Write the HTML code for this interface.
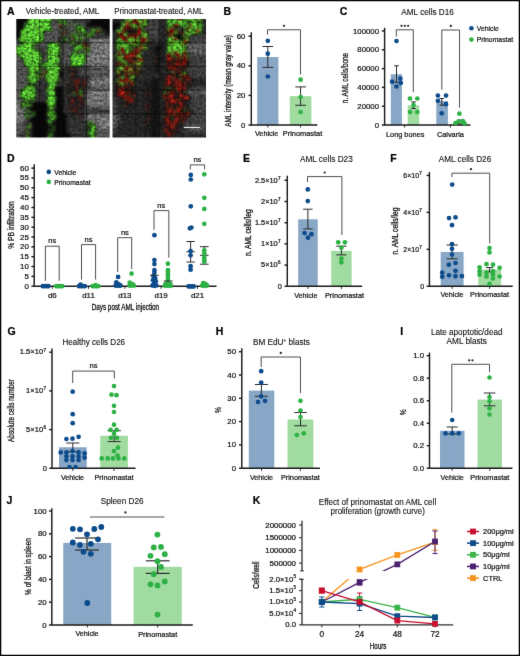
<!DOCTYPE html>
<html><head><meta charset="utf-8"><title>Figure</title>
<style>html,body{margin:0;padding:0;background:#fff;width:520px;height:656px;overflow:hidden}
svg{display:block;font-family:"Liberation Sans", sans-serif}
text{stroke:#111;stroke-width:0.22px;paint-order:stroke}
svg{will-change:transform;filter:none}
text.c{stroke-width:0.3px}
text.t{stroke-width:0.12px}</style></head>
<body><svg width="520" height="656" viewBox="0 0 520 656" font-family='"Liberation Sans", sans-serif'><defs><filter id="gb" x="0" y="0" width="520" height="656" filterUnits="userSpaceOnUse" color-interpolation-filters="sRGB"><feConvolveMatrix order="3" kernelMatrix="0.0049 0.0602 0.0049 0.0602 0.7396 0.0602 0.0049 0.0602 0.0049" divisor="1" edgeMode="duplicate"/></filter></defs><rect width="520" height="656" fill="#fff"/><g filter="url(#gb)"><defs><filter id="fa" x="-5%" y="-5%" width="110%" height="110%" color-interpolation-filters="sRGB">
<feGaussianBlur in="SourceGraphic" stdDeviation="1.8" result="b"/>
<feColorMatrix in="b" type="matrix" values="0 0 1 0 0  0 0 1 0 0  0 0 1 0 0  0 0 0 0 1" result="gf"/>
<feTurbulence type="fractalNoise" baseFrequency="0.38" numOctaves="3" seed="11" result="n0"/>
<feColorMatrix in="n0" type="matrix" values="1 0 0 0 0  1 0 0 0 0  1 0 0 0 0  0 0 0 0 1" result="n0g"/>
<feComposite in="gf" in2="n0g" operator="arithmetic" k1="1.2" k2="0.4" k3="0" k4="0" result="grey"/>
<feColorMatrix in="b" type="matrix" values="0 0 0 0 0  0 0 0 0 0  0 0 0 0 0  0 1 0 0 0" result="gi"/>
<feTurbulence type="fractalNoise" baseFrequency="0.24" numOctaves="3" seed="12" result="n1"/>
<feColorMatrix in="n1" type="matrix" values="0 0 0 0 0  0 0 0 0 0  0 0 0 0 0  2.2 0 0 0 -0.6" result="n1a"/>
<feComposite in="gi" in2="n1a" operator="arithmetic" k1="0" k2="2.4" k3="1.5" k4="-1.566" result="gm0"/>
<feGaussianBlur in="gm0" stdDeviation="0.8" result="gm"/>
<feFlood flood-color="#58c432" result="gc"/>
<feComposite in="gc" in2="gm" operator="in" result="gcol0"/>
<feComposite in="gcol0" in2="n0g" operator="arithmetic" k1="1.5" k2="0.2" k3="0" k4="0" result="gcol"/>
<feColorMatrix in="b" type="matrix" values="0 0 0 0 0  0 0 0 0 0  0 0 0 0 0  1 0 0 0 0" result="ri"/>
<feTurbulence type="fractalNoise" baseFrequency="0.24" numOctaves="3" seed="13" result="n2"/>
<feColorMatrix in="n2" type="matrix" values="0 0 0 0 0  0 0 0 0 0  0 0 0 0 0  2.2 0 0 0 -0.6" result="n2a"/>
<feComposite in="ri" in2="n2a" operator="arithmetic" k1="0" k2="2.4" k3="1.5" k4="-1.566" result="rm0"/>
<feGaussianBlur in="rm0" stdDeviation="0.8" result="rm"/>
<feFlood flood-color="#c42618" result="rc"/>
<feComposite in="rc" in2="rm" operator="in" result="rcol0"/>
<feComposite in="rcol0" in2="n0g" operator="arithmetic" k1="1.2" k2="0.3" k3="0" k4="0" result="rcol"/>
<feBlend in="gcol" in2="grey" mode="normal" result="o1"/>
<feBlend in="rcol" in2="o1" mode="normal"/>
</filter><filter id="fb" x="-5%" y="-5%" width="110%" height="110%" color-interpolation-filters="sRGB">
<feGaussianBlur in="SourceGraphic" stdDeviation="1.8" result="b"/>
<feColorMatrix in="b" type="matrix" values="0 0 1 0 0  0 0 1 0 0  0 0 1 0 0  0 0 0 0 1" result="gf"/>
<feTurbulence type="fractalNoise" baseFrequency="0.38" numOctaves="3" seed="23" result="n0"/>
<feColorMatrix in="n0" type="matrix" values="1 0 0 0 0  1 0 0 0 0  1 0 0 0 0  0 0 0 0 1" result="n0g"/>
<feComposite in="gf" in2="n0g" operator="arithmetic" k1="1.2" k2="0.4" k3="0" k4="0" result="grey"/>
<feColorMatrix in="b" type="matrix" values="0 0 0 0 0  0 0 0 0 0  0 0 0 0 0  0 1 0 0 0" result="gi"/>
<feTurbulence type="fractalNoise" baseFrequency="0.24" numOctaves="3" seed="24" result="n1"/>
<feColorMatrix in="n1" type="matrix" values="0 0 0 0 0  0 0 0 0 0  0 0 0 0 0  2.2 0 0 0 -0.6" result="n1a"/>
<feComposite in="gi" in2="n1a" operator="arithmetic" k1="0" k2="2.4" k3="1.5" k4="-1.566" result="gm0"/>
<feGaussianBlur in="gm0" stdDeviation="0.8" result="gm"/>
<feFlood flood-color="#58c432" result="gc"/>
<feComposite in="gc" in2="gm" operator="in" result="gcol0"/>
<feComposite in="gcol0" in2="n0g" operator="arithmetic" k1="1.5" k2="0.2" k3="0" k4="0" result="gcol"/>
<feColorMatrix in="b" type="matrix" values="0 0 0 0 0  0 0 0 0 0  0 0 0 0 0  1 0 0 0 0" result="ri"/>
<feTurbulence type="fractalNoise" baseFrequency="0.24" numOctaves="3" seed="25" result="n2"/>
<feColorMatrix in="n2" type="matrix" values="0 0 0 0 0  0 0 0 0 0  0 0 0 0 0  2.2 0 0 0 -0.6" result="n2a"/>
<feComposite in="ri" in2="n2a" operator="arithmetic" k1="0" k2="2.4" k3="1.5" k4="-1.566" result="rm0"/>
<feGaussianBlur in="rm0" stdDeviation="0.8" result="rm"/>
<feFlood flood-color="#c42618" result="rc"/>
<feComposite in="rc" in2="rm" operator="in" result="rcol0"/>
<feComposite in="rcol0" in2="n0g" operator="arithmetic" k1="1.2" k2="0.3" k3="0" k4="0" result="rcol"/>
<feBlend in="gcol" in2="grey" mode="normal" result="o1"/>
<feBlend in="rcol" in2="o1" mode="normal"/>
</filter></defs><clipPath id="ca"><rect x="16.30" y="18.90" width="93.40" height="118.70"/></clipPath>
<g clip-path="url(#ca)"><g filter="url(#fa)">
<rect x="10.30" y="12.90" width="10.19" height="10.26" fill="#000007"/>
<rect x="20.19" y="12.90" width="4.19" height="10.26" fill="#000007"/>
<rect x="24.08" y="12.90" width="4.19" height="10.26" fill="#000007"/>
<rect x="27.98" y="12.90" width="4.19" height="10.26" fill="#0fff1e"/>
<rect x="31.87" y="12.90" width="4.19" height="10.26" fill="#0fff1e"/>
<rect x="35.76" y="12.90" width="4.19" height="10.26" fill="#0fff1e"/>
<rect x="39.65" y="12.90" width="4.19" height="10.26" fill="#0fff1e"/>
<rect x="43.54" y="12.90" width="4.19" height="10.26" fill="#0fff1e"/>
<rect x="47.43" y="12.90" width="4.19" height="10.26" fill="#0fff1e"/>
<rect x="51.33" y="12.90" width="4.19" height="10.26" fill="#00004f"/>
<rect x="55.22" y="12.90" width="4.19" height="10.26" fill="#3f7233"/>
<rect x="59.11" y="12.90" width="4.19" height="10.26" fill="#3f7233"/>
<rect x="63.00" y="12.90" width="4.19" height="10.26" fill="#3f7233"/>
<rect x="66.89" y="12.90" width="4.19" height="10.26" fill="#0f7a4c"/>
<rect x="70.78" y="12.90" width="4.19" height="10.26" fill="#000030"/>
<rect x="74.68" y="12.90" width="4.19" height="10.26" fill="#000030"/>
<rect x="78.57" y="12.90" width="4.19" height="10.26" fill="#000030"/>
<rect x="82.46" y="12.90" width="4.19" height="10.26" fill="#000030"/>
<rect x="86.35" y="12.90" width="4.19" height="10.26" fill="#000030"/>
<rect x="90.24" y="12.90" width="4.19" height="10.26" fill="#000007"/>
<rect x="94.13" y="12.90" width="4.19" height="10.26" fill="#000007"/>
<rect x="98.03" y="12.90" width="4.19" height="10.26" fill="#000007"/>
<rect x="101.92" y="12.90" width="4.19" height="10.26" fill="#000007"/>
<rect x="105.81" y="12.90" width="10.19" height="10.26" fill="#000007"/>
<rect x="10.30" y="22.86" width="10.19" height="4.26" fill="#000007"/>
<rect x="20.19" y="22.86" width="4.19" height="4.26" fill="#000007"/>
<rect x="24.08" y="22.86" width="4.19" height="4.26" fill="#19b726"/>
<rect x="27.98" y="22.86" width="4.19" height="4.26" fill="#0fff1e"/>
<rect x="31.87" y="22.86" width="4.19" height="4.26" fill="#0fff1e"/>
<rect x="35.76" y="22.86" width="4.19" height="4.26" fill="#0fff1e"/>
<rect x="39.65" y="22.86" width="4.19" height="4.26" fill="#0fff1e"/>
<rect x="43.54" y="22.86" width="4.19" height="4.26" fill="#0fff1e"/>
<rect x="47.43" y="22.86" width="4.19" height="4.26" fill="#0fff1e"/>
<rect x="51.33" y="22.86" width="4.19" height="4.26" fill="#00004f"/>
<rect x="55.22" y="22.86" width="4.19" height="4.26" fill="#00004f"/>
<rect x="59.11" y="22.86" width="4.19" height="4.26" fill="#3f7233"/>
<rect x="63.00" y="22.86" width="4.19" height="4.26" fill="#3f7233"/>
<rect x="66.89" y="22.86" width="4.19" height="4.26" fill="#0f7a4c"/>
<rect x="70.78" y="22.86" width="4.19" height="4.26" fill="#0f7a4c"/>
<rect x="74.68" y="22.86" width="4.19" height="4.26" fill="#0f7a4c"/>
<rect x="78.57" y="22.86" width="4.19" height="4.26" fill="#0f7a4c"/>
<rect x="82.46" y="22.86" width="4.19" height="4.26" fill="#00004f"/>
<rect x="86.35" y="22.86" width="4.19" height="4.26" fill="#000007"/>
<rect x="90.24" y="22.86" width="4.19" height="4.26" fill="#000007"/>
<rect x="94.13" y="22.86" width="4.19" height="4.26" fill="#000007"/>
<rect x="98.03" y="22.86" width="4.19" height="4.26" fill="#000007"/>
<rect x="101.92" y="22.86" width="4.19" height="4.26" fill="#000007"/>
<rect x="105.81" y="22.86" width="10.19" height="4.26" fill="#000007"/>
<rect x="10.30" y="26.81" width="10.19" height="4.26" fill="#000007"/>
<rect x="20.19" y="26.81" width="4.19" height="4.26" fill="#000007"/>
<rect x="24.08" y="26.81" width="4.19" height="4.26" fill="#0fff1e"/>
<rect x="27.98" y="26.81" width="4.19" height="4.26" fill="#0fff1e"/>
<rect x="31.87" y="26.81" width="4.19" height="4.26" fill="#0fff1e"/>
<rect x="35.76" y="26.81" width="4.19" height="4.26" fill="#0fff1e"/>
<rect x="39.65" y="26.81" width="4.19" height="4.26" fill="#0fff1e"/>
<rect x="43.54" y="26.81" width="4.19" height="4.26" fill="#0fff1e"/>
<rect x="47.43" y="26.81" width="4.19" height="4.26" fill="#0fff1e"/>
<rect x="51.33" y="26.81" width="4.19" height="4.26" fill="#00004f"/>
<rect x="55.22" y="26.81" width="4.19" height="4.26" fill="#00004f"/>
<rect x="59.11" y="26.81" width="4.19" height="4.26" fill="#3f7233"/>
<rect x="63.00" y="26.81" width="4.19" height="4.26" fill="#3f7233"/>
<rect x="66.89" y="26.81" width="4.19" height="4.26" fill="#00004f"/>
<rect x="70.78" y="26.81" width="4.19" height="4.26" fill="#00004f"/>
<rect x="74.68" y="26.81" width="4.19" height="4.26" fill="#19b726"/>
<rect x="78.57" y="26.81" width="4.19" height="4.26" fill="#19b726"/>
<rect x="82.46" y="26.81" width="4.19" height="4.26" fill="#19b726"/>
<rect x="86.35" y="26.81" width="4.19" height="4.26" fill="#000030"/>
<rect x="90.24" y="26.81" width="4.19" height="4.26" fill="#3f7233"/>
<rect x="94.13" y="26.81" width="4.19" height="4.26" fill="#3f7233"/>
<rect x="98.03" y="26.81" width="4.19" height="4.26" fill="#3f7233"/>
<rect x="101.92" y="26.81" width="4.19" height="4.26" fill="#000007"/>
<rect x="105.81" y="26.81" width="10.19" height="4.26" fill="#000007"/>
<rect x="10.30" y="30.77" width="10.19" height="4.26" fill="#000007"/>
<rect x="20.19" y="30.77" width="4.19" height="4.26" fill="#0fff1e"/>
<rect x="24.08" y="30.77" width="4.19" height="4.26" fill="#0fff1e"/>
<rect x="27.98" y="30.77" width="4.19" height="4.26" fill="#0fff1e"/>
<rect x="31.87" y="30.77" width="4.19" height="4.26" fill="#0fff1e"/>
<rect x="35.76" y="30.77" width="4.19" height="4.26" fill="#0fff1e"/>
<rect x="39.65" y="30.77" width="4.19" height="4.26" fill="#0fff1e"/>
<rect x="43.54" y="30.77" width="4.19" height="4.26" fill="#00004f"/>
<rect x="47.43" y="30.77" width="4.19" height="4.26" fill="#00004f"/>
<rect x="51.33" y="30.77" width="4.19" height="4.26" fill="#00004f"/>
<rect x="55.22" y="30.77" width="4.19" height="4.26" fill="#00004f"/>
<rect x="59.11" y="30.77" width="4.19" height="4.26" fill="#3f7233"/>
<rect x="63.00" y="30.77" width="4.19" height="4.26" fill="#3f7233"/>
<rect x="66.89" y="30.77" width="4.19" height="4.26" fill="#3f7233"/>
<rect x="70.78" y="30.77" width="4.19" height="4.26" fill="#0f7a4c"/>
<rect x="74.68" y="30.77" width="4.19" height="4.26" fill="#3f7233"/>
<rect x="78.57" y="30.77" width="4.19" height="4.26" fill="#0f7a4c"/>
<rect x="82.46" y="30.77" width="4.19" height="4.26" fill="#3f7233"/>
<rect x="86.35" y="30.77" width="4.19" height="4.26" fill="#0f7a4c"/>
<rect x="90.24" y="30.77" width="4.19" height="4.26" fill="#3f7233"/>
<rect x="94.13" y="30.77" width="4.19" height="4.26" fill="#3f7233"/>
<rect x="98.03" y="30.77" width="4.19" height="4.26" fill="#3f7233"/>
<rect x="101.92" y="30.77" width="4.19" height="4.26" fill="#3f7233"/>
<rect x="105.81" y="30.77" width="10.19" height="4.26" fill="#000007"/>
<rect x="10.30" y="34.73" width="10.19" height="4.26" fill="#000007"/>
<rect x="20.19" y="34.73" width="4.19" height="4.26" fill="#0fff1e"/>
<rect x="24.08" y="34.73" width="4.19" height="4.26" fill="#0fff1e"/>
<rect x="27.98" y="34.73" width="4.19" height="4.26" fill="#0fff1e"/>
<rect x="31.87" y="34.73" width="4.19" height="4.26" fill="#0fff1e"/>
<rect x="35.76" y="34.73" width="4.19" height="4.26" fill="#0fff1e"/>
<rect x="39.65" y="34.73" width="4.19" height="4.26" fill="#0fff1e"/>
<rect x="43.54" y="34.73" width="4.19" height="4.26" fill="#00004f"/>
<rect x="47.43" y="34.73" width="4.19" height="4.26" fill="#00004f"/>
<rect x="51.33" y="34.73" width="4.19" height="4.26" fill="#00004f"/>
<rect x="55.22" y="34.73" width="4.19" height="4.26" fill="#00004f"/>
<rect x="59.11" y="34.73" width="4.19" height="4.26" fill="#3f7233"/>
<rect x="63.00" y="34.73" width="4.19" height="4.26" fill="#3f7233"/>
<rect x="66.89" y="34.73" width="4.19" height="4.26" fill="#0f7a4c"/>
<rect x="70.78" y="34.73" width="4.19" height="4.26" fill="#3f7233"/>
<rect x="74.68" y="34.73" width="4.19" height="4.26" fill="#0f7a4c"/>
<rect x="78.57" y="34.73" width="4.19" height="4.26" fill="#3f7233"/>
<rect x="82.46" y="34.73" width="4.19" height="4.26" fill="#0f7a4c"/>
<rect x="86.35" y="34.73" width="4.19" height="4.26" fill="#3f7233"/>
<rect x="90.24" y="34.73" width="4.19" height="4.26" fill="#3f7233"/>
<rect x="94.13" y="34.73" width="4.19" height="4.26" fill="#000030"/>
<rect x="98.03" y="34.73" width="4.19" height="4.26" fill="#000030"/>
<rect x="101.92" y="34.73" width="4.19" height="4.26" fill="#000030"/>
<rect x="105.81" y="34.73" width="10.19" height="4.26" fill="#000030"/>
<rect x="10.30" y="38.68" width="10.19" height="4.26" fill="#000030"/>
<rect x="20.19" y="38.68" width="4.19" height="4.26" fill="#0fff1e"/>
<rect x="24.08" y="38.68" width="4.19" height="4.26" fill="#0fff1e"/>
<rect x="27.98" y="38.68" width="4.19" height="4.26" fill="#0fff1e"/>
<rect x="31.87" y="38.68" width="4.19" height="4.26" fill="#0fff1e"/>
<rect x="35.76" y="38.68" width="4.19" height="4.26" fill="#0fff1e"/>
<rect x="39.65" y="38.68" width="4.19" height="4.26" fill="#0fff1e"/>
<rect x="43.54" y="38.68" width="4.19" height="4.26" fill="#00004f"/>
<rect x="47.43" y="38.68" width="4.19" height="4.26" fill="#00004f"/>
<rect x="51.33" y="38.68" width="4.19" height="4.26" fill="#00004f"/>
<rect x="55.22" y="38.68" width="4.19" height="4.26" fill="#00004f"/>
<rect x="59.11" y="38.68" width="4.19" height="4.26" fill="#0c7211"/>
<rect x="63.00" y="38.68" width="4.19" height="4.26" fill="#0c7211"/>
<rect x="66.89" y="38.68" width="4.19" height="4.26" fill="#3f7233"/>
<rect x="70.78" y="38.68" width="4.19" height="4.26" fill="#0f7a4c"/>
<rect x="74.68" y="38.68" width="4.19" height="4.26" fill="#3f7233"/>
<rect x="78.57" y="38.68" width="4.19" height="4.26" fill="#0f7a4c"/>
<rect x="82.46" y="38.68" width="4.19" height="4.26" fill="#3f7233"/>
<rect x="86.35" y="38.68" width="4.19" height="4.26" fill="#0f7a4c"/>
<rect x="90.24" y="38.68" width="4.19" height="4.26" fill="#000072"/>
<rect x="94.13" y="38.68" width="4.19" height="4.26" fill="#000072"/>
<rect x="98.03" y="38.68" width="4.19" height="4.26" fill="#000072"/>
<rect x="101.92" y="38.68" width="4.19" height="4.26" fill="#000072"/>
<rect x="105.81" y="38.68" width="10.19" height="4.26" fill="#000072"/>
<rect x="10.30" y="42.64" width="10.19" height="4.26" fill="#00004f"/>
<rect x="20.19" y="42.64" width="4.19" height="4.26" fill="#19b726"/>
<rect x="24.08" y="42.64" width="4.19" height="4.26" fill="#19b726"/>
<rect x="27.98" y="42.64" width="4.19" height="4.26" fill="#19b726"/>
<rect x="31.87" y="42.64" width="4.19" height="4.26" fill="#19b726"/>
<rect x="35.76" y="42.64" width="4.19" height="4.26" fill="#00004f"/>
<rect x="39.65" y="42.64" width="4.19" height="4.26" fill="#00004f"/>
<rect x="43.54" y="42.64" width="4.19" height="4.26" fill="#00004f"/>
<rect x="47.43" y="42.64" width="4.19" height="4.26" fill="#0fff1e"/>
<rect x="51.33" y="42.64" width="4.19" height="4.26" fill="#0fff1e"/>
<rect x="55.22" y="42.64" width="4.19" height="4.26" fill="#0fff1e"/>
<rect x="59.11" y="42.64" width="4.19" height="4.26" fill="#000030"/>
<rect x="63.00" y="42.64" width="4.19" height="4.26" fill="#00004f"/>
<rect x="66.89" y="42.64" width="4.19" height="4.26" fill="#00004f"/>
<rect x="70.78" y="42.64" width="4.19" height="4.26" fill="#0f7a4c"/>
<rect x="74.68" y="42.64" width="4.19" height="4.26" fill="#54141e"/>
<rect x="78.57" y="42.64" width="4.19" height="4.26" fill="#19b726"/>
<rect x="82.46" y="42.64" width="4.19" height="4.26" fill="#54141e"/>
<rect x="86.35" y="42.64" width="4.19" height="4.26" fill="#54141e"/>
<rect x="90.24" y="42.64" width="4.19" height="4.26" fill="#000072"/>
<rect x="94.13" y="42.64" width="4.19" height="4.26" fill="#000072"/>
<rect x="98.03" y="42.64" width="4.19" height="4.26" fill="#000072"/>
<rect x="101.92" y="42.64" width="4.19" height="4.26" fill="#000072"/>
<rect x="105.81" y="42.64" width="10.19" height="4.26" fill="#000072"/>
<rect x="10.30" y="46.60" width="10.19" height="4.26" fill="#0fff1e"/>
<rect x="20.19" y="46.60" width="4.19" height="4.26" fill="#0fff1e"/>
<rect x="24.08" y="46.60" width="4.19" height="4.26" fill="#0fff1e"/>
<rect x="27.98" y="46.60" width="4.19" height="4.26" fill="#0fff1e"/>
<rect x="31.87" y="46.60" width="4.19" height="4.26" fill="#0fff1e"/>
<rect x="35.76" y="46.60" width="4.19" height="4.26" fill="#00004f"/>
<rect x="39.65" y="46.60" width="4.19" height="4.26" fill="#000030"/>
<rect x="43.54" y="46.60" width="4.19" height="4.26" fill="#00004f"/>
<rect x="47.43" y="46.60" width="4.19" height="4.26" fill="#0fff1e"/>
<rect x="51.33" y="46.60" width="4.19" height="4.26" fill="#0fff1e"/>
<rect x="55.22" y="46.60" width="4.19" height="4.26" fill="#0fff1e"/>
<rect x="59.11" y="46.60" width="4.19" height="4.26" fill="#000030"/>
<rect x="63.00" y="46.60" width="4.19" height="4.26" fill="#00004f"/>
<rect x="66.89" y="46.60" width="4.19" height="4.26" fill="#00004f"/>
<rect x="70.78" y="46.60" width="4.19" height="4.26" fill="#19b726"/>
<rect x="74.68" y="46.60" width="4.19" height="4.26" fill="#0fff1e"/>
<rect x="78.57" y="46.60" width="4.19" height="4.26" fill="#19b726"/>
<rect x="82.46" y="46.60" width="4.19" height="4.26" fill="#19b726"/>
<rect x="86.35" y="46.60" width="4.19" height="4.26" fill="#3f7233"/>
<rect x="90.24" y="46.60" width="4.19" height="4.26" fill="#000072"/>
<rect x="94.13" y="46.60" width="4.19" height="4.26" fill="#000072"/>
<rect x="98.03" y="46.60" width="4.19" height="4.26" fill="#000072"/>
<rect x="101.92" y="46.60" width="4.19" height="4.26" fill="#000072"/>
<rect x="105.81" y="46.60" width="10.19" height="4.26" fill="#000072"/>
<rect x="10.30" y="50.55" width="10.19" height="4.26" fill="#0fff1e"/>
<rect x="20.19" y="50.55" width="4.19" height="4.26" fill="#0fff1e"/>
<rect x="24.08" y="50.55" width="4.19" height="4.26" fill="#0fff1e"/>
<rect x="27.98" y="50.55" width="4.19" height="4.26" fill="#0fff1e"/>
<rect x="31.87" y="50.55" width="4.19" height="4.26" fill="#0fff1e"/>
<rect x="35.76" y="50.55" width="4.19" height="4.26" fill="#0fff1e"/>
<rect x="39.65" y="50.55" width="4.19" height="4.26" fill="#000030"/>
<rect x="43.54" y="50.55" width="4.19" height="4.26" fill="#000030"/>
<rect x="47.43" y="50.55" width="4.19" height="4.26" fill="#0fff1e"/>
<rect x="51.33" y="50.55" width="4.19" height="4.26" fill="#0fff1e"/>
<rect x="55.22" y="50.55" width="4.19" height="4.26" fill="#0fff1e"/>
<rect x="59.11" y="50.55" width="4.19" height="4.26" fill="#3f7233"/>
<rect x="63.00" y="50.55" width="4.19" height="4.26" fill="#00004f"/>
<rect x="66.89" y="50.55" width="4.19" height="4.26" fill="#00004f"/>
<rect x="70.78" y="50.55" width="4.19" height="4.26" fill="#0f7a4c"/>
<rect x="74.68" y="50.55" width="4.19" height="4.26" fill="#0f7a4c"/>
<rect x="78.57" y="50.55" width="4.19" height="4.26" fill="#0f7a4c"/>
<rect x="82.46" y="50.55" width="4.19" height="4.26" fill="#0f7a4c"/>
<rect x="86.35" y="50.55" width="4.19" height="4.26" fill="#0f7a4c"/>
<rect x="90.24" y="50.55" width="4.19" height="4.26" fill="#000072"/>
<rect x="94.13" y="50.55" width="4.19" height="4.26" fill="#000072"/>
<rect x="98.03" y="50.55" width="4.19" height="4.26" fill="#000072"/>
<rect x="101.92" y="50.55" width="4.19" height="4.26" fill="#000072"/>
<rect x="105.81" y="50.55" width="10.19" height="4.26" fill="#000072"/>
<rect x="10.30" y="54.51" width="10.19" height="4.26" fill="#00004f"/>
<rect x="20.19" y="54.51" width="4.19" height="4.26" fill="#0fff1e"/>
<rect x="24.08" y="54.51" width="4.19" height="4.26" fill="#0fff1e"/>
<rect x="27.98" y="54.51" width="4.19" height="4.26" fill="#0fff1e"/>
<rect x="31.87" y="54.51" width="4.19" height="4.26" fill="#0fff1e"/>
<rect x="35.76" y="54.51" width="4.19" height="4.26" fill="#0fff1e"/>
<rect x="39.65" y="54.51" width="4.19" height="4.26" fill="#0fff1e"/>
<rect x="43.54" y="54.51" width="4.19" height="4.26" fill="#00004f"/>
<rect x="47.43" y="54.51" width="4.19" height="4.26" fill="#0fff1e"/>
<rect x="51.33" y="54.51" width="4.19" height="4.26" fill="#0fff1e"/>
<rect x="55.22" y="54.51" width="4.19" height="4.26" fill="#0fff1e"/>
<rect x="59.11" y="54.51" width="4.19" height="4.26" fill="#000030"/>
<rect x="63.00" y="54.51" width="4.19" height="4.26" fill="#00004f"/>
<rect x="66.89" y="54.51" width="4.19" height="4.26" fill="#00004f"/>
<rect x="70.78" y="54.51" width="4.19" height="4.26" fill="#0fff1e"/>
<rect x="74.68" y="54.51" width="4.19" height="4.26" fill="#0fff1e"/>
<rect x="78.57" y="54.51" width="4.19" height="4.26" fill="#0fff1e"/>
<rect x="82.46" y="54.51" width="4.19" height="4.26" fill="#0fff1e"/>
<rect x="86.35" y="54.51" width="4.19" height="4.26" fill="#000072"/>
<rect x="90.24" y="54.51" width="4.19" height="4.26" fill="#000072"/>
<rect x="94.13" y="54.51" width="4.19" height="4.26" fill="#000072"/>
<rect x="98.03" y="54.51" width="4.19" height="4.26" fill="#000072"/>
<rect x="101.92" y="54.51" width="4.19" height="4.26" fill="#000072"/>
<rect x="105.81" y="54.51" width="10.19" height="4.26" fill="#000072"/>
<rect x="10.30" y="58.47" width="10.19" height="4.26" fill="#00004f"/>
<rect x="20.19" y="58.47" width="4.19" height="4.26" fill="#00004f"/>
<rect x="24.08" y="58.47" width="4.19" height="4.26" fill="#0fff1e"/>
<rect x="27.98" y="58.47" width="4.19" height="4.26" fill="#0fff1e"/>
<rect x="31.87" y="58.47" width="4.19" height="4.26" fill="#0fff1e"/>
<rect x="35.76" y="58.47" width="4.19" height="4.26" fill="#0fff1e"/>
<rect x="39.65" y="58.47" width="4.19" height="4.26" fill="#00004f"/>
<rect x="43.54" y="58.47" width="4.19" height="4.26" fill="#00004f"/>
<rect x="47.43" y="58.47" width="4.19" height="4.26" fill="#0fff1e"/>
<rect x="51.33" y="58.47" width="4.19" height="4.26" fill="#0fff1e"/>
<rect x="55.22" y="58.47" width="4.19" height="4.26" fill="#0fff1e"/>
<rect x="59.11" y="58.47" width="4.19" height="4.26" fill="#000030"/>
<rect x="63.00" y="58.47" width="4.19" height="4.26" fill="#00004f"/>
<rect x="66.89" y="58.47" width="4.19" height="4.26" fill="#00004f"/>
<rect x="70.78" y="58.47" width="4.19" height="4.26" fill="#0fff1e"/>
<rect x="74.68" y="58.47" width="4.19" height="4.26" fill="#0fff1e"/>
<rect x="78.57" y="58.47" width="4.19" height="4.26" fill="#0fff1e"/>
<rect x="82.46" y="58.47" width="4.19" height="4.26" fill="#0fff1e"/>
<rect x="86.35" y="58.47" width="4.19" height="4.26" fill="#000072"/>
<rect x="90.24" y="58.47" width="4.19" height="4.26" fill="#000072"/>
<rect x="94.13" y="58.47" width="4.19" height="4.26" fill="#000072"/>
<rect x="98.03" y="58.47" width="4.19" height="4.26" fill="#000072"/>
<rect x="101.92" y="58.47" width="4.19" height="4.26" fill="#000072"/>
<rect x="105.81" y="58.47" width="10.19" height="4.26" fill="#000072"/>
<rect x="10.30" y="62.42" width="10.19" height="4.26" fill="#00004f"/>
<rect x="20.19" y="62.42" width="4.19" height="4.26" fill="#00004f"/>
<rect x="24.08" y="62.42" width="4.19" height="4.26" fill="#0fff1e"/>
<rect x="27.98" y="62.42" width="4.19" height="4.26" fill="#0fff1e"/>
<rect x="31.87" y="62.42" width="4.19" height="4.26" fill="#0fff1e"/>
<rect x="35.76" y="62.42" width="4.19" height="4.26" fill="#0fff1e"/>
<rect x="39.65" y="62.42" width="4.19" height="4.26" fill="#3f7233"/>
<rect x="43.54" y="62.42" width="4.19" height="4.26" fill="#0fff1e"/>
<rect x="47.43" y="62.42" width="4.19" height="4.26" fill="#0fff1e"/>
<rect x="51.33" y="62.42" width="4.19" height="4.26" fill="#0fff1e"/>
<rect x="55.22" y="62.42" width="4.19" height="4.26" fill="#0fff1e"/>
<rect x="59.11" y="62.42" width="4.19" height="4.26" fill="#000030"/>
<rect x="63.00" y="62.42" width="4.19" height="4.26" fill="#00004f"/>
<rect x="66.89" y="62.42" width="4.19" height="4.26" fill="#00004f"/>
<rect x="70.78" y="62.42" width="4.19" height="4.26" fill="#0fff1e"/>
<rect x="74.68" y="62.42" width="4.19" height="4.26" fill="#0fff1e"/>
<rect x="78.57" y="62.42" width="4.19" height="4.26" fill="#0fff1e"/>
<rect x="82.46" y="62.42" width="4.19" height="4.26" fill="#00004f"/>
<rect x="86.35" y="62.42" width="4.19" height="4.26" fill="#000072"/>
<rect x="90.24" y="62.42" width="4.19" height="4.26" fill="#000072"/>
<rect x="94.13" y="62.42" width="4.19" height="4.26" fill="#000072"/>
<rect x="98.03" y="62.42" width="4.19" height="4.26" fill="#000072"/>
<rect x="101.92" y="62.42" width="4.19" height="4.26" fill="#000072"/>
<rect x="105.81" y="62.42" width="10.19" height="4.26" fill="#000072"/>
<rect x="10.30" y="66.38" width="10.19" height="4.26" fill="#00004f"/>
<rect x="20.19" y="66.38" width="4.19" height="4.26" fill="#00004f"/>
<rect x="24.08" y="66.38" width="4.19" height="4.26" fill="#00004f"/>
<rect x="27.98" y="66.38" width="4.19" height="4.26" fill="#0fff1e"/>
<rect x="31.87" y="66.38" width="4.19" height="4.26" fill="#0fff1e"/>
<rect x="35.76" y="66.38" width="4.19" height="4.26" fill="#0fff1e"/>
<rect x="39.65" y="66.38" width="4.19" height="4.26" fill="#3f7233"/>
<rect x="43.54" y="66.38" width="4.19" height="4.26" fill="#3f7233"/>
<rect x="47.43" y="66.38" width="4.19" height="4.26" fill="#0fff1e"/>
<rect x="51.33" y="66.38" width="4.19" height="4.26" fill="#0fff1e"/>
<rect x="55.22" y="66.38" width="4.19" height="4.26" fill="#0fff1e"/>
<rect x="59.11" y="66.38" width="4.19" height="4.26" fill="#000030"/>
<rect x="63.00" y="66.38" width="4.19" height="4.26" fill="#000030"/>
<rect x="66.89" y="66.38" width="4.19" height="4.26" fill="#54141e"/>
<rect x="70.78" y="66.38" width="4.19" height="4.26" fill="#54141e"/>
<rect x="74.68" y="66.38" width="4.19" height="4.26" fill="#54141e"/>
<rect x="78.57" y="66.38" width="4.19" height="4.26" fill="#000030"/>
<rect x="82.46" y="66.38" width="4.19" height="4.26" fill="#000030"/>
<rect x="86.35" y="66.38" width="4.19" height="4.26" fill="#000030"/>
<rect x="90.24" y="66.38" width="4.19" height="4.26" fill="#00004f"/>
<rect x="94.13" y="66.38" width="4.19" height="4.26" fill="#00004f"/>
<rect x="98.03" y="66.38" width="4.19" height="4.26" fill="#00004f"/>
<rect x="101.92" y="66.38" width="4.19" height="4.26" fill="#00004f"/>
<rect x="105.81" y="66.38" width="10.19" height="4.26" fill="#00004f"/>
<rect x="10.30" y="70.34" width="10.19" height="4.26" fill="#00004f"/>
<rect x="20.19" y="70.34" width="4.19" height="4.26" fill="#00004f"/>
<rect x="24.08" y="70.34" width="4.19" height="4.26" fill="#00004f"/>
<rect x="27.98" y="70.34" width="4.19" height="4.26" fill="#0fff1e"/>
<rect x="31.87" y="70.34" width="4.19" height="4.26" fill="#0fff1e"/>
<rect x="35.76" y="70.34" width="4.19" height="4.26" fill="#3f7233"/>
<rect x="39.65" y="70.34" width="4.19" height="4.26" fill="#3f7233"/>
<rect x="43.54" y="70.34" width="4.19" height="4.26" fill="#3f7233"/>
<rect x="47.43" y="70.34" width="4.19" height="4.26" fill="#0fff1e"/>
<rect x="51.33" y="70.34" width="4.19" height="4.26" fill="#0fff1e"/>
<rect x="55.22" y="70.34" width="4.19" height="4.26" fill="#0fff1e"/>
<rect x="59.11" y="70.34" width="4.19" height="4.26" fill="#000007"/>
<rect x="63.00" y="70.34" width="4.19" height="4.26" fill="#000030"/>
<rect x="66.89" y="70.34" width="4.19" height="4.26" fill="#54141e"/>
<rect x="70.78" y="70.34" width="4.19" height="4.26" fill="#54141e"/>
<rect x="74.68" y="70.34" width="4.19" height="4.26" fill="#54141e"/>
<rect x="78.57" y="70.34" width="4.19" height="4.26" fill="#00004f"/>
<rect x="82.46" y="70.34" width="4.19" height="4.26" fill="#00004f"/>
<rect x="86.35" y="70.34" width="4.19" height="4.26" fill="#00004f"/>
<rect x="90.24" y="70.34" width="4.19" height="4.26" fill="#00004f"/>
<rect x="94.13" y="70.34" width="4.19" height="4.26" fill="#00004f"/>
<rect x="98.03" y="70.34" width="4.19" height="4.26" fill="#00004f"/>
<rect x="101.92" y="70.34" width="4.19" height="4.26" fill="#00004f"/>
<rect x="105.81" y="70.34" width="10.19" height="4.26" fill="#00004f"/>
<rect x="10.30" y="74.29" width="10.19" height="4.26" fill="#00004f"/>
<rect x="20.19" y="74.29" width="4.19" height="4.26" fill="#00004f"/>
<rect x="24.08" y="74.29" width="4.19" height="4.26" fill="#00004f"/>
<rect x="27.98" y="74.29" width="4.19" height="4.26" fill="#19b726"/>
<rect x="31.87" y="74.29" width="4.19" height="4.26" fill="#19b726"/>
<rect x="35.76" y="74.29" width="4.19" height="4.26" fill="#3f7233"/>
<rect x="39.65" y="74.29" width="4.19" height="4.26" fill="#3f7233"/>
<rect x="43.54" y="74.29" width="4.19" height="4.26" fill="#3f7233"/>
<rect x="47.43" y="74.29" width="4.19" height="4.26" fill="#0fff1e"/>
<rect x="51.33" y="74.29" width="4.19" height="4.26" fill="#0fff1e"/>
<rect x="55.22" y="74.29" width="4.19" height="4.26" fill="#0fff1e"/>
<rect x="59.11" y="74.29" width="4.19" height="4.26" fill="#000007"/>
<rect x="63.00" y="74.29" width="4.19" height="4.26" fill="#000030"/>
<rect x="66.89" y="74.29" width="4.19" height="4.26" fill="#000030"/>
<rect x="70.78" y="74.29" width="4.19" height="4.26" fill="#54141e"/>
<rect x="74.68" y="74.29" width="4.19" height="4.26" fill="#54141e"/>
<rect x="78.57" y="74.29" width="4.19" height="4.26" fill="#000030"/>
<rect x="82.46" y="74.29" width="4.19" height="4.26" fill="#000030"/>
<rect x="86.35" y="74.29" width="4.19" height="4.26" fill="#000030"/>
<rect x="90.24" y="74.29" width="4.19" height="4.26" fill="#00004f"/>
<rect x="94.13" y="74.29" width="4.19" height="4.26" fill="#00004f"/>
<rect x="98.03" y="74.29" width="4.19" height="4.26" fill="#00004f"/>
<rect x="101.92" y="74.29" width="4.19" height="4.26" fill="#00004f"/>
<rect x="105.81" y="74.29" width="10.19" height="4.26" fill="#00004f"/>
<rect x="10.30" y="78.25" width="10.19" height="4.26" fill="#00004f"/>
<rect x="20.19" y="78.25" width="4.19" height="4.26" fill="#00004f"/>
<rect x="24.08" y="78.25" width="4.19" height="4.26" fill="#00004f"/>
<rect x="27.98" y="78.25" width="4.19" height="4.26" fill="#0fff1e"/>
<rect x="31.87" y="78.25" width="4.19" height="4.26" fill="#0fff1e"/>
<rect x="35.76" y="78.25" width="4.19" height="4.26" fill="#3f7233"/>
<rect x="39.65" y="78.25" width="4.19" height="4.26" fill="#000030"/>
<rect x="43.54" y="78.25" width="4.19" height="4.26" fill="#000030"/>
<rect x="47.43" y="78.25" width="4.19" height="4.26" fill="#0fff1e"/>
<rect x="51.33" y="78.25" width="4.19" height="4.26" fill="#0fff1e"/>
<rect x="55.22" y="78.25" width="4.19" height="4.26" fill="#0fff1e"/>
<rect x="59.11" y="78.25" width="4.19" height="4.26" fill="#000030"/>
<rect x="63.00" y="78.25" width="4.19" height="4.26" fill="#000030"/>
<rect x="66.89" y="78.25" width="4.19" height="4.26" fill="#000030"/>
<rect x="70.78" y="78.25" width="4.19" height="4.26" fill="#54141e"/>
<rect x="74.68" y="78.25" width="4.19" height="4.26" fill="#54141e"/>
<rect x="78.57" y="78.25" width="4.19" height="4.26" fill="#54141e"/>
<rect x="82.46" y="78.25" width="4.19" height="4.26" fill="#54141e"/>
<rect x="86.35" y="78.25" width="4.19" height="4.26" fill="#000030"/>
<rect x="90.24" y="78.25" width="4.19" height="4.26" fill="#000072"/>
<rect x="94.13" y="78.25" width="4.19" height="4.26" fill="#000072"/>
<rect x="98.03" y="78.25" width="4.19" height="4.26" fill="#000072"/>
<rect x="101.92" y="78.25" width="4.19" height="4.26" fill="#000072"/>
<rect x="105.81" y="78.25" width="10.19" height="4.26" fill="#000072"/>
<rect x="10.30" y="82.21" width="10.19" height="4.26" fill="#00004f"/>
<rect x="20.19" y="82.21" width="4.19" height="4.26" fill="#00004f"/>
<rect x="24.08" y="82.21" width="4.19" height="4.26" fill="#00004f"/>
<rect x="27.98" y="82.21" width="4.19" height="4.26" fill="#0c7211"/>
<rect x="31.87" y="82.21" width="4.19" height="4.26" fill="#0c7211"/>
<rect x="35.76" y="82.21" width="4.19" height="4.26" fill="#000030"/>
<rect x="39.65" y="82.21" width="4.19" height="4.26" fill="#000030"/>
<rect x="43.54" y="82.21" width="4.19" height="4.26" fill="#000030"/>
<rect x="47.43" y="82.21" width="4.19" height="4.26" fill="#0fff1e"/>
<rect x="51.33" y="82.21" width="4.19" height="4.26" fill="#0fff1e"/>
<rect x="55.22" y="82.21" width="4.19" height="4.26" fill="#000030"/>
<rect x="59.11" y="82.21" width="4.19" height="4.26" fill="#000030"/>
<rect x="63.00" y="82.21" width="4.19" height="4.26" fill="#000030"/>
<rect x="66.89" y="82.21" width="4.19" height="4.26" fill="#54141e"/>
<rect x="70.78" y="82.21" width="4.19" height="4.26" fill="#54141e"/>
<rect x="74.68" y="82.21" width="4.19" height="4.26" fill="#54141e"/>
<rect x="78.57" y="82.21" width="4.19" height="4.26" fill="#54141e"/>
<rect x="82.46" y="82.21" width="4.19" height="4.26" fill="#54141e"/>
<rect x="86.35" y="82.21" width="4.19" height="4.26" fill="#00004f"/>
<rect x="90.24" y="82.21" width="4.19" height="4.26" fill="#000072"/>
<rect x="94.13" y="82.21" width="4.19" height="4.26" fill="#000072"/>
<rect x="98.03" y="82.21" width="4.19" height="4.26" fill="#000072"/>
<rect x="101.92" y="82.21" width="4.19" height="4.26" fill="#000072"/>
<rect x="105.81" y="82.21" width="10.19" height="4.26" fill="#000072"/>
<rect x="10.30" y="86.16" width="10.19" height="4.26" fill="#00004f"/>
<rect x="20.19" y="86.16" width="4.19" height="4.26" fill="#00004f"/>
<rect x="24.08" y="86.16" width="4.19" height="4.26" fill="#0fff1e"/>
<rect x="27.98" y="86.16" width="4.19" height="4.26" fill="#0fff1e"/>
<rect x="31.87" y="86.16" width="4.19" height="4.26" fill="#0fff1e"/>
<rect x="35.76" y="86.16" width="4.19" height="4.26" fill="#000030"/>
<rect x="39.65" y="86.16" width="4.19" height="4.26" fill="#000030"/>
<rect x="43.54" y="86.16" width="4.19" height="4.26" fill="#000030"/>
<rect x="47.43" y="86.16" width="4.19" height="4.26" fill="#0fff1e"/>
<rect x="51.33" y="86.16" width="4.19" height="4.26" fill="#0fff1e"/>
<rect x="55.22" y="86.16" width="4.19" height="4.26" fill="#000007"/>
<rect x="59.11" y="86.16" width="4.19" height="4.26" fill="#000007"/>
<rect x="63.00" y="86.16" width="4.19" height="4.26" fill="#000030"/>
<rect x="66.89" y="86.16" width="4.19" height="4.26" fill="#54141e"/>
<rect x="70.78" y="86.16" width="4.19" height="4.26" fill="#54141e"/>
<rect x="74.68" y="86.16" width="4.19" height="4.26" fill="#54141e"/>
<rect x="78.57" y="86.16" width="4.19" height="4.26" fill="#54141e"/>
<rect x="82.46" y="86.16" width="4.19" height="4.26" fill="#54141e"/>
<rect x="86.35" y="86.16" width="4.19" height="4.26" fill="#000030"/>
<rect x="90.24" y="86.16" width="4.19" height="4.26" fill="#00004f"/>
<rect x="94.13" y="86.16" width="4.19" height="4.26" fill="#00004f"/>
<rect x="98.03" y="86.16" width="4.19" height="4.26" fill="#00004f"/>
<rect x="101.92" y="86.16" width="4.19" height="4.26" fill="#00004f"/>
<rect x="105.81" y="86.16" width="10.19" height="4.26" fill="#00004f"/>
<rect x="10.30" y="90.12" width="10.19" height="4.26" fill="#00004f"/>
<rect x="20.19" y="90.12" width="4.19" height="4.26" fill="#0fff1e"/>
<rect x="24.08" y="90.12" width="4.19" height="4.26" fill="#0fff1e"/>
<rect x="27.98" y="90.12" width="4.19" height="4.26" fill="#0fff1e"/>
<rect x="31.87" y="90.12" width="4.19" height="4.26" fill="#0fff1e"/>
<rect x="35.76" y="90.12" width="4.19" height="4.26" fill="#000030"/>
<rect x="39.65" y="90.12" width="4.19" height="4.26" fill="#000030"/>
<rect x="43.54" y="90.12" width="4.19" height="4.26" fill="#000030"/>
<rect x="47.43" y="90.12" width="4.19" height="4.26" fill="#0fff1e"/>
<rect x="51.33" y="90.12" width="4.19" height="4.26" fill="#0fff1e"/>
<rect x="55.22" y="90.12" width="4.19" height="4.26" fill="#000007"/>
<rect x="59.11" y="90.12" width="4.19" height="4.26" fill="#000007"/>
<rect x="63.00" y="90.12" width="4.19" height="4.26" fill="#000030"/>
<rect x="66.89" y="90.12" width="4.19" height="4.26" fill="#54141e"/>
<rect x="70.78" y="90.12" width="4.19" height="4.26" fill="#19b726"/>
<rect x="74.68" y="90.12" width="4.19" height="4.26" fill="#54141e"/>
<rect x="78.57" y="90.12" width="4.19" height="4.26" fill="#19b726"/>
<rect x="82.46" y="90.12" width="4.19" height="4.26" fill="#54141e"/>
<rect x="86.35" y="90.12" width="4.19" height="4.26" fill="#000072"/>
<rect x="90.24" y="90.12" width="4.19" height="4.26" fill="#000072"/>
<rect x="94.13" y="90.12" width="4.19" height="4.26" fill="#000072"/>
<rect x="98.03" y="90.12" width="4.19" height="4.26" fill="#000072"/>
<rect x="101.92" y="90.12" width="4.19" height="4.26" fill="#000072"/>
<rect x="105.81" y="90.12" width="10.19" height="4.26" fill="#000072"/>
<rect x="10.30" y="94.08" width="10.19" height="4.26" fill="#00004f"/>
<rect x="20.19" y="94.08" width="4.19" height="4.26" fill="#0fff1e"/>
<rect x="24.08" y="94.08" width="4.19" height="4.26" fill="#0fff1e"/>
<rect x="27.98" y="94.08" width="4.19" height="4.26" fill="#0fff1e"/>
<rect x="31.87" y="94.08" width="4.19" height="4.26" fill="#0fff1e"/>
<rect x="35.76" y="94.08" width="4.19" height="4.26" fill="#000030"/>
<rect x="39.65" y="94.08" width="4.19" height="4.26" fill="#000030"/>
<rect x="43.54" y="94.08" width="4.19" height="4.26" fill="#000030"/>
<rect x="47.43" y="94.08" width="4.19" height="4.26" fill="#0fff1e"/>
<rect x="51.33" y="94.08" width="4.19" height="4.26" fill="#0fff1e"/>
<rect x="55.22" y="94.08" width="4.19" height="4.26" fill="#000007"/>
<rect x="59.11" y="94.08" width="4.19" height="4.26" fill="#000007"/>
<rect x="63.00" y="94.08" width="4.19" height="4.26" fill="#000030"/>
<rect x="66.89" y="94.08" width="4.19" height="4.26" fill="#54141e"/>
<rect x="70.78" y="94.08" width="4.19" height="4.26" fill="#19b726"/>
<rect x="74.68" y="94.08" width="4.19" height="4.26" fill="#54141e"/>
<rect x="78.57" y="94.08" width="4.19" height="4.26" fill="#54141e"/>
<rect x="82.46" y="94.08" width="4.19" height="4.26" fill="#19b726"/>
<rect x="86.35" y="94.08" width="4.19" height="4.26" fill="#000072"/>
<rect x="90.24" y="94.08" width="4.19" height="4.26" fill="#000072"/>
<rect x="94.13" y="94.08" width="4.19" height="4.26" fill="#000072"/>
<rect x="98.03" y="94.08" width="4.19" height="4.26" fill="#000072"/>
<rect x="101.92" y="94.08" width="4.19" height="4.26" fill="#000072"/>
<rect x="105.81" y="94.08" width="10.19" height="4.26" fill="#000072"/>
<rect x="10.30" y="98.03" width="10.19" height="4.26" fill="#00004f"/>
<rect x="20.19" y="98.03" width="4.19" height="4.26" fill="#00004f"/>
<rect x="24.08" y="98.03" width="4.19" height="4.26" fill="#19b726"/>
<rect x="27.98" y="98.03" width="4.19" height="4.26" fill="#19b726"/>
<rect x="31.87" y="98.03" width="4.19" height="4.26" fill="#19b726"/>
<rect x="35.76" y="98.03" width="4.19" height="4.26" fill="#000030"/>
<rect x="39.65" y="98.03" width="4.19" height="4.26" fill="#000030"/>
<rect x="43.54" y="98.03" width="4.19" height="4.26" fill="#000030"/>
<rect x="47.43" y="98.03" width="4.19" height="4.26" fill="#0fff1e"/>
<rect x="51.33" y="98.03" width="4.19" height="4.26" fill="#0fff1e"/>
<rect x="55.22" y="98.03" width="4.19" height="4.26" fill="#000007"/>
<rect x="59.11" y="98.03" width="4.19" height="4.26" fill="#000007"/>
<rect x="63.00" y="98.03" width="4.19" height="4.26" fill="#000030"/>
<rect x="66.89" y="98.03" width="4.19" height="4.26" fill="#54141e"/>
<rect x="70.78" y="98.03" width="4.19" height="4.26" fill="#54141e"/>
<rect x="74.68" y="98.03" width="4.19" height="4.26" fill="#54141e"/>
<rect x="78.57" y="98.03" width="4.19" height="4.26" fill="#54141e"/>
<rect x="82.46" y="98.03" width="4.19" height="4.26" fill="#54141e"/>
<rect x="86.35" y="98.03" width="4.19" height="4.26" fill="#000072"/>
<rect x="90.24" y="98.03" width="4.19" height="4.26" fill="#000072"/>
<rect x="94.13" y="98.03" width="4.19" height="4.26" fill="#000072"/>
<rect x="98.03" y="98.03" width="4.19" height="4.26" fill="#000072"/>
<rect x="101.92" y="98.03" width="4.19" height="4.26" fill="#000072"/>
<rect x="105.81" y="98.03" width="10.19" height="4.26" fill="#000072"/>
<rect x="10.30" y="101.99" width="10.19" height="4.26" fill="#000072"/>
<rect x="20.19" y="101.99" width="4.19" height="4.26" fill="#19b726"/>
<rect x="24.08" y="101.99" width="4.19" height="4.26" fill="#19b726"/>
<rect x="27.98" y="101.99" width="4.19" height="4.26" fill="#19b726"/>
<rect x="31.87" y="101.99" width="4.19" height="4.26" fill="#000007"/>
<rect x="35.76" y="101.99" width="4.19" height="4.26" fill="#000007"/>
<rect x="39.65" y="101.99" width="4.19" height="4.26" fill="#000007"/>
<rect x="43.54" y="101.99" width="4.19" height="4.26" fill="#000007"/>
<rect x="47.43" y="101.99" width="4.19" height="4.26" fill="#0fff1e"/>
<rect x="51.33" y="101.99" width="4.19" height="4.26" fill="#0fff1e"/>
<rect x="55.22" y="101.99" width="4.19" height="4.26" fill="#000007"/>
<rect x="59.11" y="101.99" width="4.19" height="4.26" fill="#000007"/>
<rect x="63.00" y="101.99" width="4.19" height="4.26" fill="#000030"/>
<rect x="66.89" y="101.99" width="4.19" height="4.26" fill="#54141e"/>
<rect x="70.78" y="101.99" width="4.19" height="4.26" fill="#54141e"/>
<rect x="74.68" y="101.99" width="4.19" height="4.26" fill="#54141e"/>
<rect x="78.57" y="101.99" width="4.19" height="4.26" fill="#54141e"/>
<rect x="82.46" y="101.99" width="4.19" height="4.26" fill="#54141e"/>
<rect x="86.35" y="101.99" width="4.19" height="4.26" fill="#000072"/>
<rect x="90.24" y="101.99" width="4.19" height="4.26" fill="#000072"/>
<rect x="94.13" y="101.99" width="4.19" height="4.26" fill="#000072"/>
<rect x="98.03" y="101.99" width="4.19" height="4.26" fill="#000072"/>
<rect x="101.92" y="101.99" width="4.19" height="4.26" fill="#000072"/>
<rect x="105.81" y="101.99" width="10.19" height="4.26" fill="#000072"/>
<rect x="10.30" y="105.95" width="10.19" height="4.26" fill="#000072"/>
<rect x="20.19" y="105.95" width="4.19" height="4.26" fill="#0f7a4c"/>
<rect x="24.08" y="105.95" width="4.19" height="4.26" fill="#0f7a4c"/>
<rect x="27.98" y="105.95" width="4.19" height="4.26" fill="#000007"/>
<rect x="31.87" y="105.95" width="4.19" height="4.26" fill="#000007"/>
<rect x="35.76" y="105.95" width="4.19" height="4.26" fill="#000007"/>
<rect x="39.65" y="105.95" width="4.19" height="4.26" fill="#000007"/>
<rect x="43.54" y="105.95" width="4.19" height="4.26" fill="#000007"/>
<rect x="47.43" y="105.95" width="4.19" height="4.26" fill="#19b726"/>
<rect x="51.33" y="105.95" width="4.19" height="4.26" fill="#19b726"/>
<rect x="55.22" y="105.95" width="4.19" height="4.26" fill="#000007"/>
<rect x="59.11" y="105.95" width="4.19" height="4.26" fill="#000007"/>
<rect x="63.00" y="105.95" width="4.19" height="4.26" fill="#000030"/>
<rect x="66.89" y="105.95" width="4.19" height="4.26" fill="#54141e"/>
<rect x="70.78" y="105.95" width="4.19" height="4.26" fill="#54141e"/>
<rect x="74.68" y="105.95" width="4.19" height="4.26" fill="#54141e"/>
<rect x="78.57" y="105.95" width="4.19" height="4.26" fill="#54141e"/>
<rect x="82.46" y="105.95" width="4.19" height="4.26" fill="#54141e"/>
<rect x="86.35" y="105.95" width="4.19" height="4.26" fill="#00004f"/>
<rect x="90.24" y="105.95" width="4.19" height="4.26" fill="#00004f"/>
<rect x="94.13" y="105.95" width="4.19" height="4.26" fill="#00004f"/>
<rect x="98.03" y="105.95" width="4.19" height="4.26" fill="#00004f"/>
<rect x="101.92" y="105.95" width="4.19" height="4.26" fill="#00004f"/>
<rect x="105.81" y="105.95" width="10.19" height="4.26" fill="#00004f"/>
<rect x="10.30" y="109.90" width="10.19" height="4.26" fill="#000072"/>
<rect x="20.19" y="109.90" width="4.19" height="4.26" fill="#000072"/>
<rect x="24.08" y="109.90" width="4.19" height="4.26" fill="#0f7a4c"/>
<rect x="27.98" y="109.90" width="4.19" height="4.26" fill="#0c7211"/>
<rect x="31.87" y="109.90" width="4.19" height="4.26" fill="#0c7211"/>
<rect x="35.76" y="109.90" width="4.19" height="4.26" fill="#000007"/>
<rect x="39.65" y="109.90" width="4.19" height="4.26" fill="#000007"/>
<rect x="43.54" y="109.90" width="4.19" height="4.26" fill="#000007"/>
<rect x="47.43" y="109.90" width="4.19" height="4.26" fill="#19b726"/>
<rect x="51.33" y="109.90" width="4.19" height="4.26" fill="#19b726"/>
<rect x="55.22" y="109.90" width="4.19" height="4.26" fill="#000007"/>
<rect x="59.11" y="109.90" width="4.19" height="4.26" fill="#000007"/>
<rect x="63.00" y="109.90" width="4.19" height="4.26" fill="#000030"/>
<rect x="66.89" y="109.90" width="4.19" height="4.26" fill="#000030"/>
<rect x="70.78" y="109.90" width="4.19" height="4.26" fill="#54141e"/>
<rect x="74.68" y="109.90" width="4.19" height="4.26" fill="#54141e"/>
<rect x="78.57" y="109.90" width="4.19" height="4.26" fill="#000030"/>
<rect x="82.46" y="109.90" width="4.19" height="4.26" fill="#000030"/>
<rect x="86.35" y="109.90" width="4.19" height="4.26" fill="#000030"/>
<rect x="90.24" y="109.90" width="4.19" height="4.26" fill="#000030"/>
<rect x="94.13" y="109.90" width="4.19" height="4.26" fill="#000030"/>
<rect x="98.03" y="109.90" width="4.19" height="4.26" fill="#000030"/>
<rect x="101.92" y="109.90" width="4.19" height="4.26" fill="#000030"/>
<rect x="105.81" y="109.90" width="10.19" height="4.26" fill="#000030"/>
<rect x="10.30" y="113.86" width="10.19" height="4.26" fill="#000072"/>
<rect x="20.19" y="113.86" width="4.19" height="4.26" fill="#000072"/>
<rect x="24.08" y="113.86" width="4.19" height="4.26" fill="#0f7a4c"/>
<rect x="27.98" y="113.86" width="4.19" height="4.26" fill="#0f7a4c"/>
<rect x="31.87" y="113.86" width="4.19" height="4.26" fill="#0c7211"/>
<rect x="35.76" y="113.86" width="4.19" height="4.26" fill="#000007"/>
<rect x="39.65" y="113.86" width="4.19" height="4.26" fill="#000007"/>
<rect x="43.54" y="113.86" width="4.19" height="4.26" fill="#000007"/>
<rect x="47.43" y="113.86" width="4.19" height="4.26" fill="#19b726"/>
<rect x="51.33" y="113.86" width="4.19" height="4.26" fill="#19b726"/>
<rect x="55.22" y="113.86" width="4.19" height="4.26" fill="#000007"/>
<rect x="59.11" y="113.86" width="4.19" height="4.26" fill="#000007"/>
<rect x="63.00" y="113.86" width="4.19" height="4.26" fill="#000007"/>
<rect x="66.89" y="113.86" width="4.19" height="4.26" fill="#000030"/>
<rect x="70.78" y="113.86" width="4.19" height="4.26" fill="#54141e"/>
<rect x="74.68" y="113.86" width="4.19" height="4.26" fill="#000030"/>
<rect x="78.57" y="113.86" width="4.19" height="4.26" fill="#54141e"/>
<rect x="82.46" y="113.86" width="4.19" height="4.26" fill="#000030"/>
<rect x="86.35" y="113.86" width="4.19" height="4.26" fill="#000072"/>
<rect x="90.24" y="113.86" width="4.19" height="4.26" fill="#000072"/>
<rect x="94.13" y="113.86" width="4.19" height="4.26" fill="#000072"/>
<rect x="98.03" y="113.86" width="4.19" height="4.26" fill="#000072"/>
<rect x="101.92" y="113.86" width="4.19" height="4.26" fill="#000072"/>
<rect x="105.81" y="113.86" width="10.19" height="4.26" fill="#000072"/>
<rect x="10.30" y="117.82" width="10.19" height="4.26" fill="#000072"/>
<rect x="20.19" y="117.82" width="4.19" height="4.26" fill="#000072"/>
<rect x="24.08" y="117.82" width="4.19" height="4.26" fill="#0f7a4c"/>
<rect x="27.98" y="117.82" width="4.19" height="4.26" fill="#000007"/>
<rect x="31.87" y="117.82" width="4.19" height="4.26" fill="#000007"/>
<rect x="35.76" y="117.82" width="4.19" height="4.26" fill="#000007"/>
<rect x="39.65" y="117.82" width="4.19" height="4.26" fill="#000007"/>
<rect x="43.54" y="117.82" width="4.19" height="4.26" fill="#000007"/>
<rect x="47.43" y="117.82" width="4.19" height="4.26" fill="#19b726"/>
<rect x="51.33" y="117.82" width="4.19" height="4.26" fill="#19b726"/>
<rect x="55.22" y="117.82" width="4.19" height="4.26" fill="#000007"/>
<rect x="59.11" y="117.82" width="4.19" height="4.26" fill="#000007"/>
<rect x="63.00" y="117.82" width="4.19" height="4.26" fill="#000007"/>
<rect x="66.89" y="117.82" width="4.19" height="4.26" fill="#000030"/>
<rect x="70.78" y="117.82" width="4.19" height="4.26" fill="#000030"/>
<rect x="74.68" y="117.82" width="4.19" height="4.26" fill="#000030"/>
<rect x="78.57" y="117.82" width="4.19" height="4.26" fill="#000030"/>
<rect x="82.46" y="117.82" width="4.19" height="4.26" fill="#000030"/>
<rect x="86.35" y="117.82" width="4.19" height="4.26" fill="#000072"/>
<rect x="90.24" y="117.82" width="4.19" height="4.26" fill="#000072"/>
<rect x="94.13" y="117.82" width="4.19" height="4.26" fill="#000072"/>
<rect x="98.03" y="117.82" width="4.19" height="4.26" fill="#000072"/>
<rect x="101.92" y="117.82" width="4.19" height="4.26" fill="#000072"/>
<rect x="105.81" y="117.82" width="10.19" height="4.26" fill="#000072"/>
<rect x="10.30" y="121.77" width="10.19" height="4.26" fill="#00004f"/>
<rect x="20.19" y="121.77" width="4.19" height="4.26" fill="#00004f"/>
<rect x="24.08" y="121.77" width="4.19" height="4.26" fill="#3f7233"/>
<rect x="27.98" y="121.77" width="4.19" height="4.26" fill="#3f7233"/>
<rect x="31.87" y="121.77" width="4.19" height="4.26" fill="#000007"/>
<rect x="35.76" y="121.77" width="4.19" height="4.26" fill="#000007"/>
<rect x="39.65" y="121.77" width="4.19" height="4.26" fill="#000007"/>
<rect x="43.54" y="121.77" width="4.19" height="4.26" fill="#000007"/>
<rect x="47.43" y="121.77" width="4.19" height="4.26" fill="#0c7211"/>
<rect x="51.33" y="121.77" width="4.19" height="4.26" fill="#0c7211"/>
<rect x="55.22" y="121.77" width="4.19" height="4.26" fill="#000007"/>
<rect x="59.11" y="121.77" width="4.19" height="4.26" fill="#000007"/>
<rect x="63.00" y="121.77" width="4.19" height="4.26" fill="#000007"/>
<rect x="66.89" y="121.77" width="4.19" height="4.26" fill="#000030"/>
<rect x="70.78" y="121.77" width="4.19" height="4.26" fill="#000030"/>
<rect x="74.68" y="121.77" width="4.19" height="4.26" fill="#000030"/>
<rect x="78.57" y="121.77" width="4.19" height="4.26" fill="#000030"/>
<rect x="82.46" y="121.77" width="4.19" height="4.26" fill="#000030"/>
<rect x="86.35" y="121.77" width="4.19" height="4.26" fill="#0c7211"/>
<rect x="90.24" y="121.77" width="4.19" height="4.26" fill="#0f7a4c"/>
<rect x="94.13" y="121.77" width="4.19" height="4.26" fill="#0f7a4c"/>
<rect x="98.03" y="121.77" width="4.19" height="4.26" fill="#000072"/>
<rect x="101.92" y="121.77" width="4.19" height="4.26" fill="#000072"/>
<rect x="105.81" y="121.77" width="10.19" height="4.26" fill="#000072"/>
<rect x="10.30" y="125.73" width="10.19" height="4.26" fill="#00004f"/>
<rect x="20.19" y="125.73" width="4.19" height="4.26" fill="#00004f"/>
<rect x="24.08" y="125.73" width="4.19" height="4.26" fill="#3f7233"/>
<rect x="27.98" y="125.73" width="4.19" height="4.26" fill="#3f7233"/>
<rect x="31.87" y="125.73" width="4.19" height="4.26" fill="#000007"/>
<rect x="35.76" y="125.73" width="4.19" height="4.26" fill="#000007"/>
<rect x="39.65" y="125.73" width="4.19" height="4.26" fill="#000007"/>
<rect x="43.54" y="125.73" width="4.19" height="4.26" fill="#000007"/>
<rect x="47.43" y="125.73" width="4.19" height="4.26" fill="#0c7211"/>
<rect x="51.33" y="125.73" width="4.19" height="4.26" fill="#0c7211"/>
<rect x="55.22" y="125.73" width="4.19" height="4.26" fill="#000007"/>
<rect x="59.11" y="125.73" width="4.19" height="4.26" fill="#000007"/>
<rect x="63.00" y="125.73" width="4.19" height="4.26" fill="#000007"/>
<rect x="66.89" y="125.73" width="4.19" height="4.26" fill="#000030"/>
<rect x="70.78" y="125.73" width="4.19" height="4.26" fill="#000030"/>
<rect x="74.68" y="125.73" width="4.19" height="4.26" fill="#000030"/>
<rect x="78.57" y="125.73" width="4.19" height="4.26" fill="#000030"/>
<rect x="82.46" y="125.73" width="4.19" height="4.26" fill="#000030"/>
<rect x="86.35" y="125.73" width="4.19" height="4.26" fill="#0c7211"/>
<rect x="90.24" y="125.73" width="4.19" height="4.26" fill="#19b726"/>
<rect x="94.13" y="125.73" width="4.19" height="4.26" fill="#0f7a4c"/>
<rect x="98.03" y="125.73" width="4.19" height="4.26" fill="#000072"/>
<rect x="101.92" y="125.73" width="4.19" height="4.26" fill="#000072"/>
<rect x="105.81" y="125.73" width="10.19" height="4.26" fill="#000072"/>
<rect x="10.30" y="129.69" width="10.19" height="4.26" fill="#00004f"/>
<rect x="20.19" y="129.69" width="4.19" height="4.26" fill="#00004f"/>
<rect x="24.08" y="129.69" width="4.19" height="4.26" fill="#3f7233"/>
<rect x="27.98" y="129.69" width="4.19" height="4.26" fill="#3f7233"/>
<rect x="31.87" y="129.69" width="4.19" height="4.26" fill="#000007"/>
<rect x="35.76" y="129.69" width="4.19" height="4.26" fill="#000007"/>
<rect x="39.65" y="129.69" width="4.19" height="4.26" fill="#000007"/>
<rect x="43.54" y="129.69" width="4.19" height="4.26" fill="#000007"/>
<rect x="47.43" y="129.69" width="4.19" height="4.26" fill="#0c7211"/>
<rect x="51.33" y="129.69" width="4.19" height="4.26" fill="#0c7211"/>
<rect x="55.22" y="129.69" width="4.19" height="4.26" fill="#000007"/>
<rect x="59.11" y="129.69" width="4.19" height="4.26" fill="#000007"/>
<rect x="63.00" y="129.69" width="4.19" height="4.26" fill="#000007"/>
<rect x="66.89" y="129.69" width="4.19" height="4.26" fill="#000030"/>
<rect x="70.78" y="129.69" width="4.19" height="4.26" fill="#000030"/>
<rect x="74.68" y="129.69" width="4.19" height="4.26" fill="#000030"/>
<rect x="78.57" y="129.69" width="4.19" height="4.26" fill="#000030"/>
<rect x="82.46" y="129.69" width="4.19" height="4.26" fill="#000030"/>
<rect x="86.35" y="129.69" width="4.19" height="4.26" fill="#19b726"/>
<rect x="90.24" y="129.69" width="4.19" height="4.26" fill="#19b726"/>
<rect x="94.13" y="129.69" width="4.19" height="4.26" fill="#0f7a4c"/>
<rect x="98.03" y="129.69" width="4.19" height="4.26" fill="#00004f"/>
<rect x="101.92" y="129.69" width="4.19" height="4.26" fill="#00004f"/>
<rect x="105.81" y="129.69" width="10.19" height="4.26" fill="#00004f"/>
<rect x="10.30" y="133.64" width="10.19" height="10.26" fill="#00004f"/>
<rect x="20.19" y="133.64" width="4.19" height="10.26" fill="#000030"/>
<rect x="24.08" y="133.64" width="4.19" height="10.26" fill="#3f7233"/>
<rect x="27.98" y="133.64" width="4.19" height="10.26" fill="#3f7233"/>
<rect x="31.87" y="133.64" width="4.19" height="10.26" fill="#000007"/>
<rect x="35.76" y="133.64" width="4.19" height="10.26" fill="#000007"/>
<rect x="39.65" y="133.64" width="4.19" height="10.26" fill="#000007"/>
<rect x="43.54" y="133.64" width="4.19" height="10.26" fill="#000007"/>
<rect x="47.43" y="133.64" width="4.19" height="10.26" fill="#0c7211"/>
<rect x="51.33" y="133.64" width="4.19" height="10.26" fill="#0c7211"/>
<rect x="55.22" y="133.64" width="4.19" height="10.26" fill="#000007"/>
<rect x="59.11" y="133.64" width="4.19" height="10.26" fill="#000007"/>
<rect x="63.00" y="133.64" width="4.19" height="10.26" fill="#000007"/>
<rect x="66.89" y="133.64" width="4.19" height="10.26" fill="#000007"/>
<rect x="70.78" y="133.64" width="4.19" height="10.26" fill="#000030"/>
<rect x="74.68" y="133.64" width="4.19" height="10.26" fill="#000030"/>
<rect x="78.57" y="133.64" width="4.19" height="10.26" fill="#000030"/>
<rect x="82.46" y="133.64" width="4.19" height="10.26" fill="#000030"/>
<rect x="86.35" y="133.64" width="4.19" height="10.26" fill="#0c7211"/>
<rect x="90.24" y="133.64" width="4.19" height="10.26" fill="#19b726"/>
<rect x="94.13" y="133.64" width="4.19" height="10.26" fill="#0f7a4c"/>
<rect x="98.03" y="133.64" width="4.19" height="10.26" fill="#00004f"/>
<rect x="101.92" y="133.64" width="4.19" height="10.26" fill="#00004f"/>
<rect x="105.81" y="133.64" width="10.19" height="10.26" fill="#00004f"/>
</g>
<rect x="39.20" y="18.90" width="0.9" height="118.70" fill="#000" opacity="0.45"/>
<rect x="62.55" y="18.90" width="0.9" height="118.70" fill="#000" opacity="0.45"/>
<rect x="85.90" y="18.90" width="0.9" height="118.70" fill="#000" opacity="0.45"/>
<rect x="16.30" y="42.19" width="93.40" height="0.9" fill="#000" opacity="0.45"/>
<rect x="16.30" y="65.93" width="93.40" height="0.9" fill="#000" opacity="0.45"/>
<rect x="16.30" y="89.67" width="93.40" height="0.9" fill="#000" opacity="0.45"/>
<rect x="16.30" y="113.41" width="93.40" height="0.9" fill="#000" opacity="0.45"/>
</g><clipPath id="cb"><rect x="112.50" y="18.90" width="93.50" height="118.70"/></clipPath>
<g clip-path="url(#cb)"><g filter="url(#fb)">
<rect x="106.50" y="12.90" width="10.20" height="10.26" fill="#000025"/>
<rect x="116.40" y="12.90" width="4.20" height="10.26" fill="#000025"/>
<rect x="120.29" y="12.90" width="4.20" height="10.26" fill="#000025"/>
<rect x="124.19" y="12.90" width="4.20" height="10.26" fill="#72d817"/>
<rect x="128.08" y="12.90" width="4.20" height="10.26" fill="#72d817"/>
<rect x="131.98" y="12.90" width="4.20" height="10.26" fill="#6bb717"/>
<rect x="135.88" y="12.90" width="4.20" height="10.26" fill="#6bb717"/>
<rect x="139.77" y="12.90" width="4.20" height="10.26" fill="#19b71d"/>
<rect x="143.67" y="12.90" width="4.20" height="10.26" fill="#6bb717"/>
<rect x="147.56" y="12.90" width="4.20" height="10.26" fill="#00003d"/>
<rect x="151.46" y="12.90" width="4.20" height="10.26" fill="#00003d"/>
<rect x="155.35" y="12.90" width="4.20" height="10.26" fill="#00003d"/>
<rect x="159.25" y="12.90" width="4.20" height="10.26" fill="#000025"/>
<rect x="163.15" y="12.90" width="4.20" height="10.26" fill="#000025"/>
<rect x="167.04" y="12.90" width="4.20" height="10.26" fill="#19b71d"/>
<rect x="170.94" y="12.90" width="4.20" height="10.26" fill="#19b71d"/>
<rect x="174.83" y="12.90" width="4.20" height="10.26" fill="#72d817"/>
<rect x="178.73" y="12.90" width="4.20" height="10.26" fill="#72d817"/>
<rect x="182.62" y="12.90" width="4.20" height="10.26" fill="#19b71d"/>
<rect x="186.52" y="12.90" width="4.20" height="10.26" fill="#19b71d"/>
<rect x="190.42" y="12.90" width="4.20" height="10.26" fill="#19b71d"/>
<rect x="194.31" y="12.90" width="4.20" height="10.26" fill="#72d817"/>
<rect x="198.21" y="12.90" width="4.20" height="10.26" fill="#19b71d"/>
<rect x="202.10" y="12.90" width="10.20" height="10.26" fill="#000025"/>
<rect x="106.50" y="22.86" width="10.20" height="4.26" fill="#000005"/>
<rect x="116.40" y="22.86" width="4.20" height="4.26" fill="#000005"/>
<rect x="120.29" y="22.86" width="4.20" height="4.26" fill="#19b71d"/>
<rect x="124.19" y="22.86" width="4.20" height="4.26" fill="#6bb717"/>
<rect x="128.08" y="22.86" width="4.20" height="4.26" fill="#6bb717"/>
<rect x="131.98" y="22.86" width="4.20" height="4.26" fill="#6bb717"/>
<rect x="135.88" y="22.86" width="4.20" height="4.26" fill="#6bb717"/>
<rect x="139.77" y="22.86" width="4.20" height="4.26" fill="#6bb717"/>
<rect x="143.67" y="22.86" width="4.20" height="4.26" fill="#6bb717"/>
<rect x="147.56" y="22.86" width="4.20" height="4.26" fill="#00003d"/>
<rect x="151.46" y="22.86" width="4.20" height="4.26" fill="#00003d"/>
<rect x="155.35" y="22.86" width="4.20" height="4.26" fill="#00003d"/>
<rect x="159.25" y="22.86" width="4.20" height="4.26" fill="#000025"/>
<rect x="163.15" y="22.86" width="4.20" height="4.26" fill="#000025"/>
<rect x="167.04" y="22.86" width="4.20" height="4.26" fill="#19b71d"/>
<rect x="170.94" y="22.86" width="4.20" height="4.26" fill="#6bb717"/>
<rect x="174.83" y="22.86" width="4.20" height="4.26" fill="#6bb717"/>
<rect x="178.73" y="22.86" width="4.20" height="4.26" fill="#6bb717"/>
<rect x="182.62" y="22.86" width="4.20" height="4.26" fill="#19b71d"/>
<rect x="186.52" y="22.86" width="4.20" height="4.26" fill="#19b71d"/>
<rect x="190.42" y="22.86" width="4.20" height="4.26" fill="#72d817"/>
<rect x="194.31" y="22.86" width="4.20" height="4.26" fill="#19b71d"/>
<rect x="198.21" y="22.86" width="4.20" height="4.26" fill="#19b71d"/>
<rect x="202.10" y="22.86" width="10.20" height="4.26" fill="#000025"/>
<rect x="106.50" y="26.81" width="10.20" height="4.26" fill="#000005"/>
<rect x="116.40" y="26.81" width="4.20" height="4.26" fill="#19b71d"/>
<rect x="120.29" y="26.81" width="4.20" height="4.26" fill="#19b71d"/>
<rect x="124.19" y="26.81" width="4.20" height="4.26" fill="#a32313"/>
<rect x="128.08" y="26.81" width="4.20" height="4.26" fill="#a32313"/>
<rect x="131.98" y="26.81" width="4.20" height="4.26" fill="#541417"/>
<rect x="135.88" y="26.81" width="4.20" height="4.26" fill="#6bb717"/>
<rect x="139.77" y="26.81" width="4.20" height="4.26" fill="#6bb717"/>
<rect x="143.67" y="26.81" width="4.20" height="4.26" fill="#00003d"/>
<rect x="147.56" y="26.81" width="4.20" height="4.26" fill="#00003d"/>
<rect x="151.46" y="26.81" width="4.20" height="4.26" fill="#00003d"/>
<rect x="155.35" y="26.81" width="4.20" height="4.26" fill="#00003d"/>
<rect x="159.25" y="26.81" width="4.20" height="4.26" fill="#000025"/>
<rect x="163.15" y="26.81" width="4.20" height="4.26" fill="#000025"/>
<rect x="167.04" y="26.81" width="4.20" height="4.26" fill="#6bb717"/>
<rect x="170.94" y="26.81" width="4.20" height="4.26" fill="#6bb717"/>
<rect x="174.83" y="26.81" width="4.20" height="4.26" fill="#000025"/>
<rect x="178.73" y="26.81" width="4.20" height="4.26" fill="#00003d"/>
<rect x="182.62" y="26.81" width="4.20" height="4.26" fill="#00003d"/>
<rect x="186.52" y="26.81" width="4.20" height="4.26" fill="#72d817"/>
<rect x="190.42" y="26.81" width="4.20" height="4.26" fill="#19b71d"/>
<rect x="194.31" y="26.81" width="4.20" height="4.26" fill="#19b71d"/>
<rect x="198.21" y="26.81" width="4.20" height="4.26" fill="#72d817"/>
<rect x="202.10" y="26.81" width="10.20" height="4.26" fill="#000025"/>
<rect x="106.50" y="30.77" width="10.20" height="4.26" fill="#000025"/>
<rect x="116.40" y="30.77" width="4.20" height="4.26" fill="#6bb717"/>
<rect x="120.29" y="30.77" width="4.20" height="4.26" fill="#6bb717"/>
<rect x="124.19" y="30.77" width="4.20" height="4.26" fill="#6bb717"/>
<rect x="128.08" y="30.77" width="4.20" height="4.26" fill="#000005"/>
<rect x="131.98" y="30.77" width="4.20" height="4.26" fill="#541417"/>
<rect x="135.88" y="30.77" width="4.20" height="4.26" fill="#a32313"/>
<rect x="139.77" y="30.77" width="4.20" height="4.26" fill="#6bb717"/>
<rect x="143.67" y="30.77" width="4.20" height="4.26" fill="#6bb717"/>
<rect x="147.56" y="30.77" width="4.20" height="4.26" fill="#00003d"/>
<rect x="151.46" y="30.77" width="4.20" height="4.26" fill="#00003d"/>
<rect x="155.35" y="30.77" width="4.20" height="4.26" fill="#00003d"/>
<rect x="159.25" y="30.77" width="4.20" height="4.26" fill="#000025"/>
<rect x="163.15" y="30.77" width="4.20" height="4.26" fill="#000025"/>
<rect x="167.04" y="30.77" width="4.20" height="4.26" fill="#a32313"/>
<rect x="170.94" y="30.77" width="4.20" height="4.26" fill="#6bb717"/>
<rect x="174.83" y="30.77" width="4.20" height="4.26" fill="#6bb717"/>
<rect x="178.73" y="30.77" width="4.20" height="4.26" fill="#a32313"/>
<rect x="182.62" y="30.77" width="4.20" height="4.26" fill="#6bb717"/>
<rect x="186.52" y="30.77" width="4.20" height="4.26" fill="#19b71d"/>
<rect x="190.42" y="30.77" width="4.20" height="4.26" fill="#19b71d"/>
<rect x="194.31" y="30.77" width="4.20" height="4.26" fill="#72d817"/>
<rect x="198.21" y="30.77" width="4.20" height="4.26" fill="#19b71d"/>
<rect x="202.10" y="30.77" width="10.20" height="4.26" fill="#000025"/>
<rect x="106.50" y="34.73" width="10.20" height="4.26" fill="#000025"/>
<rect x="116.40" y="34.73" width="4.20" height="4.26" fill="#6bb717"/>
<rect x="120.29" y="34.73" width="4.20" height="4.26" fill="#a32313"/>
<rect x="124.19" y="34.73" width="4.20" height="4.26" fill="#6bb717"/>
<rect x="128.08" y="34.73" width="4.20" height="4.26" fill="#a32313"/>
<rect x="131.98" y="34.73" width="4.20" height="4.26" fill="#6bb717"/>
<rect x="135.88" y="34.73" width="4.20" height="4.26" fill="#6bb717"/>
<rect x="139.77" y="34.73" width="4.20" height="4.26" fill="#6bb717"/>
<rect x="143.67" y="34.73" width="4.20" height="4.26" fill="#6bb717"/>
<rect x="147.56" y="34.73" width="4.20" height="4.26" fill="#00003d"/>
<rect x="151.46" y="34.73" width="4.20" height="4.26" fill="#00003d"/>
<rect x="155.35" y="34.73" width="4.20" height="4.26" fill="#00003d"/>
<rect x="159.25" y="34.73" width="4.20" height="4.26" fill="#000025"/>
<rect x="163.15" y="34.73" width="4.20" height="4.26" fill="#000025"/>
<rect x="167.04" y="34.73" width="4.20" height="4.26" fill="#6bb717"/>
<rect x="170.94" y="34.73" width="4.20" height="4.26" fill="#6bb717"/>
<rect x="174.83" y="34.73" width="4.20" height="4.26" fill="#000005"/>
<rect x="178.73" y="34.73" width="4.20" height="4.26" fill="#000005"/>
<rect x="182.62" y="34.73" width="4.20" height="4.26" fill="#72d817"/>
<rect x="186.52" y="34.73" width="4.20" height="4.26" fill="#00003d"/>
<rect x="190.42" y="34.73" width="4.20" height="4.26" fill="#00003d"/>
<rect x="194.31" y="34.73" width="4.20" height="4.26" fill="#00003d"/>
<rect x="198.21" y="34.73" width="4.20" height="4.26" fill="#00003d"/>
<rect x="202.10" y="34.73" width="10.20" height="4.26" fill="#00003d"/>
<rect x="106.50" y="38.68" width="10.20" height="4.26" fill="#000025"/>
<rect x="116.40" y="38.68" width="4.20" height="4.26" fill="#19b71d"/>
<rect x="120.29" y="38.68" width="4.20" height="4.26" fill="#6bb717"/>
<rect x="124.19" y="38.68" width="4.20" height="4.26" fill="#6bb717"/>
<rect x="128.08" y="38.68" width="4.20" height="4.26" fill="#19b71d"/>
<rect x="131.98" y="38.68" width="4.20" height="4.26" fill="#6bb717"/>
<rect x="135.88" y="38.68" width="4.20" height="4.26" fill="#6bb717"/>
<rect x="139.77" y="38.68" width="4.20" height="4.26" fill="#a32313"/>
<rect x="143.67" y="38.68" width="4.20" height="4.26" fill="#6bb717"/>
<rect x="147.56" y="38.68" width="4.20" height="4.26" fill="#000025"/>
<rect x="151.46" y="38.68" width="4.20" height="4.26" fill="#000025"/>
<rect x="155.35" y="38.68" width="4.20" height="4.26" fill="#00003d"/>
<rect x="159.25" y="38.68" width="4.20" height="4.26" fill="#000025"/>
<rect x="163.15" y="38.68" width="4.20" height="4.26" fill="#000025"/>
<rect x="167.04" y="38.68" width="4.20" height="4.26" fill="#19b71d"/>
<rect x="170.94" y="38.68" width="4.20" height="4.26" fill="#72d817"/>
<rect x="174.83" y="38.68" width="4.20" height="4.26" fill="#72d817"/>
<rect x="178.73" y="38.68" width="4.20" height="4.26" fill="#19b71d"/>
<rect x="182.62" y="38.68" width="4.20" height="4.26" fill="#72d817"/>
<rect x="186.52" y="38.68" width="4.20" height="4.26" fill="#72d817"/>
<rect x="190.42" y="38.68" width="4.20" height="4.26" fill="#00003d"/>
<rect x="194.31" y="38.68" width="4.20" height="4.26" fill="#00003d"/>
<rect x="198.21" y="38.68" width="4.20" height="4.26" fill="#00003d"/>
<rect x="202.10" y="38.68" width="10.20" height="4.26" fill="#00003d"/>
<rect x="106.50" y="42.64" width="10.20" height="4.26" fill="#000025"/>
<rect x="116.40" y="42.64" width="4.20" height="4.26" fill="#6bb717"/>
<rect x="120.29" y="42.64" width="4.20" height="4.26" fill="#19b71d"/>
<rect x="124.19" y="42.64" width="4.20" height="4.26" fill="#6bb717"/>
<rect x="128.08" y="42.64" width="4.20" height="4.26" fill="#6bb717"/>
<rect x="131.98" y="42.64" width="4.20" height="4.26" fill="#19b71d"/>
<rect x="135.88" y="42.64" width="4.20" height="4.26" fill="#6bb717"/>
<rect x="139.77" y="42.64" width="4.20" height="4.26" fill="#6bb717"/>
<rect x="143.67" y="42.64" width="4.20" height="4.26" fill="#6bb717"/>
<rect x="147.56" y="42.64" width="4.20" height="4.26" fill="#000025"/>
<rect x="151.46" y="42.64" width="4.20" height="4.26" fill="#000025"/>
<rect x="155.35" y="42.64" width="4.20" height="4.26" fill="#000025"/>
<rect x="159.25" y="42.64" width="4.20" height="4.26" fill="#000013"/>
<rect x="163.15" y="42.64" width="4.20" height="4.26" fill="#000025"/>
<rect x="167.04" y="42.64" width="4.20" height="4.26" fill="#72d817"/>
<rect x="170.94" y="42.64" width="4.20" height="4.26" fill="#0fff17"/>
<rect x="174.83" y="42.64" width="4.20" height="4.26" fill="#0fff17"/>
<rect x="178.73" y="42.64" width="4.20" height="4.26" fill="#72d817"/>
<rect x="182.62" y="42.64" width="4.20" height="4.26" fill="#72d817"/>
<rect x="186.52" y="42.64" width="4.20" height="4.26" fill="#000059"/>
<rect x="190.42" y="42.64" width="4.20" height="4.26" fill="#000059"/>
<rect x="194.31" y="42.64" width="4.20" height="4.26" fill="#000059"/>
<rect x="198.21" y="42.64" width="4.20" height="4.26" fill="#000059"/>
<rect x="202.10" y="42.64" width="10.20" height="4.26" fill="#000059"/>
<rect x="106.50" y="46.60" width="10.20" height="4.26" fill="#000025"/>
<rect x="116.40" y="46.60" width="4.20" height="4.26" fill="#19b71d"/>
<rect x="120.29" y="46.60" width="4.20" height="4.26" fill="#6bb717"/>
<rect x="124.19" y="46.60" width="4.20" height="4.26" fill="#19b71d"/>
<rect x="128.08" y="46.60" width="4.20" height="4.26" fill="#6bb717"/>
<rect x="131.98" y="46.60" width="4.20" height="4.26" fill="#6bb717"/>
<rect x="135.88" y="46.60" width="4.20" height="4.26" fill="#a32313"/>
<rect x="139.77" y="46.60" width="4.20" height="4.26" fill="#6bb717"/>
<rect x="143.67" y="46.60" width="4.20" height="4.26" fill="#6bb717"/>
<rect x="147.56" y="46.60" width="4.20" height="4.26" fill="#000025"/>
<rect x="151.46" y="46.60" width="4.20" height="4.26" fill="#000025"/>
<rect x="155.35" y="46.60" width="4.20" height="4.26" fill="#000005"/>
<rect x="159.25" y="46.60" width="4.20" height="4.26" fill="#000013"/>
<rect x="163.15" y="46.60" width="4.20" height="4.26" fill="#000025"/>
<rect x="167.04" y="46.60" width="4.20" height="4.26" fill="#0fff17"/>
<rect x="170.94" y="46.60" width="4.20" height="4.26" fill="#72d817"/>
<rect x="174.83" y="46.60" width="4.20" height="4.26" fill="#0fff17"/>
<rect x="178.73" y="46.60" width="4.20" height="4.26" fill="#0fff17"/>
<rect x="182.62" y="46.60" width="4.20" height="4.26" fill="#72d817"/>
<rect x="186.52" y="46.60" width="4.20" height="4.26" fill="#000059"/>
<rect x="190.42" y="46.60" width="4.20" height="4.26" fill="#000059"/>
<rect x="194.31" y="46.60" width="4.20" height="4.26" fill="#000059"/>
<rect x="198.21" y="46.60" width="4.20" height="4.26" fill="#000059"/>
<rect x="202.10" y="46.60" width="10.20" height="4.26" fill="#000059"/>
<rect x="106.50" y="50.55" width="10.20" height="4.26" fill="#000025"/>
<rect x="116.40" y="50.55" width="4.20" height="4.26" fill="#6bb717"/>
<rect x="120.29" y="50.55" width="4.20" height="4.26" fill="#a32313"/>
<rect x="124.19" y="50.55" width="4.20" height="4.26" fill="#6bb717"/>
<rect x="128.08" y="50.55" width="4.20" height="4.26" fill="#6bb717"/>
<rect x="131.98" y="50.55" width="4.20" height="4.26" fill="#a32313"/>
<rect x="135.88" y="50.55" width="4.20" height="4.26" fill="#6bb717"/>
<rect x="139.77" y="50.55" width="4.20" height="4.26" fill="#00003d"/>
<rect x="143.67" y="50.55" width="4.20" height="4.26" fill="#000025"/>
<rect x="147.56" y="50.55" width="4.20" height="4.26" fill="#000025"/>
<rect x="151.46" y="50.55" width="4.20" height="4.26" fill="#753317"/>
<rect x="155.35" y="50.55" width="4.20" height="4.26" fill="#000013"/>
<rect x="159.25" y="50.55" width="4.20" height="4.26" fill="#000025"/>
<rect x="163.15" y="50.55" width="4.20" height="4.26" fill="#000025"/>
<rect x="167.04" y="50.55" width="4.20" height="4.26" fill="#6bb717"/>
<rect x="170.94" y="50.55" width="4.20" height="4.26" fill="#72d817"/>
<rect x="174.83" y="50.55" width="4.20" height="4.26" fill="#6bb717"/>
<rect x="178.73" y="50.55" width="4.20" height="4.26" fill="#6bb717"/>
<rect x="182.62" y="50.55" width="4.20" height="4.26" fill="#72d817"/>
<rect x="186.52" y="50.55" width="4.20" height="4.26" fill="#00003d"/>
<rect x="190.42" y="50.55" width="4.20" height="4.26" fill="#000059"/>
<rect x="194.31" y="50.55" width="4.20" height="4.26" fill="#000059"/>
<rect x="198.21" y="50.55" width="4.20" height="4.26" fill="#000059"/>
<rect x="202.10" y="50.55" width="10.20" height="4.26" fill="#000059"/>
<rect x="106.50" y="54.51" width="10.20" height="4.26" fill="#00003d"/>
<rect x="116.40" y="54.51" width="4.20" height="4.26" fill="#19b71d"/>
<rect x="120.29" y="54.51" width="4.20" height="4.26" fill="#6bb717"/>
<rect x="124.19" y="54.51" width="4.20" height="4.26" fill="#a32313"/>
<rect x="128.08" y="54.51" width="4.20" height="4.26" fill="#6bb717"/>
<rect x="131.98" y="54.51" width="4.20" height="4.26" fill="#a32313"/>
<rect x="135.88" y="54.51" width="4.20" height="4.26" fill="#6bb717"/>
<rect x="139.77" y="54.51" width="4.20" height="4.26" fill="#6bb717"/>
<rect x="143.67" y="54.51" width="4.20" height="4.26" fill="#000025"/>
<rect x="147.56" y="54.51" width="4.20" height="4.26" fill="#000025"/>
<rect x="151.46" y="54.51" width="4.20" height="4.26" fill="#000025"/>
<rect x="155.35" y="54.51" width="4.20" height="4.26" fill="#753317"/>
<rect x="159.25" y="54.51" width="4.20" height="4.26" fill="#000013"/>
<rect x="163.15" y="54.51" width="4.20" height="4.26" fill="#000025"/>
<rect x="167.04" y="54.51" width="4.20" height="4.26" fill="#a32313"/>
<rect x="170.94" y="54.51" width="4.20" height="4.26" fill="#6bb717"/>
<rect x="174.83" y="54.51" width="4.20" height="4.26" fill="#a32313"/>
<rect x="178.73" y="54.51" width="4.20" height="4.26" fill="#6bb717"/>
<rect x="182.62" y="54.51" width="4.20" height="4.26" fill="#6bb717"/>
<rect x="186.52" y="54.51" width="4.20" height="4.26" fill="#6bb717"/>
<rect x="190.42" y="54.51" width="4.20" height="4.26" fill="#00003d"/>
<rect x="194.31" y="54.51" width="4.20" height="4.26" fill="#00003d"/>
<rect x="198.21" y="54.51" width="4.20" height="4.26" fill="#00003d"/>
<rect x="202.10" y="54.51" width="10.20" height="4.26" fill="#00003d"/>
<rect x="106.50" y="58.47" width="10.20" height="4.26" fill="#000025"/>
<rect x="116.40" y="58.47" width="4.20" height="4.26" fill="#6bb717"/>
<rect x="120.29" y="58.47" width="4.20" height="4.26" fill="#6bb717"/>
<rect x="124.19" y="58.47" width="4.20" height="4.26" fill="#6bb717"/>
<rect x="128.08" y="58.47" width="4.20" height="4.26" fill="#a32313"/>
<rect x="131.98" y="58.47" width="4.20" height="4.26" fill="#6bb717"/>
<rect x="135.88" y="58.47" width="4.20" height="4.26" fill="#6bb717"/>
<rect x="139.77" y="58.47" width="4.20" height="4.26" fill="#6bb717"/>
<rect x="143.67" y="58.47" width="4.20" height="4.26" fill="#000025"/>
<rect x="147.56" y="58.47" width="4.20" height="4.26" fill="#000025"/>
<rect x="151.46" y="58.47" width="4.20" height="4.26" fill="#000025"/>
<rect x="155.35" y="58.47" width="4.20" height="4.26" fill="#753317"/>
<rect x="159.25" y="58.47" width="4.20" height="4.26" fill="#000013"/>
<rect x="163.15" y="58.47" width="4.20" height="4.26" fill="#000025"/>
<rect x="167.04" y="58.47" width="4.20" height="4.26" fill="#a32313"/>
<rect x="170.94" y="58.47" width="4.20" height="4.26" fill="#753317"/>
<rect x="174.83" y="58.47" width="4.20" height="4.26" fill="#753317"/>
<rect x="178.73" y="58.47" width="4.20" height="4.26" fill="#a32313"/>
<rect x="182.62" y="58.47" width="4.20" height="4.26" fill="#753317"/>
<rect x="186.52" y="58.47" width="4.20" height="4.26" fill="#753317"/>
<rect x="190.42" y="58.47" width="4.20" height="4.26" fill="#00003d"/>
<rect x="194.31" y="58.47" width="4.20" height="4.26" fill="#00003d"/>
<rect x="198.21" y="58.47" width="4.20" height="4.26" fill="#00003d"/>
<rect x="202.10" y="58.47" width="10.20" height="4.26" fill="#00003d"/>
<rect x="106.50" y="62.42" width="10.20" height="4.26" fill="#000025"/>
<rect x="116.40" y="62.42" width="4.20" height="4.26" fill="#753317"/>
<rect x="120.29" y="62.42" width="4.20" height="4.26" fill="#6bb717"/>
<rect x="124.19" y="62.42" width="4.20" height="4.26" fill="#6bb717"/>
<rect x="128.08" y="62.42" width="4.20" height="4.26" fill="#753317"/>
<rect x="131.98" y="62.42" width="4.20" height="4.26" fill="#6bb717"/>
<rect x="135.88" y="62.42" width="4.20" height="4.26" fill="#6bb717"/>
<rect x="139.77" y="62.42" width="4.20" height="4.26" fill="#6bb717"/>
<rect x="143.67" y="62.42" width="4.20" height="4.26" fill="#000025"/>
<rect x="147.56" y="62.42" width="4.20" height="4.26" fill="#000025"/>
<rect x="151.46" y="62.42" width="4.20" height="4.26" fill="#000025"/>
<rect x="155.35" y="62.42" width="4.20" height="4.26" fill="#000013"/>
<rect x="159.25" y="62.42" width="4.20" height="4.26" fill="#000025"/>
<rect x="163.15" y="62.42" width="4.20" height="4.26" fill="#000025"/>
<rect x="167.04" y="62.42" width="4.20" height="4.26" fill="#753317"/>
<rect x="170.94" y="62.42" width="4.20" height="4.26" fill="#753317"/>
<rect x="174.83" y="62.42" width="4.20" height="4.26" fill="#a32313"/>
<rect x="178.73" y="62.42" width="4.20" height="4.26" fill="#753317"/>
<rect x="182.62" y="62.42" width="4.20" height="4.26" fill="#a32313"/>
<rect x="186.52" y="62.42" width="4.20" height="4.26" fill="#753317"/>
<rect x="190.42" y="62.42" width="4.20" height="4.26" fill="#00003d"/>
<rect x="194.31" y="62.42" width="4.20" height="4.26" fill="#00003d"/>
<rect x="198.21" y="62.42" width="4.20" height="4.26" fill="#00003d"/>
<rect x="202.10" y="62.42" width="10.20" height="4.26" fill="#00003d"/>
<rect x="106.50" y="66.38" width="10.20" height="4.26" fill="#000025"/>
<rect x="116.40" y="66.38" width="4.20" height="4.26" fill="#72d817"/>
<rect x="120.29" y="66.38" width="4.20" height="4.26" fill="#6bb717"/>
<rect x="124.19" y="66.38" width="4.20" height="4.26" fill="#6bb717"/>
<rect x="128.08" y="66.38" width="4.20" height="4.26" fill="#72d817"/>
<rect x="131.98" y="66.38" width="4.20" height="4.26" fill="#753317"/>
<rect x="135.88" y="66.38" width="4.20" height="4.26" fill="#6bb717"/>
<rect x="139.77" y="66.38" width="4.20" height="4.26" fill="#00003d"/>
<rect x="143.67" y="66.38" width="4.20" height="4.26" fill="#000025"/>
<rect x="147.56" y="66.38" width="4.20" height="4.26" fill="#000025"/>
<rect x="151.46" y="66.38" width="4.20" height="4.26" fill="#000025"/>
<rect x="155.35" y="66.38" width="4.20" height="4.26" fill="#000013"/>
<rect x="159.25" y="66.38" width="4.20" height="4.26" fill="#000025"/>
<rect x="163.15" y="66.38" width="4.20" height="4.26" fill="#000025"/>
<rect x="167.04" y="66.38" width="4.20" height="4.26" fill="#753317"/>
<rect x="170.94" y="66.38" width="4.20" height="4.26" fill="#753317"/>
<rect x="174.83" y="66.38" width="4.20" height="4.26" fill="#753317"/>
<rect x="178.73" y="66.38" width="4.20" height="4.26" fill="#753317"/>
<rect x="182.62" y="66.38" width="4.20" height="4.26" fill="#753317"/>
<rect x="186.52" y="66.38" width="4.20" height="4.26" fill="#00003d"/>
<rect x="190.42" y="66.38" width="4.20" height="4.26" fill="#00003d"/>
<rect x="194.31" y="66.38" width="4.20" height="4.26" fill="#00003d"/>
<rect x="198.21" y="66.38" width="4.20" height="4.26" fill="#00003d"/>
<rect x="202.10" y="66.38" width="10.20" height="4.26" fill="#00003d"/>
<rect x="106.50" y="70.34" width="10.20" height="4.26" fill="#000025"/>
<rect x="116.40" y="70.34" width="4.20" height="4.26" fill="#6bb717"/>
<rect x="120.29" y="70.34" width="4.20" height="4.26" fill="#753317"/>
<rect x="124.19" y="70.34" width="4.20" height="4.26" fill="#6bb717"/>
<rect x="128.08" y="70.34" width="4.20" height="4.26" fill="#6bb717"/>
<rect x="131.98" y="70.34" width="4.20" height="4.26" fill="#753317"/>
<rect x="135.88" y="70.34" width="4.20" height="4.26" fill="#6bb717"/>
<rect x="139.77" y="70.34" width="4.20" height="4.26" fill="#753317"/>
<rect x="143.67" y="70.34" width="4.20" height="4.26" fill="#000025"/>
<rect x="147.56" y="70.34" width="4.20" height="4.26" fill="#000025"/>
<rect x="151.46" y="70.34" width="4.20" height="4.26" fill="#000025"/>
<rect x="155.35" y="70.34" width="4.20" height="4.26" fill="#000013"/>
<rect x="159.25" y="70.34" width="4.20" height="4.26" fill="#000025"/>
<rect x="163.15" y="70.34" width="4.20" height="4.26" fill="#000025"/>
<rect x="167.04" y="70.34" width="4.20" height="4.26" fill="#753317"/>
<rect x="170.94" y="70.34" width="4.20" height="4.26" fill="#6bb717"/>
<rect x="174.83" y="70.34" width="4.20" height="4.26" fill="#753317"/>
<rect x="178.73" y="70.34" width="4.20" height="4.26" fill="#753317"/>
<rect x="182.62" y="70.34" width="4.20" height="4.26" fill="#6bb717"/>
<rect x="186.52" y="70.34" width="4.20" height="4.26" fill="#00003d"/>
<rect x="190.42" y="70.34" width="4.20" height="4.26" fill="#00003d"/>
<rect x="194.31" y="70.34" width="4.20" height="4.26" fill="#00003d"/>
<rect x="198.21" y="70.34" width="4.20" height="4.26" fill="#00003d"/>
<rect x="202.10" y="70.34" width="10.20" height="4.26" fill="#00003d"/>
<rect x="106.50" y="74.29" width="10.20" height="4.26" fill="#000025"/>
<rect x="116.40" y="74.29" width="4.20" height="4.26" fill="#753317"/>
<rect x="120.29" y="74.29" width="4.20" height="4.26" fill="#6bb717"/>
<rect x="124.19" y="74.29" width="4.20" height="4.26" fill="#753317"/>
<rect x="128.08" y="74.29" width="4.20" height="4.26" fill="#753317"/>
<rect x="131.98" y="74.29" width="4.20" height="4.26" fill="#6bb717"/>
<rect x="135.88" y="74.29" width="4.20" height="4.26" fill="#753317"/>
<rect x="139.77" y="74.29" width="4.20" height="4.26" fill="#00003d"/>
<rect x="143.67" y="74.29" width="4.20" height="4.26" fill="#000025"/>
<rect x="147.56" y="74.29" width="4.20" height="4.26" fill="#000025"/>
<rect x="151.46" y="74.29" width="4.20" height="4.26" fill="#000025"/>
<rect x="155.35" y="74.29" width="4.20" height="4.26" fill="#00003d"/>
<rect x="159.25" y="74.29" width="4.20" height="4.26" fill="#000013"/>
<rect x="163.15" y="74.29" width="4.20" height="4.26" fill="#000025"/>
<rect x="167.04" y="74.29" width="4.20" height="4.26" fill="#753317"/>
<rect x="170.94" y="74.29" width="4.20" height="4.26" fill="#753317"/>
<rect x="174.83" y="74.29" width="4.20" height="4.26" fill="#753317"/>
<rect x="178.73" y="74.29" width="4.20" height="4.26" fill="#6bb717"/>
<rect x="182.62" y="74.29" width="4.20" height="4.26" fill="#753317"/>
<rect x="186.52" y="74.29" width="4.20" height="4.26" fill="#753317"/>
<rect x="190.42" y="74.29" width="4.20" height="4.26" fill="#00003d"/>
<rect x="194.31" y="74.29" width="4.20" height="4.26" fill="#00003d"/>
<rect x="198.21" y="74.29" width="4.20" height="4.26" fill="#00003d"/>
<rect x="202.10" y="74.29" width="10.20" height="4.26" fill="#00003d"/>
<rect x="106.50" y="78.25" width="10.20" height="4.26" fill="#000025"/>
<rect x="116.40" y="78.25" width="4.20" height="4.26" fill="#6bb717"/>
<rect x="120.29" y="78.25" width="4.20" height="4.26" fill="#72d817"/>
<rect x="124.19" y="78.25" width="4.20" height="4.26" fill="#6bb717"/>
<rect x="128.08" y="78.25" width="4.20" height="4.26" fill="#6bb717"/>
<rect x="131.98" y="78.25" width="4.20" height="4.26" fill="#6bb717"/>
<rect x="135.88" y="78.25" width="4.20" height="4.26" fill="#000025"/>
<rect x="139.77" y="78.25" width="4.20" height="4.26" fill="#000025"/>
<rect x="143.67" y="78.25" width="4.20" height="4.26" fill="#000025"/>
<rect x="147.56" y="78.25" width="4.20" height="4.26" fill="#000025"/>
<rect x="151.46" y="78.25" width="4.20" height="4.26" fill="#000013"/>
<rect x="155.35" y="78.25" width="4.20" height="4.26" fill="#000013"/>
<rect x="159.25" y="78.25" width="4.20" height="4.26" fill="#000025"/>
<rect x="163.15" y="78.25" width="4.20" height="4.26" fill="#a32313"/>
<rect x="167.04" y="78.25" width="4.20" height="4.26" fill="#753317"/>
<rect x="170.94" y="78.25" width="4.20" height="4.26" fill="#a32313"/>
<rect x="174.83" y="78.25" width="4.20" height="4.26" fill="#753317"/>
<rect x="178.73" y="78.25" width="4.20" height="4.26" fill="#a32313"/>
<rect x="182.62" y="78.25" width="4.20" height="4.26" fill="#753317"/>
<rect x="186.52" y="78.25" width="4.20" height="4.26" fill="#753317"/>
<rect x="190.42" y="78.25" width="4.20" height="4.26" fill="#753317"/>
<rect x="194.31" y="78.25" width="4.20" height="4.26" fill="#000025"/>
<rect x="198.21" y="78.25" width="4.20" height="4.26" fill="#000025"/>
<rect x="202.10" y="78.25" width="10.20" height="4.26" fill="#000025"/>
<rect x="106.50" y="82.21" width="10.20" height="4.26" fill="#000025"/>
<rect x="116.40" y="82.21" width="4.20" height="4.26" fill="#753317"/>
<rect x="120.29" y="82.21" width="4.20" height="4.26" fill="#6bb717"/>
<rect x="124.19" y="82.21" width="4.20" height="4.26" fill="#753317"/>
<rect x="128.08" y="82.21" width="4.20" height="4.26" fill="#753317"/>
<rect x="131.98" y="82.21" width="4.20" height="4.26" fill="#753317"/>
<rect x="135.88" y="82.21" width="4.20" height="4.26" fill="#000025"/>
<rect x="139.77" y="82.21" width="4.20" height="4.26" fill="#000025"/>
<rect x="143.67" y="82.21" width="4.20" height="4.26" fill="#380a1d"/>
<rect x="147.56" y="82.21" width="4.20" height="4.26" fill="#380a1d"/>
<rect x="151.46" y="82.21" width="4.20" height="4.26" fill="#000013"/>
<rect x="155.35" y="82.21" width="4.20" height="4.26" fill="#000013"/>
<rect x="159.25" y="82.21" width="4.20" height="4.26" fill="#000025"/>
<rect x="163.15" y="82.21" width="4.20" height="4.26" fill="#753317"/>
<rect x="167.04" y="82.21" width="4.20" height="4.26" fill="#a32313"/>
<rect x="170.94" y="82.21" width="4.20" height="4.26" fill="#753317"/>
<rect x="174.83" y="82.21" width="4.20" height="4.26" fill="#753317"/>
<rect x="178.73" y="82.21" width="4.20" height="4.26" fill="#a32313"/>
<rect x="182.62" y="82.21" width="4.20" height="4.26" fill="#753317"/>
<rect x="186.52" y="82.21" width="4.20" height="4.26" fill="#753317"/>
<rect x="190.42" y="82.21" width="4.20" height="4.26" fill="#000025"/>
<rect x="194.31" y="82.21" width="4.20" height="4.26" fill="#000025"/>
<rect x="198.21" y="82.21" width="4.20" height="4.26" fill="#000025"/>
<rect x="202.10" y="82.21" width="10.20" height="4.26" fill="#000025"/>
<rect x="106.50" y="86.16" width="10.20" height="4.26" fill="#000025"/>
<rect x="116.40" y="86.16" width="4.20" height="4.26" fill="#753317"/>
<rect x="120.29" y="86.16" width="4.20" height="4.26" fill="#753317"/>
<rect x="124.19" y="86.16" width="4.20" height="4.26" fill="#753317"/>
<rect x="128.08" y="86.16" width="4.20" height="4.26" fill="#753317"/>
<rect x="131.98" y="86.16" width="4.20" height="4.26" fill="#000025"/>
<rect x="135.88" y="86.16" width="4.20" height="4.26" fill="#000025"/>
<rect x="139.77" y="86.16" width="4.20" height="4.26" fill="#000025"/>
<rect x="143.67" y="86.16" width="4.20" height="4.26" fill="#380a1d"/>
<rect x="147.56" y="86.16" width="4.20" height="4.26" fill="#380a1d"/>
<rect x="151.46" y="86.16" width="4.20" height="4.26" fill="#000013"/>
<rect x="155.35" y="86.16" width="4.20" height="4.26" fill="#000013"/>
<rect x="159.25" y="86.16" width="4.20" height="4.26" fill="#000025"/>
<rect x="163.15" y="86.16" width="4.20" height="4.26" fill="#753317"/>
<rect x="167.04" y="86.16" width="4.20" height="4.26" fill="#19b71d"/>
<rect x="170.94" y="86.16" width="4.20" height="4.26" fill="#753317"/>
<rect x="174.83" y="86.16" width="4.20" height="4.26" fill="#753317"/>
<rect x="178.73" y="86.16" width="4.20" height="4.26" fill="#a32313"/>
<rect x="182.62" y="86.16" width="4.20" height="4.26" fill="#753317"/>
<rect x="186.52" y="86.16" width="4.20" height="4.26" fill="#000025"/>
<rect x="190.42" y="86.16" width="4.20" height="4.26" fill="#000025"/>
<rect x="194.31" y="86.16" width="4.20" height="4.26" fill="#00003d"/>
<rect x="198.21" y="86.16" width="4.20" height="4.26" fill="#00003d"/>
<rect x="202.10" y="86.16" width="10.20" height="4.26" fill="#00003d"/>
<rect x="106.50" y="90.12" width="10.20" height="4.26" fill="#000025"/>
<rect x="116.40" y="90.12" width="4.20" height="4.26" fill="#a32313"/>
<rect x="120.29" y="90.12" width="4.20" height="4.26" fill="#a32313"/>
<rect x="124.19" y="90.12" width="4.20" height="4.26" fill="#a32313"/>
<rect x="128.08" y="90.12" width="4.20" height="4.26" fill="#753317"/>
<rect x="131.98" y="90.12" width="4.20" height="4.26" fill="#753317"/>
<rect x="135.88" y="90.12" width="4.20" height="4.26" fill="#000025"/>
<rect x="139.77" y="90.12" width="4.20" height="4.26" fill="#000025"/>
<rect x="143.67" y="90.12" width="4.20" height="4.26" fill="#380a1d"/>
<rect x="147.56" y="90.12" width="4.20" height="4.26" fill="#380a1d"/>
<rect x="151.46" y="90.12" width="4.20" height="4.26" fill="#000013"/>
<rect x="155.35" y="90.12" width="4.20" height="4.26" fill="#000013"/>
<rect x="159.25" y="90.12" width="4.20" height="4.26" fill="#000025"/>
<rect x="163.15" y="90.12" width="4.20" height="4.26" fill="#19b71d"/>
<rect x="167.04" y="90.12" width="4.20" height="4.26" fill="#753317"/>
<rect x="170.94" y="90.12" width="4.20" height="4.26" fill="#a32313"/>
<rect x="174.83" y="90.12" width="4.20" height="4.26" fill="#753317"/>
<rect x="178.73" y="90.12" width="4.20" height="4.26" fill="#753317"/>
<rect x="182.62" y="90.12" width="4.20" height="4.26" fill="#19b71d"/>
<rect x="186.52" y="90.12" width="4.20" height="4.26" fill="#000059"/>
<rect x="190.42" y="90.12" width="4.20" height="4.26" fill="#000059"/>
<rect x="194.31" y="90.12" width="4.20" height="4.26" fill="#000059"/>
<rect x="198.21" y="90.12" width="4.20" height="4.26" fill="#000059"/>
<rect x="202.10" y="90.12" width="10.20" height="4.26" fill="#000059"/>
<rect x="106.50" y="94.08" width="10.20" height="4.26" fill="#000025"/>
<rect x="116.40" y="94.08" width="4.20" height="4.26" fill="#a32313"/>
<rect x="120.29" y="94.08" width="4.20" height="4.26" fill="#a32313"/>
<rect x="124.19" y="94.08" width="4.20" height="4.26" fill="#753317"/>
<rect x="128.08" y="94.08" width="4.20" height="4.26" fill="#753317"/>
<rect x="131.98" y="94.08" width="4.20" height="4.26" fill="#753317"/>
<rect x="135.88" y="94.08" width="4.20" height="4.26" fill="#000025"/>
<rect x="139.77" y="94.08" width="4.20" height="4.26" fill="#000025"/>
<rect x="143.67" y="94.08" width="4.20" height="4.26" fill="#380a1d"/>
<rect x="147.56" y="94.08" width="4.20" height="4.26" fill="#380a1d"/>
<rect x="151.46" y="94.08" width="4.20" height="4.26" fill="#000013"/>
<rect x="155.35" y="94.08" width="4.20" height="4.26" fill="#000013"/>
<rect x="159.25" y="94.08" width="4.20" height="4.26" fill="#000025"/>
<rect x="163.15" y="94.08" width="4.20" height="4.26" fill="#753317"/>
<rect x="167.04" y="94.08" width="4.20" height="4.26" fill="#a32313"/>
<rect x="170.94" y="94.08" width="4.20" height="4.26" fill="#753317"/>
<rect x="174.83" y="94.08" width="4.20" height="4.26" fill="#753317"/>
<rect x="178.73" y="94.08" width="4.20" height="4.26" fill="#a32313"/>
<rect x="182.62" y="94.08" width="4.20" height="4.26" fill="#a32313"/>
<rect x="186.52" y="94.08" width="4.20" height="4.26" fill="#753317"/>
<rect x="190.42" y="94.08" width="4.20" height="4.26" fill="#00003d"/>
<rect x="194.31" y="94.08" width="4.20" height="4.26" fill="#00003d"/>
<rect x="198.21" y="94.08" width="4.20" height="4.26" fill="#00003d"/>
<rect x="202.10" y="94.08" width="10.20" height="4.26" fill="#00003d"/>
<rect x="106.50" y="98.03" width="10.20" height="4.26" fill="#00003d"/>
<rect x="116.40" y="98.03" width="4.20" height="4.26" fill="#000025"/>
<rect x="120.29" y="98.03" width="4.20" height="4.26" fill="#000025"/>
<rect x="124.19" y="98.03" width="4.20" height="4.26" fill="#753317"/>
<rect x="128.08" y="98.03" width="4.20" height="4.26" fill="#753317"/>
<rect x="131.98" y="98.03" width="4.20" height="4.26" fill="#753317"/>
<rect x="135.88" y="98.03" width="4.20" height="4.26" fill="#000025"/>
<rect x="139.77" y="98.03" width="4.20" height="4.26" fill="#000025"/>
<rect x="143.67" y="98.03" width="4.20" height="4.26" fill="#380a1d"/>
<rect x="147.56" y="98.03" width="4.20" height="4.26" fill="#380a1d"/>
<rect x="151.46" y="98.03" width="4.20" height="4.26" fill="#000013"/>
<rect x="155.35" y="98.03" width="4.20" height="4.26" fill="#000013"/>
<rect x="159.25" y="98.03" width="4.20" height="4.26" fill="#000025"/>
<rect x="163.15" y="98.03" width="4.20" height="4.26" fill="#753317"/>
<rect x="167.04" y="98.03" width="4.20" height="4.26" fill="#753317"/>
<rect x="170.94" y="98.03" width="4.20" height="4.26" fill="#753317"/>
<rect x="174.83" y="98.03" width="4.20" height="4.26" fill="#753317"/>
<rect x="178.73" y="98.03" width="4.20" height="4.26" fill="#753317"/>
<rect x="182.62" y="98.03" width="4.20" height="4.26" fill="#753317"/>
<rect x="186.52" y="98.03" width="4.20" height="4.26" fill="#753317"/>
<rect x="190.42" y="98.03" width="4.20" height="4.26" fill="#00003d"/>
<rect x="194.31" y="98.03" width="4.20" height="4.26" fill="#00003d"/>
<rect x="198.21" y="98.03" width="4.20" height="4.26" fill="#00003d"/>
<rect x="202.10" y="98.03" width="10.20" height="4.26" fill="#00003d"/>
<rect x="106.50" y="101.99" width="10.20" height="4.26" fill="#00003d"/>
<rect x="116.40" y="101.99" width="4.20" height="4.26" fill="#000025"/>
<rect x="120.29" y="101.99" width="4.20" height="4.26" fill="#000025"/>
<rect x="124.19" y="101.99" width="4.20" height="4.26" fill="#753317"/>
<rect x="128.08" y="101.99" width="4.20" height="4.26" fill="#753317"/>
<rect x="131.98" y="101.99" width="4.20" height="4.26" fill="#000025"/>
<rect x="135.88" y="101.99" width="4.20" height="4.26" fill="#000025"/>
<rect x="139.77" y="101.99" width="4.20" height="4.26" fill="#000025"/>
<rect x="143.67" y="101.99" width="4.20" height="4.26" fill="#380a1d"/>
<rect x="147.56" y="101.99" width="4.20" height="4.26" fill="#380a1d"/>
<rect x="151.46" y="101.99" width="4.20" height="4.26" fill="#000013"/>
<rect x="155.35" y="101.99" width="4.20" height="4.26" fill="#000013"/>
<rect x="159.25" y="101.99" width="4.20" height="4.26" fill="#000025"/>
<rect x="163.15" y="101.99" width="4.20" height="4.26" fill="#753317"/>
<rect x="167.04" y="101.99" width="4.20" height="4.26" fill="#a32313"/>
<rect x="170.94" y="101.99" width="4.20" height="4.26" fill="#753317"/>
<rect x="174.83" y="101.99" width="4.20" height="4.26" fill="#753317"/>
<rect x="178.73" y="101.99" width="4.20" height="4.26" fill="#753317"/>
<rect x="182.62" y="101.99" width="4.20" height="4.26" fill="#753317"/>
<rect x="186.52" y="101.99" width="4.20" height="4.26" fill="#000025"/>
<rect x="190.42" y="101.99" width="4.20" height="4.26" fill="#00003d"/>
<rect x="194.31" y="101.99" width="4.20" height="4.26" fill="#00003d"/>
<rect x="198.21" y="101.99" width="4.20" height="4.26" fill="#00003d"/>
<rect x="202.10" y="101.99" width="10.20" height="4.26" fill="#00003d"/>
<rect x="106.50" y="105.95" width="10.20" height="4.26" fill="#00003d"/>
<rect x="116.40" y="105.95" width="4.20" height="4.26" fill="#000025"/>
<rect x="120.29" y="105.95" width="4.20" height="4.26" fill="#000025"/>
<rect x="124.19" y="105.95" width="4.20" height="4.26" fill="#000025"/>
<rect x="128.08" y="105.95" width="4.20" height="4.26" fill="#000025"/>
<rect x="131.98" y="105.95" width="4.20" height="4.26" fill="#000025"/>
<rect x="135.88" y="105.95" width="4.20" height="4.26" fill="#000025"/>
<rect x="139.77" y="105.95" width="4.20" height="4.26" fill="#000025"/>
<rect x="143.67" y="105.95" width="4.20" height="4.26" fill="#380a1d"/>
<rect x="147.56" y="105.95" width="4.20" height="4.26" fill="#380a1d"/>
<rect x="151.46" y="105.95" width="4.20" height="4.26" fill="#000013"/>
<rect x="155.35" y="105.95" width="4.20" height="4.26" fill="#000013"/>
<rect x="159.25" y="105.95" width="4.20" height="4.26" fill="#000025"/>
<rect x="163.15" y="105.95" width="4.20" height="4.26" fill="#753317"/>
<rect x="167.04" y="105.95" width="4.20" height="4.26" fill="#753317"/>
<rect x="170.94" y="105.95" width="4.20" height="4.26" fill="#753317"/>
<rect x="174.83" y="105.95" width="4.20" height="4.26" fill="#753317"/>
<rect x="178.73" y="105.95" width="4.20" height="4.26" fill="#753317"/>
<rect x="182.62" y="105.95" width="4.20" height="4.26" fill="#753317"/>
<rect x="186.52" y="105.95" width="4.20" height="4.26" fill="#000025"/>
<rect x="190.42" y="105.95" width="4.20" height="4.26" fill="#00003d"/>
<rect x="194.31" y="105.95" width="4.20" height="4.26" fill="#00003d"/>
<rect x="198.21" y="105.95" width="4.20" height="4.26" fill="#00003d"/>
<rect x="202.10" y="105.95" width="10.20" height="4.26" fill="#00003d"/>
<rect x="106.50" y="109.90" width="10.20" height="4.26" fill="#00003d"/>
<rect x="116.40" y="109.90" width="4.20" height="4.26" fill="#000025"/>
<rect x="120.29" y="109.90" width="4.20" height="4.26" fill="#000025"/>
<rect x="124.19" y="109.90" width="4.20" height="4.26" fill="#000025"/>
<rect x="128.08" y="109.90" width="4.20" height="4.26" fill="#000025"/>
<rect x="131.98" y="109.90" width="4.20" height="4.26" fill="#000025"/>
<rect x="135.88" y="109.90" width="4.20" height="4.26" fill="#000025"/>
<rect x="139.77" y="109.90" width="4.20" height="4.26" fill="#000025"/>
<rect x="143.67" y="109.90" width="4.20" height="4.26" fill="#380a1d"/>
<rect x="147.56" y="109.90" width="4.20" height="4.26" fill="#380a1d"/>
<rect x="151.46" y="109.90" width="4.20" height="4.26" fill="#000013"/>
<rect x="155.35" y="109.90" width="4.20" height="4.26" fill="#000013"/>
<rect x="159.25" y="109.90" width="4.20" height="4.26" fill="#000025"/>
<rect x="163.15" y="109.90" width="4.20" height="4.26" fill="#753317"/>
<rect x="167.04" y="109.90" width="4.20" height="4.26" fill="#a32313"/>
<rect x="170.94" y="109.90" width="4.20" height="4.26" fill="#753317"/>
<rect x="174.83" y="109.90" width="4.20" height="4.26" fill="#753317"/>
<rect x="178.73" y="109.90" width="4.20" height="4.26" fill="#a32313"/>
<rect x="182.62" y="109.90" width="4.20" height="4.26" fill="#753317"/>
<rect x="186.52" y="109.90" width="4.20" height="4.26" fill="#753317"/>
<rect x="190.42" y="109.90" width="4.20" height="4.26" fill="#000025"/>
<rect x="194.31" y="109.90" width="4.20" height="4.26" fill="#00003d"/>
<rect x="198.21" y="109.90" width="4.20" height="4.26" fill="#00003d"/>
<rect x="202.10" y="109.90" width="10.20" height="4.26" fill="#00003d"/>
<rect x="106.50" y="113.86" width="10.20" height="4.26" fill="#000059"/>
<rect x="116.40" y="113.86" width="4.20" height="4.26" fill="#00003d"/>
<rect x="120.29" y="113.86" width="4.20" height="4.26" fill="#000025"/>
<rect x="124.19" y="113.86" width="4.20" height="4.26" fill="#000025"/>
<rect x="128.08" y="113.86" width="4.20" height="4.26" fill="#000025"/>
<rect x="131.98" y="113.86" width="4.20" height="4.26" fill="#000025"/>
<rect x="135.88" y="113.86" width="4.20" height="4.26" fill="#000025"/>
<rect x="139.77" y="113.86" width="4.20" height="4.26" fill="#000025"/>
<rect x="143.67" y="113.86" width="4.20" height="4.26" fill="#380a1d"/>
<rect x="147.56" y="113.86" width="4.20" height="4.26" fill="#380a1d"/>
<rect x="151.46" y="113.86" width="4.20" height="4.26" fill="#000013"/>
<rect x="155.35" y="113.86" width="4.20" height="4.26" fill="#000013"/>
<rect x="159.25" y="113.86" width="4.20" height="4.26" fill="#000025"/>
<rect x="163.15" y="113.86" width="4.20" height="4.26" fill="#753317"/>
<rect x="167.04" y="113.86" width="4.20" height="4.26" fill="#753317"/>
<rect x="170.94" y="113.86" width="4.20" height="4.26" fill="#753317"/>
<rect x="174.83" y="113.86" width="4.20" height="4.26" fill="#753317"/>
<rect x="178.73" y="113.86" width="4.20" height="4.26" fill="#753317"/>
<rect x="182.62" y="113.86" width="4.20" height="4.26" fill="#753317"/>
<rect x="186.52" y="113.86" width="4.20" height="4.26" fill="#753317"/>
<rect x="190.42" y="113.86" width="4.20" height="4.26" fill="#00003d"/>
<rect x="194.31" y="113.86" width="4.20" height="4.26" fill="#00003d"/>
<rect x="198.21" y="113.86" width="4.20" height="4.26" fill="#00003d"/>
<rect x="202.10" y="113.86" width="10.20" height="4.26" fill="#00003d"/>
<rect x="106.50" y="117.82" width="10.20" height="4.26" fill="#000059"/>
<rect x="116.40" y="117.82" width="4.20" height="4.26" fill="#00003d"/>
<rect x="120.29" y="117.82" width="4.20" height="4.26" fill="#000025"/>
<rect x="124.19" y="117.82" width="4.20" height="4.26" fill="#000025"/>
<rect x="128.08" y="117.82" width="4.20" height="4.26" fill="#000025"/>
<rect x="131.98" y="117.82" width="4.20" height="4.26" fill="#000025"/>
<rect x="135.88" y="117.82" width="4.20" height="4.26" fill="#000025"/>
<rect x="139.77" y="117.82" width="4.20" height="4.26" fill="#000025"/>
<rect x="143.67" y="117.82" width="4.20" height="4.26" fill="#380a1d"/>
<rect x="147.56" y="117.82" width="4.20" height="4.26" fill="#380a1d"/>
<rect x="151.46" y="117.82" width="4.20" height="4.26" fill="#000013"/>
<rect x="155.35" y="117.82" width="4.20" height="4.26" fill="#000013"/>
<rect x="159.25" y="117.82" width="4.20" height="4.26" fill="#000025"/>
<rect x="163.15" y="117.82" width="4.20" height="4.26" fill="#753317"/>
<rect x="167.04" y="117.82" width="4.20" height="4.26" fill="#a32313"/>
<rect x="170.94" y="117.82" width="4.20" height="4.26" fill="#753317"/>
<rect x="174.83" y="117.82" width="4.20" height="4.26" fill="#753317"/>
<rect x="178.73" y="117.82" width="4.20" height="4.26" fill="#a32313"/>
<rect x="182.62" y="117.82" width="4.20" height="4.26" fill="#753317"/>
<rect x="186.52" y="117.82" width="4.20" height="4.26" fill="#00003d"/>
<rect x="190.42" y="117.82" width="4.20" height="4.26" fill="#00003d"/>
<rect x="194.31" y="117.82" width="4.20" height="4.26" fill="#00003d"/>
<rect x="198.21" y="117.82" width="4.20" height="4.26" fill="#00003d"/>
<rect x="202.10" y="117.82" width="10.20" height="4.26" fill="#00003d"/>
<rect x="106.50" y="121.77" width="10.20" height="4.26" fill="#000059"/>
<rect x="116.40" y="121.77" width="4.20" height="4.26" fill="#00003d"/>
<rect x="120.29" y="121.77" width="4.20" height="4.26" fill="#000025"/>
<rect x="124.19" y="121.77" width="4.20" height="4.26" fill="#000025"/>
<rect x="128.08" y="121.77" width="4.20" height="4.26" fill="#000025"/>
<rect x="131.98" y="121.77" width="4.20" height="4.26" fill="#000025"/>
<rect x="135.88" y="121.77" width="4.20" height="4.26" fill="#000025"/>
<rect x="139.77" y="121.77" width="4.20" height="4.26" fill="#000025"/>
<rect x="143.67" y="121.77" width="4.20" height="4.26" fill="#380a1d"/>
<rect x="147.56" y="121.77" width="4.20" height="4.26" fill="#380a1d"/>
<rect x="151.46" y="121.77" width="4.20" height="4.26" fill="#000013"/>
<rect x="155.35" y="121.77" width="4.20" height="4.26" fill="#000013"/>
<rect x="159.25" y="121.77" width="4.20" height="4.26" fill="#000025"/>
<rect x="163.15" y="121.77" width="4.20" height="4.26" fill="#753317"/>
<rect x="167.04" y="121.77" width="4.20" height="4.26" fill="#753317"/>
<rect x="170.94" y="121.77" width="4.20" height="4.26" fill="#753317"/>
<rect x="174.83" y="121.77" width="4.20" height="4.26" fill="#753317"/>
<rect x="178.73" y="121.77" width="4.20" height="4.26" fill="#753317"/>
<rect x="182.62" y="121.77" width="4.20" height="4.26" fill="#00003d"/>
<rect x="186.52" y="121.77" width="4.20" height="4.26" fill="#00003d"/>
<rect x="190.42" y="121.77" width="4.20" height="4.26" fill="#00003d"/>
<rect x="194.31" y="121.77" width="4.20" height="4.26" fill="#00003d"/>
<rect x="198.21" y="121.77" width="4.20" height="4.26" fill="#00003d"/>
<rect x="202.10" y="121.77" width="10.20" height="4.26" fill="#00003d"/>
<rect x="106.50" y="125.73" width="10.20" height="4.26" fill="#00003d"/>
<rect x="116.40" y="125.73" width="4.20" height="4.26" fill="#000025"/>
<rect x="120.29" y="125.73" width="4.20" height="4.26" fill="#000025"/>
<rect x="124.19" y="125.73" width="4.20" height="4.26" fill="#000025"/>
<rect x="128.08" y="125.73" width="4.20" height="4.26" fill="#000025"/>
<rect x="131.98" y="125.73" width="4.20" height="4.26" fill="#000025"/>
<rect x="135.88" y="125.73" width="4.20" height="4.26" fill="#000025"/>
<rect x="139.77" y="125.73" width="4.20" height="4.26" fill="#000025"/>
<rect x="143.67" y="125.73" width="4.20" height="4.26" fill="#380a1d"/>
<rect x="147.56" y="125.73" width="4.20" height="4.26" fill="#380a1d"/>
<rect x="151.46" y="125.73" width="4.20" height="4.26" fill="#000013"/>
<rect x="155.35" y="125.73" width="4.20" height="4.26" fill="#000013"/>
<rect x="159.25" y="125.73" width="4.20" height="4.26" fill="#000025"/>
<rect x="163.15" y="125.73" width="4.20" height="4.26" fill="#753317"/>
<rect x="167.04" y="125.73" width="4.20" height="4.26" fill="#753317"/>
<rect x="170.94" y="125.73" width="4.20" height="4.26" fill="#753317"/>
<rect x="174.83" y="125.73" width="4.20" height="4.26" fill="#753317"/>
<rect x="178.73" y="125.73" width="4.20" height="4.26" fill="#000025"/>
<rect x="182.62" y="125.73" width="4.20" height="4.26" fill="#00003d"/>
<rect x="186.52" y="125.73" width="4.20" height="4.26" fill="#00003d"/>
<rect x="190.42" y="125.73" width="4.20" height="4.26" fill="#000059"/>
<rect x="194.31" y="125.73" width="4.20" height="4.26" fill="#000059"/>
<rect x="198.21" y="125.73" width="4.20" height="4.26" fill="#000059"/>
<rect x="202.10" y="125.73" width="10.20" height="4.26" fill="#00003d"/>
<rect x="106.50" y="129.69" width="10.20" height="4.26" fill="#00003d"/>
<rect x="116.40" y="129.69" width="4.20" height="4.26" fill="#000025"/>
<rect x="120.29" y="129.69" width="4.20" height="4.26" fill="#000025"/>
<rect x="124.19" y="129.69" width="4.20" height="4.26" fill="#000025"/>
<rect x="128.08" y="129.69" width="4.20" height="4.26" fill="#000025"/>
<rect x="131.98" y="129.69" width="4.20" height="4.26" fill="#000025"/>
<rect x="135.88" y="129.69" width="4.20" height="4.26" fill="#000025"/>
<rect x="139.77" y="129.69" width="4.20" height="4.26" fill="#000025"/>
<rect x="143.67" y="129.69" width="4.20" height="4.26" fill="#380a1d"/>
<rect x="147.56" y="129.69" width="4.20" height="4.26" fill="#380a1d"/>
<rect x="151.46" y="129.69" width="4.20" height="4.26" fill="#000013"/>
<rect x="155.35" y="129.69" width="4.20" height="4.26" fill="#000013"/>
<rect x="159.25" y="129.69" width="4.20" height="4.26" fill="#000025"/>
<rect x="163.15" y="129.69" width="4.20" height="4.26" fill="#753317"/>
<rect x="167.04" y="129.69" width="4.20" height="4.26" fill="#753317"/>
<rect x="170.94" y="129.69" width="4.20" height="4.26" fill="#753317"/>
<rect x="174.83" y="129.69" width="4.20" height="4.26" fill="#753317"/>
<rect x="178.73" y="129.69" width="4.20" height="4.26" fill="#000025"/>
<rect x="182.62" y="129.69" width="4.20" height="4.26" fill="#00003d"/>
<rect x="186.52" y="129.69" width="4.20" height="4.26" fill="#00003d"/>
<rect x="190.42" y="129.69" width="4.20" height="4.26" fill="#00003d"/>
<rect x="194.31" y="129.69" width="4.20" height="4.26" fill="#00003d"/>
<rect x="198.21" y="129.69" width="4.20" height="4.26" fill="#00003d"/>
<rect x="202.10" y="129.69" width="10.20" height="4.26" fill="#00003d"/>
<rect x="106.50" y="133.64" width="10.20" height="10.26" fill="#000025"/>
<rect x="116.40" y="133.64" width="4.20" height="10.26" fill="#000025"/>
<rect x="120.29" y="133.64" width="4.20" height="10.26" fill="#000025"/>
<rect x="124.19" y="133.64" width="4.20" height="10.26" fill="#000025"/>
<rect x="128.08" y="133.64" width="4.20" height="10.26" fill="#000025"/>
<rect x="131.98" y="133.64" width="4.20" height="10.26" fill="#000025"/>
<rect x="135.88" y="133.64" width="4.20" height="10.26" fill="#000025"/>
<rect x="139.77" y="133.64" width="4.20" height="10.26" fill="#000025"/>
<rect x="143.67" y="133.64" width="4.20" height="10.26" fill="#380a1d"/>
<rect x="147.56" y="133.64" width="4.20" height="10.26" fill="#000025"/>
<rect x="151.46" y="133.64" width="4.20" height="10.26" fill="#000013"/>
<rect x="155.35" y="133.64" width="4.20" height="10.26" fill="#000013"/>
<rect x="159.25" y="133.64" width="4.20" height="10.26" fill="#000025"/>
<rect x="163.15" y="133.64" width="4.20" height="10.26" fill="#541417"/>
<rect x="167.04" y="133.64" width="4.20" height="10.26" fill="#541417"/>
<rect x="170.94" y="133.64" width="4.20" height="10.26" fill="#541417"/>
<rect x="174.83" y="133.64" width="4.20" height="10.26" fill="#000025"/>
<rect x="178.73" y="133.64" width="4.20" height="10.26" fill="#000025"/>
<rect x="182.62" y="133.64" width="4.20" height="10.26" fill="#000025"/>
<rect x="186.52" y="133.64" width="4.20" height="10.26" fill="#000025"/>
<rect x="190.42" y="133.64" width="4.20" height="10.26" fill="#000025"/>
<rect x="194.31" y="133.64" width="4.20" height="10.26" fill="#000025"/>
<rect x="198.21" y="133.64" width="4.20" height="10.26" fill="#000025"/>
<rect x="202.10" y="133.64" width="10.20" height="10.26" fill="#000025"/>
</g>
<rect x="135.43" y="18.90" width="0.9" height="118.70" fill="#000" opacity="0.45"/>
<rect x="158.80" y="18.90" width="0.9" height="118.70" fill="#000" opacity="0.45"/>
<rect x="182.18" y="18.90" width="0.9" height="118.70" fill="#000" opacity="0.45"/>
<rect x="112.50" y="42.19" width="93.50" height="0.9" fill="#000" opacity="0.45"/>
<rect x="112.50" y="65.93" width="93.50" height="0.9" fill="#000" opacity="0.45"/>
<rect x="112.50" y="89.67" width="93.50" height="0.9" fill="#000" opacity="0.45"/>
<rect x="112.50" y="113.41" width="93.50" height="0.9" fill="#000" opacity="0.45"/>
</g><rect x="183.9" y="126.9" width="16.2" height="1.1" fill="#e8e8e8"/><rect x="0.6" y="0.6" width="518.8" height="654.8" fill="none" stroke="#000" stroke-width="1.3"/>
<text x="6.9" y="14.8" font-size="10.5" text-anchor="start" font-weight="bold" fill="#000">A</text>
<text x="223.5" y="14.8" font-size="10.5" text-anchor="start" font-weight="bold" fill="#000">B</text>
<text x="339.8" y="14.8" font-size="10.5" text-anchor="start" font-weight="bold" fill="#000">C</text>
<text x="6.9" y="161.9" font-size="10.5" text-anchor="start" font-weight="bold" fill="#000">D</text>
<text x="243" y="162.3" font-size="10.5" text-anchor="start" font-weight="bold" fill="#000">E</text>
<text x="390.3" y="162.3" font-size="10.5" text-anchor="start" font-weight="bold" fill="#000">F</text>
<text x="7.6" y="334.6" font-size="10.5" text-anchor="start" font-weight="bold" fill="#000">G</text>
<text x="215.7" y="334.5" font-size="10.5" text-anchor="start" font-weight="bold" fill="#000">H</text>
<text x="400.2" y="334.5" font-size="10.5" text-anchor="start" font-weight="bold" fill="#000">I</text>
<text x="6.6" y="504.3" font-size="10.5" text-anchor="start" font-weight="bold" fill="#000">J</text>
<text x="252.7" y="504.4" font-size="10.5" text-anchor="start" font-weight="bold" fill="#000">K</text>
<text x="25.8" y="14.4" font-size="8.68" text-anchor="start" font-weight="normal" fill="#111" textLength="73.5" lengthAdjust="spacingAndGlyphs" class="t">Vehicle-treated, AML</text>
<text x="114.3" y="14.4" font-size="8.57" text-anchor="start" font-weight="normal" fill="#111" textLength="89" lengthAdjust="spacingAndGlyphs" class="t">Prinomastat-treated, AML</text>
<line x1="251.3" y1="32.3" x2="251.3" y2="125.5" stroke="#1a1a1a" stroke-width="1.45" stroke-linecap="butt"/>
<line x1="248.5" y1="125" x2="251.3" y2="125" stroke="#1a1a1a" stroke-width="1.45" stroke-linecap="butt"/>
<text x="245.4" y="127.5" font-size="7.8" text-anchor="end" font-weight="normal" fill="#111">0</text>
<line x1="248.5" y1="95.4" x2="251.3" y2="95.4" stroke="#1a1a1a" stroke-width="1.45" stroke-linecap="butt"/>
<text x="245.4" y="97.9" font-size="7.8" text-anchor="end" font-weight="normal" fill="#111">20</text>
<line x1="248.5" y1="65.8" x2="251.3" y2="65.8" stroke="#1a1a1a" stroke-width="1.45" stroke-linecap="butt"/>
<text x="245.4" y="68.3" font-size="7.8" text-anchor="end" font-weight="normal" fill="#111">40</text>
<line x1="248.5" y1="36.2" x2="251.3" y2="36.2" stroke="#1a1a1a" stroke-width="1.45" stroke-linecap="butt"/>
<text x="245.4" y="38.7" font-size="7.8" text-anchor="end" font-weight="normal" fill="#111">60</text>
<rect x="257.2" y="57.07" width="21.2" height="67.93" fill="#88a6c5"/>
<rect x="289.8" y="96.14" width="21.6" height="28.86" fill="#a0dba0"/>
<line x1="251.3" y1="125" x2="317.3" y2="125" stroke="#1a1a1a" stroke-width="1.45" stroke-linecap="butt"/>
<line x1="267.8" y1="125" x2="267.8" y2="127.6" stroke="#1a1a1a" stroke-width="0.9" stroke-linecap="butt"/>
<line x1="300.6" y1="125" x2="300.6" y2="127.6" stroke="#1a1a1a" stroke-width="0.9" stroke-linecap="butt"/>
<text x="266.6" y="136.2" font-size="7.3" text-anchor="middle" font-weight="normal" fill="#111" textLength="23.3" lengthAdjust="spacingAndGlyphs">Vehicle</text>
<text x="302.5" y="136.2" font-size="7.3" text-anchor="middle" font-weight="normal" fill="#111" textLength="39.4" lengthAdjust="spacingAndGlyphs">Prinomastat</text>
<line x1="267.8" y1="46.5" x2="267.8" y2="67.4" stroke="#2a2a2a" stroke-width="1" stroke-linecap="butt"/>
<line x1="262.5" y1="46.5" x2="273.1" y2="46.5" stroke="#2a2a2a" stroke-width="1" stroke-linecap="butt"/>
<line x1="262.5" y1="67.4" x2="273.1" y2="67.4" stroke="#2a2a2a" stroke-width="1" stroke-linecap="butt"/>
<line x1="300.6" y1="86.9" x2="300.6" y2="105.3" stroke="#2a2a2a" stroke-width="1" stroke-linecap="butt"/>
<line x1="295.3" y1="86.9" x2="305.9" y2="86.9" stroke="#2a2a2a" stroke-width="1" stroke-linecap="butt"/>
<line x1="295.3" y1="105.3" x2="305.9" y2="105.3" stroke="#2a2a2a" stroke-width="1" stroke-linecap="butt"/>
<circle cx="267.8" cy="40.8" r="2.35" fill="#0d4c8c"/>
<circle cx="267.8" cy="53.7" r="2.35" fill="#0d4c8c"/>
<circle cx="267.8" cy="76.5" r="2.35" fill="#0d4c8c"/>
<circle cx="300.6" cy="79.7" r="2.35" fill="#2db144"/>
<circle cx="300.6" cy="97" r="2.35" fill="#2db144"/>
<circle cx="300.6" cy="112" r="2.35" fill="#2db144"/>
<polyline points="267.5,34.6 267.5,29.8 300.5,29.8 300.5,74.4" fill="none" stroke="#3a3a3a" stroke-width="0.9"/>
<circle cx="284" cy="25.8" r="1.15" fill="#2a2a2a"/>
<text x="230.8" y="80.9" font-size="9.3" text-anchor="middle" font-weight="normal" fill="#111" textLength="91.7" lengthAdjust="spacingAndGlyphs" transform="rotate(-90 230.8 80.9)" class="c">AML intensity (mean gray value)</text>
<text x="401.3" y="14.9" font-size="8.9" text-anchor="start" font-weight="normal" fill="#111" textLength="52.6" lengthAdjust="spacingAndGlyphs" class="t">AML cells D16</text>
<line x1="384.6" y1="27.8" x2="384.6" y2="125.5" stroke="#1a1a1a" stroke-width="1.45" stroke-linecap="butt"/>
<line x1="381.8" y1="125" x2="384.6" y2="125" stroke="#1a1a1a" stroke-width="1.45" stroke-linecap="butt"/>
<text x="379" y="127.5" font-size="7.8" text-anchor="end" font-weight="normal" fill="#111">0</text>
<line x1="381.8" y1="106.2" x2="384.6" y2="106.2" stroke="#1a1a1a" stroke-width="1.45" stroke-linecap="butt"/>
<text x="379" y="108.7" font-size="7.8" text-anchor="end" font-weight="normal" fill="#111">20000</text>
<line x1="381.8" y1="87.4" x2="384.6" y2="87.4" stroke="#1a1a1a" stroke-width="1.45" stroke-linecap="butt"/>
<text x="379" y="89.9" font-size="7.8" text-anchor="end" font-weight="normal" fill="#111">40000</text>
<line x1="381.8" y1="68.6" x2="384.6" y2="68.6" stroke="#1a1a1a" stroke-width="1.45" stroke-linecap="butt"/>
<text x="379" y="71.1" font-size="7.8" text-anchor="end" font-weight="normal" fill="#111">60000</text>
<line x1="381.8" y1="49.8" x2="384.6" y2="49.8" stroke="#1a1a1a" stroke-width="1.45" stroke-linecap="butt"/>
<text x="379" y="52.3" font-size="7.8" text-anchor="end" font-weight="normal" fill="#111">80000</text>
<line x1="381.8" y1="31" x2="384.6" y2="31" stroke="#1a1a1a" stroke-width="1.45" stroke-linecap="butt"/>
<text x="379" y="33.5" font-size="7.8" text-anchor="end" font-weight="normal" fill="#111">100000</text>
<rect x="390.8" y="74.24" width="11.1" height="50.76" fill="#88a6c5"/>
<rect x="407.7" y="105.26" width="11.5" height="19.74" fill="#a0dba0"/>
<rect x="436.3" y="101.03" width="11.6" height="23.97" fill="#88a6c5"/>
<rect x="453.6" y="121.99" width="11.4" height="3.01" fill="#a0dba0"/>
<line x1="384.6" y1="125" x2="470.4" y2="125" stroke="#1a1a1a" stroke-width="1.45" stroke-linecap="butt"/>
<line x1="404.6" y1="125" x2="404.6" y2="127.6" stroke="#1a1a1a" stroke-width="0.9" stroke-linecap="butt"/>
<line x1="450.4" y1="125" x2="450.4" y2="127.6" stroke="#1a1a1a" stroke-width="0.9" stroke-linecap="butt"/>
<text x="405.2" y="136.5" font-size="7.3" text-anchor="middle" font-weight="normal" fill="#111" textLength="38.5" lengthAdjust="spacingAndGlyphs">Long bones</text>
<text x="450.4" y="136.5" font-size="7.3" text-anchor="middle" font-weight="normal" fill="#111" textLength="27" lengthAdjust="spacingAndGlyphs">Calvaria</text>
<line x1="396.5" y1="65.8" x2="396.5" y2="82.3" stroke="#2a2a2a" stroke-width="1" stroke-linecap="butt"/>
<line x1="394.2" y1="65.8" x2="398.8" y2="65.8" stroke="#2a2a2a" stroke-width="1" stroke-linecap="butt"/>
<line x1="394.2" y1="82.3" x2="398.8" y2="82.3" stroke="#2a2a2a" stroke-width="1" stroke-linecap="butt"/>
<circle cx="396.5" cy="41" r="2.35" fill="#0d4c8c"/>
<circle cx="392.1" cy="81.7" r="2.35" fill="#0d4c8c"/>
<circle cx="400.4" cy="78.7" r="2.35" fill="#0d4c8c"/>
<circle cx="400.8" cy="82.9" r="2.35" fill="#0d4c8c"/>
<circle cx="396.5" cy="86.5" r="2.35" fill="#0d4c8c"/>
<line x1="413.5" y1="101.9" x2="413.5" y2="108.5" stroke="#2a2a2a" stroke-width="1" stroke-linecap="butt"/>
<line x1="411.2" y1="101.9" x2="415.8" y2="101.9" stroke="#2a2a2a" stroke-width="1" stroke-linecap="butt"/>
<line x1="411.2" y1="108.5" x2="415.8" y2="108.5" stroke="#2a2a2a" stroke-width="1" stroke-linecap="butt"/>
<circle cx="410" cy="98.5" r="2.35" fill="#2db144"/>
<circle cx="417.3" cy="98.5" r="2.35" fill="#2db144"/>
<circle cx="413.5" cy="105" r="2.35" fill="#2db144"/>
<circle cx="410" cy="112" r="2.35" fill="#2db144"/>
<circle cx="417.3" cy="112" r="2.35" fill="#2db144"/>
<line x1="441.8" y1="98.5" x2="441.8" y2="105.2" stroke="#2a2a2a" stroke-width="1" stroke-linecap="butt"/>
<line x1="439.5" y1="98.5" x2="444.1" y2="98.5" stroke="#2a2a2a" stroke-width="1" stroke-linecap="butt"/>
<line x1="439.5" y1="105.2" x2="444.1" y2="105.2" stroke="#2a2a2a" stroke-width="1" stroke-linecap="butt"/>
<circle cx="437.9" cy="95.6" r="2.35" fill="#0d4c8c"/>
<circle cx="446" cy="95.6" r="2.35" fill="#0d4c8c"/>
<circle cx="437.9" cy="100.8" r="2.35" fill="#0d4c8c"/>
<circle cx="446" cy="104.2" r="2.35" fill="#0d4c8c"/>
<circle cx="441.7" cy="113.3" r="2.35" fill="#0d4c8c"/>
<line x1="459.4" y1="120" x2="459.4" y2="124" stroke="#2a2a2a" stroke-width="1" stroke-linecap="butt"/>
<line x1="457.1" y1="120" x2="461.7" y2="120" stroke="#2a2a2a" stroke-width="1" stroke-linecap="butt"/>
<line x1="457.1" y1="124" x2="461.7" y2="124" stroke="#2a2a2a" stroke-width="1" stroke-linecap="butt"/>
<circle cx="459.4" cy="113.7" r="2.35" fill="#2db144"/>
<circle cx="455.5" cy="123" r="2.35" fill="#2db144"/>
<circle cx="458.5" cy="121.5" r="2.35" fill="#2db144"/>
<circle cx="462.8" cy="121" r="2.35" fill="#2db144"/>
<circle cx="464.3" cy="123.2" r="2.35" fill="#2db144"/>
<polyline points="396.3,36.5 396.3,29.8 413.3,29.8 413.3,92.3" fill="none" stroke="#3a3a3a" stroke-width="0.9"/>
<circle cx="401.5" cy="25.8" r="1.15" fill="#2a2a2a"/>
<circle cx="404.8" cy="25.8" r="1.15" fill="#2a2a2a"/>
<circle cx="408.1" cy="25.8" r="1.15" fill="#2a2a2a"/>
<polyline points="441.8,89.8 441.8,30 459.5,30 459.5,107.7" fill="none" stroke="#3a3a3a" stroke-width="0.9"/>
<circle cx="450.8" cy="26" r="1.15" fill="#2a2a2a"/>
<circle cx="471.4" cy="28.3" r="2.3" fill="#0d4c8c"/>
<text x="476.7" y="31" font-size="7.6" text-anchor="start" font-weight="normal" fill="#111" textLength="22.1" lengthAdjust="spacingAndGlyphs">Vehicle</text>
<circle cx="471.4" cy="39.6" r="2.3" fill="#2db144"/>
<text x="476.7" y="42.3" font-size="7.6" text-anchor="start" font-weight="normal" fill="#111" textLength="36.5" lengthAdjust="spacingAndGlyphs">Prinomastat</text>
<text x="348.4" y="78" font-size="9.3" text-anchor="middle" font-weight="normal" fill="#111" textLength="50.3" lengthAdjust="spacingAndGlyphs" transform="rotate(-90 348.4 78)" class="c">n. AML cells/bone</text>
<line x1="34.2" y1="164.2" x2="34.2" y2="286.7" stroke="#1a1a1a" stroke-width="1.45" stroke-linecap="butt"/>
<line x1="31.4" y1="286.2" x2="34.2" y2="286.2" stroke="#1a1a1a" stroke-width="1.45" stroke-linecap="butt"/>
<text x="28.9" y="288.73" font-size="7.9" text-anchor="end" font-weight="normal" fill="#111">0</text>
<line x1="31.4" y1="276.36" x2="34.2" y2="276.36" stroke="#1a1a1a" stroke-width="1.45" stroke-linecap="butt"/>
<text x="28.9" y="278.89" font-size="7.9" text-anchor="end" font-weight="normal" fill="#111">5</text>
<line x1="31.4" y1="266.52" x2="34.2" y2="266.52" stroke="#1a1a1a" stroke-width="1.45" stroke-linecap="butt"/>
<text x="28.9" y="269.05" font-size="7.9" text-anchor="end" font-weight="normal" fill="#111">10</text>
<line x1="31.4" y1="256.68" x2="34.2" y2="256.68" stroke="#1a1a1a" stroke-width="1.45" stroke-linecap="butt"/>
<text x="28.9" y="259.21" font-size="7.9" text-anchor="end" font-weight="normal" fill="#111">15</text>
<line x1="31.4" y1="246.84" x2="34.2" y2="246.84" stroke="#1a1a1a" stroke-width="1.45" stroke-linecap="butt"/>
<text x="28.9" y="249.37" font-size="7.9" text-anchor="end" font-weight="normal" fill="#111">20</text>
<line x1="31.4" y1="237" x2="34.2" y2="237" stroke="#1a1a1a" stroke-width="1.45" stroke-linecap="butt"/>
<text x="28.9" y="239.53" font-size="7.9" text-anchor="end" font-weight="normal" fill="#111">25</text>
<line x1="31.4" y1="227.16" x2="34.2" y2="227.16" stroke="#1a1a1a" stroke-width="1.45" stroke-linecap="butt"/>
<text x="28.9" y="229.69" font-size="7.9" text-anchor="end" font-weight="normal" fill="#111">30</text>
<line x1="31.4" y1="217.32" x2="34.2" y2="217.32" stroke="#1a1a1a" stroke-width="1.45" stroke-linecap="butt"/>
<text x="28.9" y="219.85" font-size="7.9" text-anchor="end" font-weight="normal" fill="#111">35</text>
<line x1="31.4" y1="207.48" x2="34.2" y2="207.48" stroke="#1a1a1a" stroke-width="1.45" stroke-linecap="butt"/>
<text x="28.9" y="210.01" font-size="7.9" text-anchor="end" font-weight="normal" fill="#111">40</text>
<line x1="31.4" y1="197.64" x2="34.2" y2="197.64" stroke="#1a1a1a" stroke-width="1.45" stroke-linecap="butt"/>
<text x="28.9" y="200.17" font-size="7.9" text-anchor="end" font-weight="normal" fill="#111">45</text>
<line x1="31.4" y1="187.8" x2="34.2" y2="187.8" stroke="#1a1a1a" stroke-width="1.45" stroke-linecap="butt"/>
<text x="28.9" y="190.33" font-size="7.9" text-anchor="end" font-weight="normal" fill="#111">50</text>
<line x1="31.4" y1="177.96" x2="34.2" y2="177.96" stroke="#1a1a1a" stroke-width="1.45" stroke-linecap="butt"/>
<text x="28.9" y="180.49" font-size="7.9" text-anchor="end" font-weight="normal" fill="#111">55</text>
<line x1="31.4" y1="168.12" x2="34.2" y2="168.12" stroke="#1a1a1a" stroke-width="1.45" stroke-linecap="butt"/>
<text x="28.9" y="170.65" font-size="7.9" text-anchor="end" font-weight="normal" fill="#111">60</text>
<line x1="34.2" y1="286.2" x2="216.5" y2="286.2" stroke="#1a1a1a" stroke-width="1.45" stroke-linecap="butt"/>
<line x1="52.3" y1="286.2" x2="52.3" y2="288.8" stroke="#1a1a1a" stroke-width="0.9" stroke-linecap="butt"/>
<text x="52.3" y="297.6" font-size="7.9" text-anchor="middle" font-weight="normal" fill="#111">d6</text>
<line x1="88.5" y1="286.2" x2="88.5" y2="288.8" stroke="#1a1a1a" stroke-width="0.9" stroke-linecap="butt"/>
<text x="88.5" y="297.6" font-size="7.9" text-anchor="middle" font-weight="normal" fill="#111">d11</text>
<line x1="124.9" y1="286.2" x2="124.9" y2="288.8" stroke="#1a1a1a" stroke-width="0.9" stroke-linecap="butt"/>
<text x="124.9" y="297.6" font-size="7.9" text-anchor="middle" font-weight="normal" fill="#111">d13</text>
<line x1="161.1" y1="286.2" x2="161.1" y2="288.8" stroke="#1a1a1a" stroke-width="0.9" stroke-linecap="butt"/>
<text x="161.1" y="297.6" font-size="7.9" text-anchor="middle" font-weight="normal" fill="#111">d19</text>
<line x1="197.5" y1="286.2" x2="197.5" y2="288.8" stroke="#1a1a1a" stroke-width="0.9" stroke-linecap="butt"/>
<text x="197.5" y="297.6" font-size="7.9" text-anchor="middle" font-weight="normal" fill="#111">d21</text>
<text x="125.4" y="310.4" font-size="9.3" text-anchor="middle" font-weight="normal" fill="#111" textLength="67.5" lengthAdjust="spacingAndGlyphs" class="c">Days post AML injection</text>
<text x="13.9" y="225" font-size="9.3" text-anchor="middle" font-weight="normal" fill="#111" textLength="47.5" lengthAdjust="spacingAndGlyphs" transform="rotate(-90 13.9 225)" class="c">% PB infiltration</text>
<circle cx="48.8" cy="171.9" r="2.3" fill="#0d4c8c"/>
<text x="54.2" y="174.6" font-size="7.6" text-anchor="start" font-weight="normal" fill="#111" textLength="22.1" lengthAdjust="spacingAndGlyphs">Vehicle</text>
<circle cx="48.8" cy="181.9" r="2.3" fill="#2db144"/>
<text x="54.2" y="184.6" font-size="7.6" text-anchor="start" font-weight="normal" fill="#111" textLength="36.5" lengthAdjust="spacingAndGlyphs">Prinomastat</text>
<polyline points="45.4,280.8 45.4,246.2 59.2,246.2 59.2,280.8" fill="none" stroke="#3a3a3a" stroke-width="0.9"/>
<text x="52.3" y="243" font-size="7.5" text-anchor="middle" font-weight="normal" fill="#111">ns</text>
<polyline points="81.5,279.6 81.5,244.6 95.6,244.6 95.6,279.6" fill="none" stroke="#3a3a3a" stroke-width="0.9"/>
<text x="88.5" y="241.5" font-size="7.5" text-anchor="middle" font-weight="normal" fill="#111">ns</text>
<polyline points="117.7,272 117.7,237.7 131.7,237.7 131.7,269" fill="none" stroke="#3a3a3a" stroke-width="0.9"/>
<text x="124.9" y="234.5" font-size="7.5" text-anchor="middle" font-weight="normal" fill="#111">ns</text>
<polyline points="154,229.8 154,210.6 168.8,210.6 168.8,257.7" fill="none" stroke="#3a3a3a" stroke-width="0.9"/>
<text x="161.2" y="207.6" font-size="7.5" text-anchor="middle" font-weight="normal" fill="#111">ns</text>
<polyline points="190.3,169.4 190.3,164.9 204.6,164.9 204.6,169.4" fill="none" stroke="#3a3a3a" stroke-width="0.9"/>
<text x="197.4" y="162" font-size="7.5" text-anchor="middle" font-weight="normal" fill="#111">ns</text>
<circle cx="42.8" cy="286.2" r="2.35" fill="#0d4c8c"/>
<circle cx="44.67" cy="286.2" r="2.35" fill="#0d4c8c"/>
<circle cx="46.53" cy="286.2" r="2.35" fill="#0d4c8c"/>
<circle cx="48.4" cy="286.2" r="2.35" fill="#0d4c8c"/>
<circle cx="56.3" cy="286.2" r="2.35" fill="#2db144"/>
<circle cx="58.27" cy="286.2" r="2.35" fill="#2db144"/>
<circle cx="60.23" cy="286.2" r="2.35" fill="#2db144"/>
<circle cx="62.2" cy="286.2" r="2.35" fill="#2db144"/>
<circle cx="79" cy="286.2" r="2.35" fill="#0d4c8c"/>
<circle cx="80.93" cy="286.2" r="2.35" fill="#0d4c8c"/>
<circle cx="82.87" cy="286.2" r="2.35" fill="#0d4c8c"/>
<circle cx="84.8" cy="286.2" r="2.35" fill="#0d4c8c"/>
<circle cx="80.6" cy="284.6" r="2.35" fill="#0d4c8c"/>
<circle cx="92.7" cy="286.2" r="2.35" fill="#2db144"/>
<circle cx="94.53" cy="286.2" r="2.35" fill="#2db144"/>
<circle cx="96.37" cy="286.2" r="2.35" fill="#2db144"/>
<circle cx="98.2" cy="286.2" r="2.35" fill="#2db144"/>
<circle cx="95.5" cy="285" r="2.35" fill="#2db144"/>
<circle cx="115.6" cy="285.6" r="2.35" fill="#0d4c8c"/>
<circle cx="117.27" cy="285.6" r="2.35" fill="#0d4c8c"/>
<circle cx="118.93" cy="285.6" r="2.35" fill="#0d4c8c"/>
<circle cx="120.6" cy="285.6" r="2.35" fill="#0d4c8c"/>
<circle cx="116.3" cy="282.4" r="2.35" fill="#0d4c8c"/>
<circle cx="118.1" cy="276.9" r="2.35" fill="#0d4c8c"/>
<circle cx="118.6" cy="284" r="2.35" fill="#0d4c8c"/>
<circle cx="129.6" cy="285.6" r="2.35" fill="#2db144"/>
<circle cx="131.8" cy="285.6" r="2.35" fill="#2db144"/>
<circle cx="134" cy="285.6" r="2.35" fill="#2db144"/>
<circle cx="129.7" cy="282.7" r="2.35" fill="#2db144"/>
<circle cx="131.6" cy="273.6" r="2.35" fill="#2db144"/>
<circle cx="132.5" cy="284" r="2.35" fill="#2db144"/>
<circle cx="154.4" cy="235.2" r="2.35" fill="#0d4c8c"/>
<circle cx="154.4" cy="260.1" r="2.35" fill="#0d4c8c"/>
<circle cx="154.4" cy="264.1" r="2.35" fill="#0d4c8c"/>
<circle cx="154.4" cy="270.2" r="2.35" fill="#0d4c8c"/>
<circle cx="154.4" cy="272.9" r="2.35" fill="#0d4c8c"/>
<circle cx="153.4" cy="276" r="2.35" fill="#0d4c8c"/>
<circle cx="155.2" cy="278" r="2.35" fill="#0d4c8c"/>
<circle cx="153" cy="280.2" r="2.35" fill="#0d4c8c"/>
<circle cx="155.8" cy="281.2" r="2.35" fill="#0d4c8c"/>
<circle cx="154.3" cy="283.2" r="2.35" fill="#0d4c8c"/>
<circle cx="152.4" cy="285.4" r="2.35" fill="#0d4c8c"/>
<circle cx="156.4" cy="285.4" r="2.35" fill="#0d4c8c"/>
<circle cx="154.4" cy="285.8" r="2.35" fill="#0d4c8c"/>
<line x1="150.1" y1="275.3" x2="158.7" y2="275.3" stroke="#2a2a2a" stroke-width="1" stroke-linecap="butt"/>
<circle cx="167.9" cy="263.7" r="2.35" fill="#2db144"/>
<circle cx="167.9" cy="270.2" r="2.35" fill="#2db144"/>
<circle cx="167.9" cy="272" r="2.35" fill="#2db144"/>
<circle cx="167.9" cy="274.2" r="2.35" fill="#2db144"/>
<circle cx="167.9" cy="276.5" r="2.35" fill="#2db144"/>
<circle cx="167.9" cy="279" r="2.35" fill="#2db144"/>
<circle cx="167.9" cy="281.5" r="2.35" fill="#2db144"/>
<circle cx="165.4" cy="284" r="2.35" fill="#2db144"/>
<circle cx="170.4" cy="284" r="2.35" fill="#2db144"/>
<circle cx="165" cy="285.8" r="2.35" fill="#2db144"/>
<circle cx="167.9" cy="285.8" r="2.35" fill="#2db144"/>
<circle cx="170.8" cy="285.8" r="2.35" fill="#2db144"/>
<line x1="163.8" y1="281" x2="172.6" y2="281" stroke="#2a2a2a" stroke-width="1" stroke-linecap="butt"/>
<line x1="190.6" y1="241.5" x2="190.6" y2="262" stroke="#2a2a2a" stroke-width="1" stroke-linecap="butt"/>
<line x1="186.4" y1="241.5" x2="194.8" y2="241.5" stroke="#2a2a2a" stroke-width="1" stroke-linecap="butt"/>
<line x1="186.4" y1="262" x2="194.8" y2="262" stroke="#2a2a2a" stroke-width="1" stroke-linecap="butt"/>
<line x1="186.4" y1="251.7" x2="194.8" y2="251.7" stroke="#2a2a2a" stroke-width="1" stroke-linecap="butt"/>
<circle cx="190.8" cy="174.9" r="2.35" fill="#0d4c8c"/>
<circle cx="190.8" cy="179.5" r="2.35" fill="#0d4c8c"/>
<circle cx="190.8" cy="206.3" r="2.35" fill="#0d4c8c"/>
<circle cx="189.9" cy="228.3" r="2.35" fill="#0d4c8c"/>
<circle cx="191.4" cy="227.6" r="2.35" fill="#0d4c8c"/>
<circle cx="190.6" cy="251" r="2.35" fill="#0d4c8c"/>
<circle cx="190.6" cy="255.3" r="2.35" fill="#0d4c8c"/>
<circle cx="190.6" cy="266.2" r="2.35" fill="#0d4c8c"/>
<circle cx="190.6" cy="269.7" r="2.35" fill="#0d4c8c"/>
<circle cx="188.5" cy="286.4" r="2.35" fill="#0d4c8c"/>
<circle cx="190.23" cy="286.4" r="2.35" fill="#0d4c8c"/>
<circle cx="191.97" cy="286.4" r="2.35" fill="#0d4c8c"/>
<circle cx="193.7" cy="286.4" r="2.35" fill="#0d4c8c"/>
<line x1="204.3" y1="246.7" x2="204.3" y2="264.2" stroke="#2a2a2a" stroke-width="1" stroke-linecap="butt"/>
<line x1="200" y1="246.7" x2="208.6" y2="246.7" stroke="#2a2a2a" stroke-width="1" stroke-linecap="butt"/>
<line x1="200" y1="264.2" x2="208.6" y2="264.2" stroke="#2a2a2a" stroke-width="1" stroke-linecap="butt"/>
<line x1="200" y1="255.3" x2="208.6" y2="255.3" stroke="#2a2a2a" stroke-width="1" stroke-linecap="butt"/>
<circle cx="204.3" cy="174.3" r="2.35" fill="#2db144"/>
<circle cx="204.3" cy="197.8" r="2.35" fill="#2db144"/>
<circle cx="204.3" cy="208.9" r="2.35" fill="#2db144"/>
<circle cx="204.3" cy="223.8" r="2.35" fill="#2db144"/>
<circle cx="204.3" cy="250.3" r="2.35" fill="#2db144"/>
<circle cx="204.3" cy="253.2" r="2.35" fill="#2db144"/>
<circle cx="204.3" cy="257.4" r="2.35" fill="#2db144"/>
<circle cx="204.3" cy="260.2" r="2.35" fill="#2db144"/>
<circle cx="204.3" cy="261.7" r="2.35" fill="#2db144"/>
<circle cx="203.2" cy="283" r="2.35" fill="#2db144"/>
<circle cx="205" cy="283.8" r="2.35" fill="#2db144"/>
<circle cx="202.2" cy="285.6" r="2.35" fill="#2db144"/>
<circle cx="204.6" cy="285.8" r="2.35" fill="#2db144"/>
<circle cx="207" cy="285.6" r="2.35" fill="#2db144"/>
<circle cx="206.2" cy="284.6" r="2.35" fill="#2db144"/>
<text x="299.9" y="162.3" font-size="9" text-anchor="start" font-weight="normal" fill="#111" textLength="52.9" lengthAdjust="spacingAndGlyphs" class="t">AML cells D23</text>
<line x1="287.3" y1="175.7" x2="287.3" y2="286.8" stroke="#1a1a1a" stroke-width="1.45" stroke-linecap="butt"/>
<line x1="284.5" y1="286.3" x2="287.3" y2="286.3" stroke="#1a1a1a" stroke-width="1.45" stroke-linecap="butt"/>
<line x1="284.5" y1="265.1" x2="287.3" y2="265.1" stroke="#1a1a1a" stroke-width="1.45" stroke-linecap="butt"/>
<line x1="284.5" y1="243.9" x2="287.3" y2="243.9" stroke="#1a1a1a" stroke-width="1.45" stroke-linecap="butt"/>
<line x1="284.5" y1="222.7" x2="287.3" y2="222.7" stroke="#1a1a1a" stroke-width="1.45" stroke-linecap="butt"/>
<line x1="284.5" y1="201.5" x2="287.3" y2="201.5" stroke="#1a1a1a" stroke-width="1.45" stroke-linecap="butt"/>
<line x1="284.5" y1="180.3" x2="287.3" y2="180.3" stroke="#1a1a1a" stroke-width="1.45" stroke-linecap="butt"/>
<text x="281.8" y="288.5" font-size="7" text-anchor="end" font-weight="normal" fill="#111" textLength="4.12" lengthAdjust="spacingAndGlyphs">0</text>
<text x="277.74" y="267.3" font-size="7" text-anchor="end" font-weight="normal" fill="#111" textLength="16.67" lengthAdjust="spacingAndGlyphs">5×10</text>
<text x="277.99" y="264.4" font-size="4.6" text-anchor="start" font-weight="normal" fill="#111">6</text>
<text x="277.74" y="246.1" font-size="7" text-anchor="end" font-weight="normal" fill="#111" textLength="16.67" lengthAdjust="spacingAndGlyphs">1×10</text>
<text x="277.99" y="243.2" font-size="4.6" text-anchor="start" font-weight="normal" fill="#111">7</text>
<text x="277.74" y="224.9" font-size="7" text-anchor="end" font-weight="normal" fill="#111" textLength="22.84" lengthAdjust="spacingAndGlyphs">1.5×10</text>
<text x="277.99" y="222" font-size="4.6" text-anchor="start" font-weight="normal" fill="#111">7</text>
<text x="277.74" y="203.7" font-size="7" text-anchor="end" font-weight="normal" fill="#111" textLength="16.67" lengthAdjust="spacingAndGlyphs">2×10</text>
<text x="277.99" y="200.8" font-size="4.6" text-anchor="start" font-weight="normal" fill="#111">7</text>
<text x="277.74" y="182.5" font-size="7" text-anchor="end" font-weight="normal" fill="#111" textLength="22.84" lengthAdjust="spacingAndGlyphs">2.5×10</text>
<text x="277.99" y="179.6" font-size="4.6" text-anchor="start" font-weight="normal" fill="#111">7</text>
<rect x="298.2" y="219.31" width="19.5" height="66.99" fill="#88a6c5"/>
<rect x="331.2" y="250.9" width="20.4" height="35.4" fill="#a0dba0"/>
<line x1="287.3" y1="286.3" x2="362.1" y2="286.3" stroke="#1a1a1a" stroke-width="1.45" stroke-linecap="butt"/>
<line x1="308" y1="286.3" x2="308" y2="288.9" stroke="#1a1a1a" stroke-width="0.9" stroke-linecap="butt"/>
<line x1="341.4" y1="286.3" x2="341.4" y2="288.9" stroke="#1a1a1a" stroke-width="0.9" stroke-linecap="butt"/>
<text x="305.8" y="297.6" font-size="7.3" text-anchor="middle" font-weight="normal" fill="#111" textLength="23.2" lengthAdjust="spacingAndGlyphs">Vehicle</text>
<text x="344.5" y="297.6" font-size="7.3" text-anchor="middle" font-weight="normal" fill="#111" textLength="39" lengthAdjust="spacingAndGlyphs">Prinomastat</text>
<line x1="307.9" y1="209.2" x2="307.9" y2="228.9" stroke="#2a2a2a" stroke-width="1" stroke-linecap="butt"/>
<line x1="303.2" y1="209.2" x2="312.6" y2="209.2" stroke="#2a2a2a" stroke-width="1" stroke-linecap="butt"/>
<line x1="303.2" y1="228.9" x2="312.6" y2="228.9" stroke="#2a2a2a" stroke-width="1" stroke-linecap="butt"/>
<circle cx="307.8" cy="189.4" r="2.35" fill="#0d4c8c"/>
<circle cx="307.8" cy="201.1" r="2.35" fill="#0d4c8c"/>
<circle cx="304.6" cy="233.1" r="2.35" fill="#0d4c8c"/>
<circle cx="311.5" cy="234.2" r="2.35" fill="#0d4c8c"/>
<circle cx="308" cy="237.7" r="2.35" fill="#0d4c8c"/>
<line x1="341.4" y1="246.2" x2="341.4" y2="254.9" stroke="#2a2a2a" stroke-width="1" stroke-linecap="butt"/>
<line x1="336.3" y1="246.2" x2="346.5" y2="246.2" stroke="#2a2a2a" stroke-width="1" stroke-linecap="butt"/>
<line x1="336.3" y1="254.9" x2="346.5" y2="254.9" stroke="#2a2a2a" stroke-width="1" stroke-linecap="butt"/>
<circle cx="338.2" cy="242.3" r="2.35" fill="#2db144"/>
<circle cx="344.9" cy="242.3" r="2.35" fill="#2db144"/>
<circle cx="341.4" cy="247.7" r="2.35" fill="#2db144"/>
<circle cx="341.4" cy="258.5" r="2.35" fill="#2db144"/>
<circle cx="341.4" cy="262.3" r="2.35" fill="#2db144"/>
<polyline points="307.5,182 307.5,176.6 341.9,176.6 341.9,235" fill="none" stroke="#3a3a3a" stroke-width="0.9"/>
<circle cx="324.7" cy="172.6" r="1.15" fill="#2a2a2a"/>
<text x="250.9" y="232.7" font-size="9.3" text-anchor="middle" font-weight="normal" fill="#111" textLength="46.7" lengthAdjust="spacingAndGlyphs" transform="rotate(-90 250.9 232.7)" class="c">n. AML cells/leg</text>
<text x="438.8" y="162.2" font-size="9" text-anchor="start" font-weight="normal" fill="#111" textLength="52.4" lengthAdjust="spacingAndGlyphs" class="t">AML cells D26</text>
<line x1="429.4" y1="172" x2="429.4" y2="286.8" stroke="#1a1a1a" stroke-width="1.45" stroke-linecap="butt"/>
<line x1="426.6" y1="286.3" x2="429.4" y2="286.3" stroke="#1a1a1a" stroke-width="1.45" stroke-linecap="butt"/>
<line x1="426.6" y1="249.34" x2="429.4" y2="249.34" stroke="#1a1a1a" stroke-width="1.45" stroke-linecap="butt"/>
<line x1="426.6" y1="212.38" x2="429.4" y2="212.38" stroke="#1a1a1a" stroke-width="1.45" stroke-linecap="butt"/>
<line x1="426.6" y1="175.42" x2="429.4" y2="175.42" stroke="#1a1a1a" stroke-width="1.45" stroke-linecap="butt"/>
<text x="424.2" y="288.5" font-size="7" text-anchor="end" font-weight="normal" fill="#111" textLength="3.89" lengthAdjust="spacingAndGlyphs">0</text>
<text x="419.04" y="251.54" font-size="7" text-anchor="end" font-weight="normal" fill="#111" textLength="15.77" lengthAdjust="spacingAndGlyphs">2×10</text>
<text x="419.29" y="248.64" font-size="4.6" text-anchor="start" font-weight="normal" fill="#111">7</text>
<text x="419.04" y="214.58" font-size="7" text-anchor="end" font-weight="normal" fill="#111" textLength="15.77" lengthAdjust="spacingAndGlyphs">4×10</text>
<text x="419.29" y="211.68" font-size="4.6" text-anchor="start" font-weight="normal" fill="#111">7</text>
<text x="419.04" y="177.62" font-size="7" text-anchor="end" font-weight="normal" fill="#111" textLength="15.77" lengthAdjust="spacingAndGlyphs">6×10</text>
<text x="419.29" y="174.72" font-size="4.6" text-anchor="start" font-weight="normal" fill="#111">7</text>
<rect x="440.7" y="251.93" width="22.9" height="34.37" fill="#88a6c5"/>
<rect x="478.3" y="269.67" width="22.8" height="16.63" fill="#a0dba0"/>
<line x1="429.4" y1="286.3" x2="512.7" y2="286.3" stroke="#1a1a1a" stroke-width="1.45" stroke-linecap="butt"/>
<line x1="452.2" y1="286.3" x2="452.2" y2="288.9" stroke="#1a1a1a" stroke-width="0.9" stroke-linecap="butt"/>
<line x1="489.6" y1="286.3" x2="489.6" y2="288.9" stroke="#1a1a1a" stroke-width="0.9" stroke-linecap="butt"/>
<text x="452" y="297.4" font-size="7.3" text-anchor="middle" font-weight="normal" fill="#111" textLength="23.2" lengthAdjust="spacingAndGlyphs">Vehicle</text>
<text x="489.6" y="297.4" font-size="7.3" text-anchor="middle" font-weight="normal" fill="#111" textLength="39" lengthAdjust="spacingAndGlyphs">Prinomastat</text>
<line x1="452.2" y1="245" x2="452.2" y2="258.8" stroke="#2a2a2a" stroke-width="1" stroke-linecap="butt"/>
<line x1="446.6" y1="245" x2="457.8" y2="245" stroke="#2a2a2a" stroke-width="1" stroke-linecap="butt"/>
<line x1="446.6" y1="258.8" x2="457.8" y2="258.8" stroke="#2a2a2a" stroke-width="1" stroke-linecap="butt"/>
<circle cx="452.2" cy="184.6" r="2.35" fill="#0d4c8c"/>
<circle cx="449" cy="218.1" r="2.35" fill="#0d4c8c"/>
<circle cx="455.5" cy="217.3" r="2.35" fill="#0d4c8c"/>
<circle cx="452" cy="225.2" r="2.35" fill="#0d4c8c"/>
<circle cx="452" cy="244.2" r="2.35" fill="#0d4c8c"/>
<circle cx="452" cy="248.8" r="2.35" fill="#0d4c8c"/>
<circle cx="452" cy="254.5" r="2.35" fill="#0d4c8c"/>
<circle cx="448.8" cy="264.7" r="2.35" fill="#0d4c8c"/>
<circle cx="455.5" cy="263" r="2.35" fill="#0d4c8c"/>
<circle cx="455.5" cy="270.8" r="2.35" fill="#0d4c8c"/>
<circle cx="442.2" cy="272.7" r="2.35" fill="#0d4c8c"/>
<circle cx="442.2" cy="276.8" r="2.35" fill="#0d4c8c"/>
<circle cx="449" cy="275.3" r="2.35" fill="#0d4c8c"/>
<circle cx="455.5" cy="276.2" r="2.35" fill="#0d4c8c"/>
<circle cx="461.9" cy="276.1" r="2.35" fill="#0d4c8c"/>
<line x1="489.6" y1="267.6" x2="489.6" y2="271.9" stroke="#2a2a2a" stroke-width="1" stroke-linecap="butt"/>
<line x1="486.1" y1="267.6" x2="493.1" y2="267.6" stroke="#2a2a2a" stroke-width="1" stroke-linecap="butt"/>
<line x1="486.1" y1="271.9" x2="493.1" y2="271.9" stroke="#2a2a2a" stroke-width="1" stroke-linecap="butt"/>
<circle cx="489.5" cy="248.1" r="2.35" fill="#2db144"/>
<circle cx="489.5" cy="252.4" r="2.35" fill="#2db144"/>
<circle cx="486.5" cy="264.2" r="2.35" fill="#2db144"/>
<circle cx="493" cy="264.7" r="2.35" fill="#2db144"/>
<circle cx="479.6" cy="267.3" r="2.35" fill="#2db144"/>
<circle cx="499.6" cy="267.8" r="2.35" fill="#2db144"/>
<circle cx="479.6" cy="271.2" r="2.35" fill="#2db144"/>
<circle cx="486.5" cy="272.7" r="2.35" fill="#2db144"/>
<circle cx="493" cy="271.2" r="2.35" fill="#2db144"/>
<circle cx="479.6" cy="274.7" r="2.35" fill="#2db144"/>
<circle cx="486.5" cy="276.5" r="2.35" fill="#2db144"/>
<circle cx="493" cy="274.2" r="2.35" fill="#2db144"/>
<circle cx="499.6" cy="276.5" r="2.35" fill="#2db144"/>
<circle cx="493" cy="278.4" r="2.35" fill="#2db144"/>
<circle cx="489.5" cy="283.9" r="2.35" fill="#2db144"/>
<polyline points="451.9,177 451.9,173.2 489.7,173.2 489.7,243.3" fill="none" stroke="#3a3a3a" stroke-width="0.9"/>
<circle cx="471" cy="169.2" r="1.15" fill="#2a2a2a"/>
<text x="398.3" y="231" font-size="9.3" text-anchor="middle" font-weight="normal" fill="#111" textLength="47" lengthAdjust="spacingAndGlyphs" transform="rotate(-90 398.3 231)" class="c">n. AML cells/leg</text>
<text x="62.5" y="344.7" font-size="8.9" text-anchor="start" font-weight="normal" fill="#111" textLength="62.6" lengthAdjust="spacingAndGlyphs" class="t">Healthy cells D26</text>
<line x1="52" y1="348.5" x2="52" y2="468.8" stroke="#1a1a1a" stroke-width="1.45" stroke-linecap="butt"/>
<line x1="49.2" y1="468.3" x2="52" y2="468.3" stroke="#1a1a1a" stroke-width="1.45" stroke-linecap="butt"/>
<line x1="49.2" y1="429.6" x2="52" y2="429.6" stroke="#1a1a1a" stroke-width="1.45" stroke-linecap="butt"/>
<line x1="49.2" y1="390.9" x2="52" y2="390.9" stroke="#1a1a1a" stroke-width="1.45" stroke-linecap="butt"/>
<line x1="49.2" y1="352.2" x2="52" y2="352.2" stroke="#1a1a1a" stroke-width="1.45" stroke-linecap="butt"/>
<text x="47" y="470.5" font-size="7" text-anchor="end" font-weight="normal" fill="#111" textLength="4.2" lengthAdjust="spacingAndGlyphs">0</text>
<text x="43.14" y="431.8" font-size="7" text-anchor="end" font-weight="normal" fill="#111" textLength="17.01" lengthAdjust="spacingAndGlyphs">5×10</text>
<text x="43.39" y="428.9" font-size="4.6" text-anchor="start" font-weight="normal" fill="#111">6</text>
<text x="43.14" y="393.1" font-size="7" text-anchor="end" font-weight="normal" fill="#111" textLength="17.01" lengthAdjust="spacingAndGlyphs">1×10</text>
<text x="43.39" y="390.2" font-size="4.6" text-anchor="start" font-weight="normal" fill="#111">7</text>
<text x="43.14" y="354.4" font-size="7" text-anchor="end" font-weight="normal" fill="#111" textLength="23.3" lengthAdjust="spacingAndGlyphs">1.5×10</text>
<text x="43.39" y="351.5" font-size="4.6" text-anchor="start" font-weight="normal" fill="#111">7</text>
<rect x="59" y="447.25" width="27.7" height="21.05" fill="#88a6c5"/>
<rect x="100.2" y="435.79" width="27.7" height="32.51" fill="#a0dba0"/>
<line x1="52" y1="468.3" x2="135.6" y2="468.3" stroke="#1a1a1a" stroke-width="1.45" stroke-linecap="butt"/>
<line x1="72.8" y1="468.3" x2="72.8" y2="470.9" stroke="#1a1a1a" stroke-width="0.9" stroke-linecap="butt"/>
<line x1="114" y1="468.3" x2="114" y2="470.9" stroke="#1a1a1a" stroke-width="0.9" stroke-linecap="butt"/>
<text x="72.5" y="479.7" font-size="7.3" text-anchor="middle" font-weight="normal" fill="#111" textLength="23.2" lengthAdjust="spacingAndGlyphs">Vehicle</text>
<text x="114" y="479.7" font-size="7.3" text-anchor="middle" font-weight="normal" fill="#111" textLength="39" lengthAdjust="spacingAndGlyphs">Prinomastat</text>
<line x1="72.8" y1="443" x2="72.8" y2="451.7" stroke="#2a2a2a" stroke-width="1" stroke-linecap="butt"/>
<line x1="66.3" y1="443" x2="79.3" y2="443" stroke="#2a2a2a" stroke-width="1" stroke-linecap="butt"/>
<line x1="66.3" y1="451.7" x2="79.3" y2="451.7" stroke="#2a2a2a" stroke-width="1" stroke-linecap="butt"/>
<circle cx="72.7" cy="391.7" r="2.35" fill="#0d4c8c"/>
<circle cx="72.7" cy="414.2" r="2.35" fill="#0d4c8c"/>
<circle cx="72.7" cy="423.2" r="2.35" fill="#0d4c8c"/>
<circle cx="66.4" cy="439" r="2.35" fill="#0d4c8c"/>
<circle cx="72.5" cy="438.7" r="2.35" fill="#0d4c8c"/>
<circle cx="78.6" cy="436.8" r="2.35" fill="#0d4c8c"/>
<circle cx="60.7" cy="452.4" r="2.35" fill="#0d4c8c"/>
<circle cx="66.4" cy="452.4" r="2.35" fill="#0d4c8c"/>
<circle cx="72.5" cy="451.1" r="2.35" fill="#0d4c8c"/>
<circle cx="78.6" cy="452.4" r="2.35" fill="#0d4c8c"/>
<circle cx="84.6" cy="453.4" r="2.35" fill="#0d4c8c"/>
<circle cx="66.4" cy="456.3" r="2.35" fill="#0d4c8c"/>
<circle cx="72.5" cy="456.3" r="2.35" fill="#0d4c8c"/>
<circle cx="78.6" cy="456.3" r="2.35" fill="#0d4c8c"/>
<circle cx="84.6" cy="457.7" r="2.35" fill="#0d4c8c"/>
<circle cx="66.4" cy="460.1" r="2.35" fill="#0d4c8c"/>
<circle cx="72.5" cy="460.1" r="2.35" fill="#0d4c8c"/>
<circle cx="78.6" cy="460.1" r="2.35" fill="#0d4c8c"/>
<circle cx="69.5" cy="467" r="2.35" fill="#0d4c8c"/>
<circle cx="75.5" cy="467" r="2.35" fill="#0d4c8c"/>
<line x1="114.2" y1="430.7" x2="114.2" y2="441.6" stroke="#2a2a2a" stroke-width="1" stroke-linecap="butt"/>
<line x1="107.6" y1="430.7" x2="120.8" y2="430.7" stroke="#2a2a2a" stroke-width="1" stroke-linecap="butt"/>
<line x1="107.6" y1="441.6" x2="120.8" y2="441.6" stroke="#2a2a2a" stroke-width="1" stroke-linecap="butt"/>
<circle cx="114" cy="386.1" r="2.35" fill="#2db144"/>
<circle cx="111.5" cy="394.7" r="2.35" fill="#2db144"/>
<circle cx="116.5" cy="395.2" r="2.35" fill="#2db144"/>
<circle cx="114" cy="405.8" r="2.35" fill="#2db144"/>
<circle cx="114" cy="412" r="2.35" fill="#2db144"/>
<circle cx="114" cy="424.7" r="2.35" fill="#2db144"/>
<circle cx="110.6" cy="429.9" r="2.35" fill="#2db144"/>
<circle cx="116.6" cy="429.9" r="2.35" fill="#2db144"/>
<circle cx="114" cy="433.8" r="2.35" fill="#2db144"/>
<circle cx="111" cy="437.8" r="2.35" fill="#2db144"/>
<circle cx="117" cy="437.8" r="2.35" fill="#2db144"/>
<circle cx="118" cy="447.7" r="2.35" fill="#2db144"/>
<circle cx="114" cy="451.1" r="2.35" fill="#2db144"/>
<circle cx="117.5" cy="455.5" r="2.35" fill="#2db144"/>
<circle cx="101.7" cy="458.4" r="2.35" fill="#2db144"/>
<circle cx="107.7" cy="458.4" r="2.35" fill="#2db144"/>
<circle cx="113" cy="458.4" r="2.35" fill="#2db144"/>
<circle cx="118.5" cy="458.4" r="2.35" fill="#2db144"/>
<circle cx="124.3" cy="458.4" r="2.35" fill="#2db144"/>
<polyline points="72.7,383.1 72.7,371.1 114.3,371.1 114.3,378.5" fill="none" stroke="#3a3a3a" stroke-width="0.9"/>
<text x="93.5" y="368.1" font-size="7.5" text-anchor="middle" font-weight="normal" fill="#111">ns</text>
<text x="14.3" y="410.5" font-size="9.3" text-anchor="middle" font-weight="normal" fill="#111" textLength="62.9" lengthAdjust="spacingAndGlyphs" transform="rotate(-90 14.3 410.5)" class="c">Absolute cells number</text>
<text x="253" y="344.5" font-size="8.79" text-anchor="start" font-weight="normal" fill="#111" textLength="57" lengthAdjust="spacingAndGlyphs" class="t">BM EdU<tspan font-size="5" dy="-3">+</tspan><tspan dy="3"> blasts</tspan></text>
<line x1="241.8" y1="348.2" x2="241.8" y2="468.7" stroke="#1a1a1a" stroke-width="1.45" stroke-linecap="butt"/>
<line x1="239" y1="468.2" x2="241.8" y2="468.2" stroke="#1a1a1a" stroke-width="1.45" stroke-linecap="butt"/>
<text x="236" y="470.7" font-size="7.8" text-anchor="end" font-weight="normal" fill="#111">0</text>
<line x1="239" y1="444.9" x2="241.8" y2="444.9" stroke="#1a1a1a" stroke-width="1.45" stroke-linecap="butt"/>
<text x="236" y="447.4" font-size="7.8" text-anchor="end" font-weight="normal" fill="#111">10</text>
<line x1="239" y1="421.6" x2="241.8" y2="421.6" stroke="#1a1a1a" stroke-width="1.45" stroke-linecap="butt"/>
<text x="236" y="424.1" font-size="7.8" text-anchor="end" font-weight="normal" fill="#111">20</text>
<line x1="239" y1="398.3" x2="241.8" y2="398.3" stroke="#1a1a1a" stroke-width="1.45" stroke-linecap="butt"/>
<text x="236" y="400.8" font-size="7.8" text-anchor="end" font-weight="normal" fill="#111">30</text>
<line x1="239" y1="375" x2="241.8" y2="375" stroke="#1a1a1a" stroke-width="1.45" stroke-linecap="butt"/>
<text x="236" y="377.5" font-size="7.8" text-anchor="end" font-weight="normal" fill="#111">40</text>
<line x1="239" y1="351.7" x2="241.8" y2="351.7" stroke="#1a1a1a" stroke-width="1.45" stroke-linecap="butt"/>
<text x="236" y="354.2" font-size="7.8" text-anchor="end" font-weight="normal" fill="#111">50</text>
<rect x="248.8" y="390.61" width="25.5" height="77.59" fill="#88a6c5"/>
<rect x="287.5" y="419.5" width="25.8" height="48.7" fill="#a0dba0"/>
<line x1="241.8" y1="468.2" x2="320" y2="468.2" stroke="#1a1a1a" stroke-width="1.45" stroke-linecap="butt"/>
<line x1="261.5" y1="468.2" x2="261.5" y2="470.8" stroke="#1a1a1a" stroke-width="0.9" stroke-linecap="butt"/>
<line x1="300.4" y1="468.2" x2="300.4" y2="470.8" stroke="#1a1a1a" stroke-width="0.9" stroke-linecap="butt"/>
<text x="261.5" y="479.7" font-size="7.3" text-anchor="middle" font-weight="normal" fill="#111" textLength="23.2" lengthAdjust="spacingAndGlyphs">Vehicle</text>
<text x="300.4" y="479.7" font-size="7.3" text-anchor="middle" font-weight="normal" fill="#111" textLength="39" lengthAdjust="spacingAndGlyphs">Prinomastat</text>
<line x1="261.4" y1="384.5" x2="261.4" y2="396.3" stroke="#2a2a2a" stroke-width="1" stroke-linecap="butt"/>
<line x1="254.9" y1="384.5" x2="267.9" y2="384.5" stroke="#2a2a2a" stroke-width="1" stroke-linecap="butt"/>
<line x1="254.9" y1="396.3" x2="267.9" y2="396.3" stroke="#2a2a2a" stroke-width="1" stroke-linecap="butt"/>
<circle cx="261.2" cy="371.2" r="2.35" fill="#0d4c8c"/>
<circle cx="261.2" cy="382.5" r="2.35" fill="#0d4c8c"/>
<circle cx="261.2" cy="396.3" r="2.35" fill="#0d4c8c"/>
<circle cx="258" cy="402" r="2.35" fill="#0d4c8c"/>
<circle cx="265" cy="400.8" r="2.35" fill="#0d4c8c"/>
<line x1="300.5" y1="412.5" x2="300.5" y2="425.8" stroke="#2a2a2a" stroke-width="1" stroke-linecap="butt"/>
<line x1="294.3" y1="412.5" x2="306.7" y2="412.5" stroke="#2a2a2a" stroke-width="1" stroke-linecap="butt"/>
<line x1="294.3" y1="425.8" x2="306.7" y2="425.8" stroke="#2a2a2a" stroke-width="1" stroke-linecap="butt"/>
<circle cx="300.5" cy="400.8" r="2.35" fill="#2db144"/>
<circle cx="300.5" cy="410.5" r="2.35" fill="#2db144"/>
<circle cx="300.5" cy="417" r="2.35" fill="#2db144"/>
<circle cx="296.8" cy="435" r="2.35" fill="#2db144"/>
<circle cx="303.8" cy="433.3" r="2.35" fill="#2db144"/>
<polyline points="261.2,367 261.2,357 300.5,357 300.5,393" fill="none" stroke="#3a3a3a" stroke-width="0.9"/>
<circle cx="280.8" cy="353" r="1.15" fill="#2a2a2a"/>
<text x="221.3" y="410" font-size="9.3" text-anchor="middle" font-weight="normal" fill="#111" textLength="6" lengthAdjust="spacingAndGlyphs" transform="rotate(-90 221.3 410)" class="c">%</text>
<text x="430.9" y="335" font-size="8.9" text-anchor="start" font-weight="normal" fill="#111" textLength="71.6" lengthAdjust="spacingAndGlyphs" class="t">Late apoptotic/dead</text>
<text x="446.6" y="344.3" font-size="8.9" text-anchor="start" font-weight="normal" fill="#111" textLength="40.4" lengthAdjust="spacingAndGlyphs" class="t">AML blasts</text>
<line x1="429.5" y1="352.5" x2="429.5" y2="468.7" stroke="#1a1a1a" stroke-width="1.45" stroke-linecap="butt"/>
<line x1="426.7" y1="468.2" x2="429.5" y2="468.2" stroke="#1a1a1a" stroke-width="1.45" stroke-linecap="butt"/>
<text x="424" y="470.7" font-size="7.8" text-anchor="end" font-weight="normal" fill="#111">0.0</text>
<line x1="426.7" y1="445.7" x2="429.5" y2="445.7" stroke="#1a1a1a" stroke-width="1.45" stroke-linecap="butt"/>
<text x="424" y="448.2" font-size="7.8" text-anchor="end" font-weight="normal" fill="#111">0.2</text>
<line x1="426.7" y1="423.2" x2="429.5" y2="423.2" stroke="#1a1a1a" stroke-width="1.45" stroke-linecap="butt"/>
<text x="424" y="425.7" font-size="7.8" text-anchor="end" font-weight="normal" fill="#111">0.4</text>
<line x1="426.7" y1="400.7" x2="429.5" y2="400.7" stroke="#1a1a1a" stroke-width="1.45" stroke-linecap="butt"/>
<text x="424" y="403.2" font-size="7.8" text-anchor="end" font-weight="normal" fill="#111">0.6</text>
<line x1="426.7" y1="378.2" x2="429.5" y2="378.2" stroke="#1a1a1a" stroke-width="1.45" stroke-linecap="butt"/>
<text x="424" y="380.7" font-size="7.8" text-anchor="end" font-weight="normal" fill="#111">0.8</text>
<line x1="426.7" y1="355.7" x2="429.5" y2="355.7" stroke="#1a1a1a" stroke-width="1.45" stroke-linecap="butt"/>
<text x="424" y="358.2" font-size="7.8" text-anchor="end" font-weight="normal" fill="#111">1.0</text>
<rect x="440" y="430.74" width="24.5" height="37.46" fill="#88a6c5"/>
<rect x="477.5" y="399.57" width="24.5" height="68.62" fill="#a0dba0"/>
<line x1="429.5" y1="468.2" x2="512.5" y2="468.2" stroke="#1a1a1a" stroke-width="1.45" stroke-linecap="butt"/>
<line x1="452.2" y1="468.2" x2="452.2" y2="470.8" stroke="#1a1a1a" stroke-width="0.9" stroke-linecap="butt"/>
<line x1="489.8" y1="468.2" x2="489.8" y2="470.8" stroke="#1a1a1a" stroke-width="0.9" stroke-linecap="butt"/>
<text x="452.2" y="479.7" font-size="7.3" text-anchor="middle" font-weight="normal" fill="#111" textLength="23.2" lengthAdjust="spacingAndGlyphs">Vehicle</text>
<text x="489.8" y="479.7" font-size="7.3" text-anchor="middle" font-weight="normal" fill="#111" textLength="39" lengthAdjust="spacingAndGlyphs">Prinomastat</text>
<line x1="452.2" y1="427" x2="452.2" y2="434" stroke="#2a2a2a" stroke-width="1" stroke-linecap="butt"/>
<line x1="446.7" y1="427" x2="457.7" y2="427" stroke="#2a2a2a" stroke-width="1" stroke-linecap="butt"/>
<line x1="446.7" y1="434" x2="457.7" y2="434" stroke="#2a2a2a" stroke-width="1" stroke-linecap="butt"/>
<circle cx="452.2" cy="420" r="2.35" fill="#0d4c8c"/>
<circle cx="445.5" cy="433.3" r="2.35" fill="#0d4c8c"/>
<circle cx="452.2" cy="433.3" r="2.35" fill="#0d4c8c"/>
<circle cx="458.8" cy="433.3" r="2.35" fill="#0d4c8c"/>
<line x1="489.6" y1="393" x2="489.6" y2="405.8" stroke="#2a2a2a" stroke-width="1" stroke-linecap="butt"/>
<line x1="483.8" y1="393" x2="495.4" y2="393" stroke="#2a2a2a" stroke-width="1" stroke-linecap="butt"/>
<line x1="483.8" y1="405.8" x2="495.4" y2="405.8" stroke="#2a2a2a" stroke-width="1" stroke-linecap="butt"/>
<circle cx="489.5" cy="377.5" r="2.35" fill="#2db144"/>
<circle cx="489.5" cy="397" r="2.35" fill="#2db144"/>
<circle cx="489.5" cy="401.3" r="2.35" fill="#2db144"/>
<circle cx="489.5" cy="408.3" r="2.35" fill="#2db144"/>
<circle cx="489.5" cy="414.5" r="2.35" fill="#2db144"/>
<polyline points="451.8,412.5 451.8,364.3 489.5,364.3 489.5,372" fill="none" stroke="#3a3a3a" stroke-width="0.9"/>
<circle cx="469.15" cy="360.3" r="1.15" fill="#2a2a2a"/>
<circle cx="472.45" cy="360.3" r="1.15" fill="#2a2a2a"/>
<text x="406.3" y="412.2" font-size="9.3" text-anchor="middle" font-weight="normal" fill="#111" textLength="6" lengthAdjust="spacingAndGlyphs" transform="rotate(-90 406.3 412.2)" class="c">%</text>
<text x="100.7" y="504.3" font-size="8.9" text-anchor="start" font-weight="normal" fill="#111" textLength="42.9" lengthAdjust="spacingAndGlyphs" class="t">Spleen D26</text>
<line x1="51.8" y1="508.3" x2="51.8" y2="625.5" stroke="#1a1a1a" stroke-width="1.45" stroke-linecap="butt"/>
<line x1="49" y1="625" x2="51.8" y2="625" stroke="#1a1a1a" stroke-width="1.45" stroke-linecap="butt"/>
<text x="46.6" y="627.5" font-size="7.8" text-anchor="end" font-weight="normal" fill="#111">0</text>
<line x1="49" y1="602.2" x2="51.8" y2="602.2" stroke="#1a1a1a" stroke-width="1.45" stroke-linecap="butt"/>
<text x="46.6" y="604.7" font-size="7.8" text-anchor="end" font-weight="normal" fill="#111">20</text>
<line x1="49" y1="579.4" x2="51.8" y2="579.4" stroke="#1a1a1a" stroke-width="1.45" stroke-linecap="butt"/>
<text x="46.6" y="581.9" font-size="7.8" text-anchor="end" font-weight="normal" fill="#111">40</text>
<line x1="49" y1="556.6" x2="51.8" y2="556.6" stroke="#1a1a1a" stroke-width="1.45" stroke-linecap="butt"/>
<text x="46.6" y="559.1" font-size="7.8" text-anchor="end" font-weight="normal" fill="#111">60</text>
<line x1="49" y1="533.8" x2="51.8" y2="533.8" stroke="#1a1a1a" stroke-width="1.45" stroke-linecap="butt"/>
<text x="46.6" y="536.3" font-size="7.8" text-anchor="end" font-weight="normal" fill="#111">80</text>
<line x1="49" y1="511" x2="51.8" y2="511" stroke="#1a1a1a" stroke-width="1.45" stroke-linecap="butt"/>
<text x="46.6" y="513.5" font-size="7.8" text-anchor="end" font-weight="normal" fill="#111">100</text>
<rect x="63.3" y="542.92" width="47.9" height="82.08" fill="#88a6c5"/>
<rect x="133.6" y="566.86" width="48.2" height="58.14" fill="#a0dba0"/>
<line x1="51.8" y1="625" x2="192.8" y2="625" stroke="#1a1a1a" stroke-width="1.45" stroke-linecap="butt"/>
<line x1="87.3" y1="625" x2="87.3" y2="627.6" stroke="#1a1a1a" stroke-width="0.9" stroke-linecap="butt"/>
<line x1="157.7" y1="625" x2="157.7" y2="627.6" stroke="#1a1a1a" stroke-width="0.9" stroke-linecap="butt"/>
<text x="87" y="636.4" font-size="7.3" text-anchor="middle" font-weight="normal" fill="#111" textLength="23.2" lengthAdjust="spacingAndGlyphs">Vehicle</text>
<text x="157.7" y="636.6" font-size="7.3" text-anchor="middle" font-weight="normal" fill="#111" textLength="39" lengthAdjust="spacingAndGlyphs">Prinomastat</text>
<line x1="90" y1="517" x2="164.4" y2="517" stroke="#505050" stroke-width="1.1" stroke-linecap="butt"/>
<circle cx="125.4" cy="512.5" r="1.15" fill="#2a2a2a"/>
<line x1="87" y1="538" x2="87" y2="550" stroke="#2c2c2c" stroke-width="1.2" stroke-linecap="butt"/>
<line x1="75.1" y1="538" x2="98.9" y2="538" stroke="#2c2c2c" stroke-width="1.2" stroke-linecap="butt"/>
<line x1="75.1" y1="550" x2="98.9" y2="550" stroke="#2c2c2c" stroke-width="1.2" stroke-linecap="butt"/>
<circle cx="72.8" cy="528.8" r="2.9" fill="#0d4c8c"/>
<circle cx="80" cy="529.3" r="2.9" fill="#0d4c8c"/>
<circle cx="94.3" cy="529" r="2.9" fill="#0d4c8c"/>
<circle cx="101.3" cy="527" r="2.9" fill="#0d4c8c"/>
<circle cx="87" cy="534.3" r="2.9" fill="#0d4c8c"/>
<circle cx="72.8" cy="542.5" r="2.9" fill="#0d4c8c"/>
<circle cx="80" cy="545" r="2.9" fill="#0d4c8c"/>
<circle cx="90.8" cy="543.8" r="2.9" fill="#0d4c8c"/>
<circle cx="98" cy="539.3" r="2.9" fill="#0d4c8c"/>
<circle cx="83.5" cy="551.8" r="2.9" fill="#0d4c8c"/>
<circle cx="90.8" cy="553.8" r="2.9" fill="#0d4c8c"/>
<circle cx="87.3" cy="603" r="2.9" fill="#0d4c8c"/>
<line x1="157.7" y1="560.8" x2="157.7" y2="573.4" stroke="#2c2c2c" stroke-width="1.2" stroke-linecap="butt"/>
<line x1="145.8" y1="560.8" x2="169.6" y2="560.8" stroke="#2c2c2c" stroke-width="1.2" stroke-linecap="butt"/>
<line x1="145.8" y1="573.4" x2="169.6" y2="573.4" stroke="#2c2c2c" stroke-width="1.2" stroke-linecap="butt"/>
<circle cx="157.4" cy="534.6" r="2.9" fill="#2db144"/>
<circle cx="153.8" cy="547.4" r="2.9" fill="#2db144"/>
<circle cx="161" cy="546.9" r="2.9" fill="#2db144"/>
<circle cx="150.5" cy="555.8" r="2.9" fill="#2db144"/>
<circle cx="164.8" cy="554.2" r="2.9" fill="#2db144"/>
<circle cx="157.5" cy="561.2" r="2.9" fill="#2db144"/>
<circle cx="161" cy="566.9" r="2.9" fill="#2db144"/>
<circle cx="153.8" cy="574.2" r="2.9" fill="#2db144"/>
<circle cx="150.5" cy="584.3" r="2.9" fill="#2db144"/>
<circle cx="157.5" cy="585.4" r="2.9" fill="#2db144"/>
<circle cx="164.8" cy="581.5" r="2.9" fill="#2db144"/>
<circle cx="157.5" cy="614.6" r="2.9" fill="#2db144"/>
<text x="30.9" y="566.5" font-size="9.3" text-anchor="middle" font-weight="normal" fill="#111" textLength="57" lengthAdjust="spacingAndGlyphs" transform="rotate(-90 30.9 566.5)" class="c">% of blast in spleen</text>
<text x="318.8" y="504.9" font-size="9" text-anchor="start" font-weight="normal" fill="#111" textLength="117.4" lengthAdjust="spacingAndGlyphs" class="t">Effect of prinomastat on AML cell</text>
<text x="330.6" y="514.1" font-size="9" text-anchor="start" font-weight="normal" fill="#111" textLength="94.2" lengthAdjust="spacingAndGlyphs" class="t">proliferation (growth curve)</text>
<line x1="302" y1="520.8" x2="302" y2="570.9" stroke="#2e2e2e" stroke-width="1.3" stroke-linecap="butt"/>
<line x1="300.2" y1="570.9" x2="303.8" y2="570.9" stroke="#2e2e2e" stroke-width="1.1" stroke-linecap="butt"/>
<line x1="299" y1="563.1" x2="302" y2="563.1" stroke="#2e2e2e" stroke-width="1.1" stroke-linecap="butt"/>
<text x="296" y="565.6" font-size="7" text-anchor="end" font-weight="normal" fill="#111" textLength="26.36" lengthAdjust="spacingAndGlyphs">500000</text>
<line x1="299" y1="550.4" x2="302" y2="550.4" stroke="#2e2e2e" stroke-width="1.1" stroke-linecap="butt"/>
<text x="296" y="552.9" font-size="7" text-anchor="end" font-weight="normal" fill="#111" textLength="30.75" lengthAdjust="spacingAndGlyphs">1000000</text>
<line x1="299" y1="537.7" x2="302" y2="537.7" stroke="#2e2e2e" stroke-width="1.1" stroke-linecap="butt"/>
<text x="296" y="540.2" font-size="7" text-anchor="end" font-weight="normal" fill="#111" textLength="30.75" lengthAdjust="spacingAndGlyphs">1500000</text>
<line x1="299" y1="525" x2="302" y2="525" stroke="#2e2e2e" stroke-width="1.1" stroke-linecap="butt"/>
<text x="296" y="527.5" font-size="7" text-anchor="end" font-weight="normal" fill="#111" textLength="30.75" lengthAdjust="spacingAndGlyphs">2000000</text>
<line x1="302" y1="579.3" x2="302" y2="625.3" stroke="#2e2e2e" stroke-width="1.3" stroke-linecap="butt"/>
<line x1="300.2" y1="579.3" x2="303.8" y2="579.3" stroke="#2e2e2e" stroke-width="1.1" stroke-linecap="butt"/>
<line x1="299" y1="624.8" x2="302" y2="624.8" stroke="#2e2e2e" stroke-width="1.1" stroke-linecap="butt"/>
<text x="296" y="627.2" font-size="7" text-anchor="end" font-weight="normal" fill="#111" textLength="10.76" lengthAdjust="spacingAndGlyphs">0.0</text>
<line x1="299" y1="613.4" x2="302" y2="613.4" stroke="#2e2e2e" stroke-width="1.1" stroke-linecap="butt"/>
<text x="293.24" y="615.8" font-size="7" text-anchor="end" font-weight="normal" fill="#111" textLength="23.89" lengthAdjust="spacingAndGlyphs">5.0×10</text>
<text x="293.49" y="612" font-size="4.6" text-anchor="start" font-weight="normal" fill="#111">4</text>
<line x1="299" y1="602" x2="302" y2="602" stroke="#2e2e2e" stroke-width="1.1" stroke-linecap="butt"/>
<text x="293.24" y="604.4" font-size="7" text-anchor="end" font-weight="normal" fill="#111" textLength="23.89" lengthAdjust="spacingAndGlyphs">1.0×10</text>
<text x="293.49" y="600.6" font-size="4.6" text-anchor="start" font-weight="normal" fill="#111">5</text>
<line x1="299" y1="590.6" x2="302" y2="590.6" stroke="#2e2e2e" stroke-width="1.1" stroke-linecap="butt"/>
<text x="293.24" y="593" font-size="7" text-anchor="end" font-weight="normal" fill="#111" textLength="23.89" lengthAdjust="spacingAndGlyphs">1.5×10</text>
<text x="293.49" y="589.2" font-size="4.6" text-anchor="start" font-weight="normal" fill="#111">5</text>
<line x1="299" y1="579.2" x2="302" y2="579.2" stroke="#2e2e2e" stroke-width="1.1" stroke-linecap="butt"/>
<text x="293.24" y="581.6" font-size="7" text-anchor="end" font-weight="normal" fill="#111" textLength="23.89" lengthAdjust="spacingAndGlyphs">2.0×10</text>
<text x="293.49" y="577.8" font-size="4.6" text-anchor="start" font-weight="normal" fill="#111">5</text>
<line x1="302" y1="624.8" x2="453.2" y2="624.8" stroke="#2e2e2e" stroke-width="1.3" stroke-linecap="butt"/>
<line x1="321.8" y1="624.8" x2="321.8" y2="627.4" stroke="#2e2e2e" stroke-width="1" stroke-linecap="butt"/>
<text x="321.8" y="637" font-size="8.3" text-anchor="middle" font-weight="normal" fill="#111">0</text>
<line x1="359.6" y1="624.8" x2="359.6" y2="627.4" stroke="#2e2e2e" stroke-width="1" stroke-linecap="butt"/>
<text x="359.6" y="637" font-size="8.3" text-anchor="middle" font-weight="normal" fill="#111">24</text>
<line x1="397.3" y1="624.8" x2="397.3" y2="627.4" stroke="#2e2e2e" stroke-width="1" stroke-linecap="butt"/>
<text x="397.3" y="637" font-size="8.3" text-anchor="middle" font-weight="normal" fill="#111">48</text>
<line x1="435" y1="624.8" x2="435" y2="627.4" stroke="#2e2e2e" stroke-width="1" stroke-linecap="butt"/>
<text x="435" y="637" font-size="8.3" text-anchor="middle" font-weight="normal" fill="#111">72</text>
<text x="378.1" y="648.7" font-size="9.2" text-anchor="middle" font-weight="normal" fill="#111" textLength="16.5" lengthAdjust="spacingAndGlyphs" class="c">Hours</text>
<text x="258.9" y="575" font-size="9.3" text-anchor="middle" font-weight="normal" fill="#111" textLength="27.3" lengthAdjust="spacingAndGlyphs" transform="rotate(-90 258.9 575)" class="c">Cells/well</text>
<defs><clipPath id="kl"><rect x="303" y="579" width="160" height="48"/></clipPath><clipPath id="ku"><rect x="303" y="515" width="160" height="56"/></clipPath></defs>
<g clip-path="url(#kl)"><path d="M321.8,602 L359.6,599.26 L397.3,607.7 L435,617.28" fill="none" stroke="#3bb54a" stroke-width="1.3" stroke-linejoin="round"/><path d="M321.8,602 L359.6,569.45 L397.3,554.97 L435,542.02" fill="none" stroke="#f7941d" stroke-width="1.3" stroke-linejoin="round"/><path d="M321.8,602 L359.6,582.39 L397.3,564.37 L435,541.51" fill="none" stroke="#4b1f70" stroke-width="1.3" stroke-linejoin="round"/><path d="M321.8,602 L359.6,603.6 L397.3,616.14 L435,617.5" fill="none" stroke="#0f4c8a" stroke-width="1.3" stroke-linejoin="round"/><path d="M321.8,590.6 L359.6,601.91 L397.3,620.58 L435,623.89" fill="none" stroke="#c8102e" stroke-width="1.3" stroke-linejoin="round"/></g>
<g clip-path="url(#ku)"><path d="M321.8,602 L359.6,599.26 L397.3,607.7 L435,617.28" fill="none" stroke="#3bb54a" stroke-width="1.3" stroke-linejoin="round"/><path d="M321.8,602 L359.6,569.45 L397.3,554.97 L435,542.02" fill="none" stroke="#f7941d" stroke-width="1.3" stroke-linejoin="round"/><path d="M321.8,602 L359.6,582.39 L397.3,564.37 L435,541.51" fill="none" stroke="#4b1f70" stroke-width="1.3" stroke-linejoin="round"/><path d="M321.8,602 L359.6,603.6 L397.3,616.14 L435,617.5" fill="none" stroke="#0f4c8a" stroke-width="1.3" stroke-linejoin="round"/><path d="M321.8,590.6 L359.6,601.91 L397.3,620.58 L435,623.89" fill="none" stroke="#c8102e" stroke-width="1.3" stroke-linejoin="round"/></g>
<line x1="321.8" y1="597" x2="321.8" y2="607" stroke="#0f4c8a" stroke-width="1" stroke-linecap="butt"/>
<line x1="319.2" y1="597" x2="324.4" y2="597" stroke="#0f4c8a" stroke-width="1" stroke-linecap="butt"/>
<line x1="319.2" y1="607" x2="324.4" y2="607" stroke="#0f4c8a" stroke-width="1" stroke-linecap="butt"/>
<line x1="359.6" y1="593" x2="359.6" y2="603" stroke="#c8102e" stroke-width="1" stroke-linecap="butt"/>
<line x1="357" y1="593" x2="362.2" y2="593" stroke="#c8102e" stroke-width="1" stroke-linecap="butt"/>
<line x1="357" y1="603" x2="362.2" y2="603" stroke="#c8102e" stroke-width="1" stroke-linecap="butt"/>
<line x1="359.6" y1="597" x2="359.6" y2="610.5" stroke="#0f4c8a" stroke-width="1" stroke-linecap="butt"/>
<line x1="357" y1="597" x2="362.2" y2="597" stroke="#0f4c8a" stroke-width="1" stroke-linecap="butt"/>
<line x1="357" y1="610.5" x2="362.2" y2="610.5" stroke="#0f4c8a" stroke-width="1" stroke-linecap="butt"/>
<line x1="359.6" y1="579.8" x2="359.6" y2="585" stroke="#4b1f70" stroke-width="1" stroke-linecap="butt"/>
<line x1="357" y1="579.8" x2="362.2" y2="579.8" stroke="#4b1f70" stroke-width="1" stroke-linecap="butt"/>
<line x1="357" y1="585" x2="362.2" y2="585" stroke="#4b1f70" stroke-width="1" stroke-linecap="butt"/>
<line x1="435" y1="529.7" x2="435" y2="550.4" stroke="#f7941d" stroke-width="1" stroke-linecap="butt"/>
<line x1="432.4" y1="529.7" x2="437.6" y2="529.7" stroke="#f7941d" stroke-width="1" stroke-linecap="butt"/>
<line x1="432.4" y1="550.4" x2="437.6" y2="550.4" stroke="#f7941d" stroke-width="1" stroke-linecap="butt"/>
<line x1="435" y1="531" x2="435" y2="553.6" stroke="#4b1f70" stroke-width="1" stroke-linecap="butt"/>
<line x1="432.4" y1="531" x2="437.6" y2="531" stroke="#4b1f70" stroke-width="1" stroke-linecap="butt"/>
<line x1="432.4" y1="553.6" x2="437.6" y2="553.6" stroke="#4b1f70" stroke-width="1" stroke-linecap="butt"/>
<rect x="318.9" y="599.1" width="5.8" height="5.8" fill="#3bb54a"/>
<rect x="356.7" y="596.36" width="5.8" height="5.8" fill="#3bb54a"/>
<rect x="394.4" y="604.8" width="5.8" height="5.8" fill="#3bb54a"/>
<rect x="432.1" y="614.38" width="5.8" height="5.8" fill="#3bb54a"/>
<rect x="356.7" y="566.55" width="5.8" height="5.8" fill="#f7941d"/>
<rect x="394.4" y="552.07" width="5.8" height="5.8" fill="#f7941d"/>
<rect x="432.1" y="539.12" width="5.8" height="5.8" fill="#f7941d"/>
<rect x="318.9" y="599.1" width="5.8" height="5.8" fill="#4b1f70"/>
<rect x="356.7" y="579.49" width="5.8" height="5.8" fill="#4b1f70"/>
<rect x="394.4" y="561.47" width="5.8" height="5.8" fill="#4b1f70"/>
<rect x="432.1" y="538.61" width="5.8" height="5.8" fill="#4b1f70"/>
<rect x="318.9" y="599.1" width="5.8" height="5.8" fill="#0f4c8a"/>
<rect x="356.7" y="600.7" width="5.8" height="5.8" fill="#0f4c8a"/>
<rect x="394.4" y="613.24" width="5.8" height="5.8" fill="#0f4c8a"/>
<rect x="432.1" y="614.6" width="5.8" height="5.8" fill="#0f4c8a"/>
<rect x="318.9" y="587.7" width="5.8" height="5.8" fill="#c8102e"/>
<rect x="356.7" y="599.01" width="5.8" height="5.8" fill="#c8102e"/>
<rect x="394.4" y="617.68" width="5.8" height="5.8" fill="#c8102e"/>
<rect x="432.1" y="620.99" width="5.8" height="5.8" fill="#c8102e"/>
<rect x="318.9" y="599.1" width="5.8" height="5.8" fill="#0f4c8a"/>
<rect x="318.9" y="587.7" width="5.8" height="5.8" fill="#c8102e"/>
<line x1="467" y1="531.5" x2="479" y2="531.5" stroke="#c8102e" stroke-width="1.5" stroke-linecap="butt"/>
<rect x="470.1" y="528.6" width="5.8" height="5.8" fill="#c8102e"/>
<text x="483.1" y="534.1" font-size="7.4" text-anchor="start" font-weight="normal" fill="#111">200μg/ml</text>
<line x1="467" y1="543.15" x2="479" y2="543.15" stroke="#0f4c8a" stroke-width="1.5" stroke-linecap="butt"/>
<rect x="470.1" y="540.25" width="5.8" height="5.8" fill="#0f4c8a"/>
<text x="483.1" y="545.75" font-size="7.4" text-anchor="start" font-weight="normal" fill="#111">100μg/ml</text>
<line x1="467" y1="554.8" x2="479" y2="554.8" stroke="#3bb54a" stroke-width="1.5" stroke-linecap="butt"/>
<rect x="470.1" y="551.9" width="5.8" height="5.8" fill="#3bb54a"/>
<text x="483.1" y="557.4" font-size="7.4" text-anchor="start" font-weight="normal" fill="#111">50μg/ml</text>
<line x1="467" y1="566.45" x2="479" y2="566.45" stroke="#4b1f70" stroke-width="1.5" stroke-linecap="butt"/>
<rect x="470.1" y="563.55" width="5.8" height="5.8" fill="#4b1f70"/>
<text x="483.1" y="569.05" font-size="7.4" text-anchor="start" font-weight="normal" fill="#111">10μg/ml</text>
<line x1="467" y1="578.1" x2="479" y2="578.1" stroke="#f7941d" stroke-width="1.5" stroke-linecap="butt"/>
<rect x="470.1" y="575.2" width="5.8" height="5.8" fill="#f7941d"/>
<text x="483.1" y="580.7" font-size="7.4" text-anchor="start" font-weight="normal" fill="#111">CTRL</text></g></svg></body></html>
